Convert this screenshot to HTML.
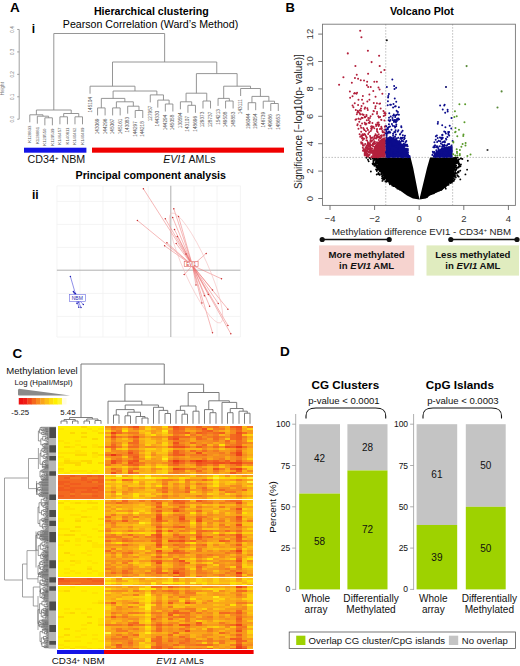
<!DOCTYPE html>
<html><head><meta charset="utf-8"><style>
html,body{margin:0;padding:0;background:#fff;}
svg{display:block;font-family:"Liberation Sans", sans-serif;}
</style></head><body>
<svg width="520" height="666" viewBox="0 0 520 666">
<rect width="520" height="666" fill="#fff"/>
<g id="A">
<text x="10" y="12.2" font-size="13.5" font-weight="bold" text-anchor="start" fill="#000">A</text>
<text x="93.9" y="14.5" font-size="10.67" font-weight="bold" text-anchor="start" fill="#000">Hierarchical clustering</text>
<text x="62.8" y="27.7" font-size="10.64" text-anchor="start" fill="#000">Pearson Correlation (Ward&#8217;s Method)</text>
<text x="31.8" y="33" font-size="12" font-weight="bold" text-anchor="start" fill="#000">i</text>
<g stroke="#888" stroke-width="0.8" fill="none">
<path d="M19.2 29.5V119.2"/>
<path d="M17.2 119.2H19.2"/>
<path d="M17.2 96.77H19.2"/>
<path d="M17.2 74.34H19.2"/>
<path d="M17.2 51.91H19.2"/>
<path d="M17.2 29.48H19.2"/>
</g>
<text transform="translate(13.8 119.2) rotate(-90)" font-size="4.6" text-anchor="middle" fill="#777">0.0</text>
<text transform="translate(13.8 96.77) rotate(-90)" font-size="4.6" text-anchor="middle" fill="#777">0.1</text>
<text transform="translate(13.8 74.34) rotate(-90)" font-size="4.6" text-anchor="middle" fill="#777">0.2</text>
<text transform="translate(13.8 51.91) rotate(-90)" font-size="4.6" text-anchor="middle" fill="#777">0.3</text>
<text transform="translate(13.8 29.48) rotate(-90)" font-size="4.6" text-anchor="middle" fill="#777">0.4</text>
<text transform="translate(3.6 88.7) rotate(-90)" font-size="4.6" text-anchor="middle" fill="#777">Height</text>
<path d="M29.8 114.8V122.3M37.33 116.2V123.7M44.86 117.8V125.3M52.39 117.8V125.3M44.86 117.8H52.39M48.62 116.2V117.8M37.33 116.2H48.62M42.98 114.8V116.2M29.8 114.8H42.98M36.39 110V114.8M59.92 116.8V124.3M67.45 116.8V124.3M59.92 116.8H67.45M63.69 113.5V116.8M74.98 116.8V124.3M82.51 116.8V124.3M74.98 116.8H82.51M78.75 113.5V116.8M63.69 113.5H78.75M71.22 110V113.5M36.39 110H71.22M53.8 33.5V110M90.04 86.2V93.7M97.57 107.9V115.4M105.1 107.9V115.4M97.57 107.9H105.1M101.33 98.4V107.9M112.63 107.9V115.4M120.16 107.9V115.4M112.63 107.9H120.16M116.39 101.8V107.9M127.69 106.2V113.7M135.22 110.5V118M142.75 110.5V118M135.22 110.5H142.75M138.99 106.2V110.5M127.69 106.2H138.99M133.34 101.8V106.2M116.39 101.8H133.34M124.87 98.4V101.8M101.33 98.4H124.87M113.1 91V98.4M150.28 94.9V102.4M157.81 100.1V107.6M165.34 104V111.5M172.87 104V111.5M165.34 104H172.87M169.11 100.1V104M157.81 100.1H169.11M163.46 94.9V100.1M150.28 94.9H163.46M156.87 91V94.9M113.1 91H156.87M134.98 86.2V91M90.04 86.2H134.98M112.51 62V86.2M180.4 101.8V109.3M187.93 105.3V112.8M195.46 105.3V112.8M187.93 105.3H195.46M191.69 101.8V105.3M180.4 101.8H191.69M186.05 93.2V101.8M202.99 101V108.5M210.52 101V108.5M202.99 101H210.52M206.75 93.2V101M186.05 93.2H206.75M196.4 73.6V93.2M218.05 98.4V105.9M225.58 101V108.5M233.11 101V108.5M225.58 101H233.11M229.35 98.4V101M218.05 98.4H229.35M223.7 86.2V98.4M240.64 88.5V96M248.17 102.7V110.2M255.7 102.7V110.2M248.17 102.7H255.7M251.94 96.4V102.7M263.23 101.2V108.7M270.76 103.5V111M278.29 103.5V111M270.76 103.5H278.29M274.52 101.2V103.5M263.23 101.2H274.52M268.88 96.4V101.2M251.94 96.4H268.88M260.41 88.5V96.4M240.64 88.5H260.41M250.52 86.2V88.5M223.7 86.2H250.52M237.11 73.6V86.2M196.4 73.6H237.11M216.76 62V73.6M112.51 62H216.76M164.63 33.5V62M53.8 33.5H164.63" stroke="#8a8a8a" stroke-width="0.9" fill="none"/>
<text transform="translate(31.3 125.5) rotate(-90)" font-size="4.3" text-anchor="end" fill="#555">K128833</text>
<text transform="translate(38.83 126.9) rotate(-90)" font-size="4.3" text-anchor="end" fill="#555">K128881</text>
<text transform="translate(46.36 128.5) rotate(-90)" font-size="4.3" text-anchor="end" fill="#555">K129550</text>
<text transform="translate(53.89 128.5) rotate(-90)" font-size="4.3" text-anchor="end" fill="#555">K129539</text>
<text transform="translate(61.42 127.5) rotate(-90)" font-size="4.3" text-anchor="end" fill="#555">K146457</text>
<text transform="translate(68.95 127.5) rotate(-90)" font-size="4.3" text-anchor="end" fill="#555">K140811</text>
<text transform="translate(76.48 127.5) rotate(-90)" font-size="4.3" text-anchor="end" fill="#555">K140462</text>
<text transform="translate(84.01 127.5) rotate(-90)" font-size="4.3" text-anchor="end" fill="#555">K140409</text>
<text transform="translate(91.54 96.9) rotate(-90)" font-size="4.7" text-anchor="end" fill="#555">145104</text>
<text transform="translate(99.07 118.6) rotate(-90)" font-size="4.7" text-anchor="end" fill="#555">143069</text>
<text transform="translate(106.6 118.6) rotate(-90)" font-size="4.7" text-anchor="end" fill="#555">144296</text>
<text transform="translate(114.13 118.6) rotate(-90)" font-size="4.7" text-anchor="end" fill="#555">145067</text>
<text transform="translate(121.66 118.6) rotate(-90)" font-size="4.7" text-anchor="end" fill="#555">145161</text>
<text transform="translate(129.19 116.9) rotate(-90)" font-size="4.7" text-anchor="end" fill="#555">143083</text>
<text transform="translate(136.72 121.2) rotate(-90)" font-size="4.7" text-anchor="end" fill="#555">144297</text>
<text transform="translate(144.25 121.2) rotate(-90)" font-size="4.7" text-anchor="end" fill="#555">144218</text>
<text transform="translate(151.78 105.6) rotate(-90)" font-size="4.7" text-anchor="end" fill="#555">127957</text>
<text transform="translate(159.31 110.8) rotate(-90)" font-size="4.7" text-anchor="end" fill="#555">144330</text>
<text transform="translate(166.84 114.7) rotate(-90)" font-size="4.7" text-anchor="end" fill="#555">144294</text>
<text transform="translate(174.37 114.7) rotate(-90)" font-size="4.7" text-anchor="end" fill="#555">145058</text>
<text transform="translate(181.9 112.5) rotate(-90)" font-size="4.7" text-anchor="end" fill="#555">130594</text>
<text transform="translate(189.43 116) rotate(-90)" font-size="4.7" text-anchor="end" fill="#555">143107</text>
<text transform="translate(196.96 116) rotate(-90)" font-size="4.7" text-anchor="end" fill="#555">148696</text>
<text transform="translate(204.49 111.7) rotate(-90)" font-size="4.7" text-anchor="end" fill="#555">129373</text>
<text transform="translate(212.02 111.7) rotate(-90)" font-size="4.7" text-anchor="end" fill="#555">128737</text>
<text transform="translate(219.55 109.1) rotate(-90)" font-size="4.7" text-anchor="end" fill="#555">154213</text>
<text transform="translate(227.08 111.7) rotate(-90)" font-size="4.7" text-anchor="end" fill="#555">149508</text>
<text transform="translate(234.61 111.7) rotate(-90)" font-size="4.7" text-anchor="end" fill="#555">148853</text>
<text transform="translate(242.14 99.2) rotate(-90)" font-size="4.7" text-anchor="end" fill="#555">143111</text>
<text transform="translate(249.67 113.4) rotate(-90)" font-size="4.7" text-anchor="end" fill="#555">196044</text>
<text transform="translate(257.2 113.4) rotate(-90)" font-size="4.7" text-anchor="end" fill="#555">196054</text>
<text transform="translate(264.73 111.9) rotate(-90)" font-size="4.7" text-anchor="end" fill="#555">146739</text>
<text transform="translate(272.26 114.2) rotate(-90)" font-size="4.7" text-anchor="end" fill="#555">149686</text>
<text transform="translate(279.79 114.2) rotate(-90)" font-size="4.7" text-anchor="end" fill="#555">148653</text>
<rect x="24" y="147.7" width="62.4" height="5" fill="#1414e6"/>
<rect x="92" y="147.6" width="192" height="5.1" fill="#f00000"/>
<text x="27.6" y="163" font-size="10.7" fill="#111">CD34<tspan font-size="6" dy="-2.6">+</tspan><tspan dy="2.6"> NBM</tspan></text>
<text x="163.2" y="163.2" font-size="10.6" fill="#111"><tspan font-style="italic">EVI1</tspan> AMLs</text>
</g>
<g id="Aii">
<text x="75.6" y="179.1" font-size="10.67" font-weight="bold" text-anchor="start" fill="#000">Principal component analysis</text>
<text x="32" y="198.75" font-size="12" font-weight="bold" text-anchor="start" fill="#000">ii</text>
<path d="M56.9 185.8V337M79.9 185.8V337M102.9 185.8V337M125.9 185.8V337M148.2 185.8V337M194 185.8V337M217 185.8V337M240.4 185.8V337M56.9 185.8H240.4M56.9 201.4H240.4M56.9 224.4H240.4M56.9 247.4H240.4M56.9 293.4H240.4M56.9 316.4H240.4M56.9 337H240.4" stroke="#f1f1f1" stroke-width="0.8" fill="none"/>
<path d="M170.8 185.8V337M56.9 270.2H240.4" stroke="#9a9a9a" stroke-width="0.8" fill="none"/>
<path d="M192.5 265.5L143.4 188.8M192.5 265.5L137.4 220.4M192.5 265.5L173.8 208.8M192.5 265.5L178.5 216.5M192.5 265.5L172.7 217.6M192.5 265.5L165.3 218.8M192.5 265.5L174.5 229.6M192.5 265.5L177.3 236.5M192.5 265.5L166.9 242.8M192.5 265.5L164.6 245.8M192.5 265.5L176.2 243.5M192.5 265.5L206.2 253.4M192.5 265.5L221.5 278.8M192.5 265.5L184.2 274.6M192.5 265.5L212.5 290M192.5 265.5L204.4 295.8M192.5 265.5L208.3 294.6M192.5 265.5L209.6 306.2M192.5 265.5L218.3 303.5M192.5 265.5L227.9 309.2M192.5 265.5L227.9 325.4M192.5 265.5L212.5 332.7M192.5 265.5L230.8 333.7M192.5 265.5L201.9 303M192.5 265.5L196 285M192.5 265.5L186 254" stroke="#ec7272" stroke-width="0.6" fill="none" opacity="0.85"/>
<ellipse cx="196" cy="268" rx="12" ry="60" transform="rotate(-24 196 268)" stroke="#f2b5b5" stroke-width="0.5" fill="none"/>
<path d="M143.4 188.8h0M137.4 220.4h0M173.8 208.8h0M178.5 216.5h0M172.7 217.6h0M165.3 218.8h0M174.5 229.6h0M177.3 236.5h0M166.9 242.8h0M164.6 245.8h0M176.2 243.5h0M206.2 253.4h0M221.5 278.8h0M184.2 274.6h0M212.5 290h0M204.4 295.8h0M208.3 294.6h0M209.6 306.2h0M218.3 303.5h0M227.9 309.2h0M227.9 325.4h0M212.5 332.7h0M230.8 333.7h0M201.9 303h0M196 285h0M186 254h0" stroke="#c83030" stroke-width="1.5" stroke-linecap="round" fill="none"/>
<rect x="184.2" y="261.3" width="13.9" height="5.4" fill="#fff" stroke="#e06060" stroke-width="0.6"/>
<text x="191.2" y="265.7" font-size="4.5" text-anchor="middle" fill="#d03030">EVI1</text>
<path d="M76.5 297.5L70.4 276.5M76.5 297.5L74.2 292.7M76.5 297.5L73.4 291.6M76.5 297.5L75.5 293.5M76.5 297.5L78.8 302M76.5 297.5L83.3 304.5M76.5 297.5L78.8 307.3M76.5 297.5L81 307.5M76.5 297.5L77 303.5" stroke="#6060e0" stroke-width="0.7" fill="none"/>
<path d="M70.4 276.5h0M74.2 292.7h0M73.4 291.6h0M75.5 293.5h0M78.8 302h0M83.3 304.5h0M78.8 307.3h0M81 307.5h0M77 303.5h0" stroke="#2020b0" stroke-width="1.5" stroke-linecap="round" fill="none"/>
<rect x="69.4" y="294.6" width="15.9" height="6.7" fill="#fff" stroke="#6a6ae0" stroke-width="0.6"/>
<text x="77.3" y="299.6" font-size="5" text-anchor="middle" fill="#2a2ab0">NBM</text>
</g>
<g id="B">
<text x="285.4" y="11.5" font-size="13" font-weight="bold" text-anchor="start" fill="#000">B</text>
<text x="390" y="14.6" font-size="10.7" font-weight="bold" text-anchor="start" fill="#000">Volcano Plot</text>
<path d="M385.75 24.2V205.4M452.65 24.2V205.4M322.5 157.4H515.4" stroke="#999" stroke-width="0.7" stroke-dasharray="1.4 1.6" fill="none"/>
<polygon points="410.6,157.5 413.2,168 419.4,199.4 413,198.6 407,195.6 400,190.5 392,185.5 386.5,180 380.6,170 375.8,157.5" fill="#000"/>
<polygon points="430,157.5 427,168 419.4,199.4 426,198.6 430,195.6 441.5,190.5 448,185.5 452.5,180 454.6,170 454.6,157.5" fill="#000"/>
<path d="M454.61 179.16h0M439.39 189.59h0M381.34 172.1h0M410.99 193.53h0M455.96 173.47h0M382.91 172.67h0M381.84 172.37h0M400.92 187.52h0M459.18 166.22h0M452.57 176.51h0M384.71 177.27h0M376.26 157.49h0M453.29 169.01h0M414.04 195.95h0M452.84 181.22h0M373.61 163.47h0M397.52 188.65h0M389.59 181.34h0M384.74 174.63h0M430.31 193.67h0M422.4 196.53h0M400.04 187.34h0M422.28 196.69h0M452.92 174.91h0M384.24 176.91h0M389.89 181.44h0M421.35 197.11h0M405.16 189.69h0M414.92 195.46h0M455.65 166.43h0M454.47 164.14h0M384.15 173.98h0M423.66 196.51h0M456.12 159.02h0M378.21 164.06h0M406.53 191.01h0M379.62 164.64h0M381.75 172.14h0M456.26 169.84h0M386.92 180.39h0M431.07 192.8h0M445.32 186.92h0M392.24 185.47h0M434.7 192.11h0M384.1 174.91h0M399.41 189.03h0M427.84 194.38h0M437.18 190.13h0M384.77 176.03h0M450.38 179.24h0M376.82 171.03h0M453.24 178.27h0M377.23 169.28h0M450.57 177.97h0M393.59 184.46h0M379.32 167.85h0M456.21 165.61h0M457.58 161.34h0M374.71 159.62h0M455.16 172.3h0M391.37 182.07h0M453.16 171.73h0M457.62 162.18h0M454.61 174.05h0M384.62 178.75h0M396.49 184.8h0M386.07 178.02h0M453.54 166.14h0M399.67 186.97h0M382.73 172.82h0M455.03 167.18h0M456.43 161.7h0M449.04 181.05h0M376.63 165.11h0M454.65 162.16h0M398.94 188.79h0M385.32 177.41h0M393.7 186.13h0M431.41 192.65h0M450.34 180.68h0M455.38 170.43h0M395.14 186.08h0M455.39 170.18h0M379.08 165.68h0M453.05 171.66h0M379.53 164.17h0M378.87 166.17h0M430.95 192.8h0M376.36 159.05h0M403.56 190.03h0M379.77 167.13h0M392.68 183.39h0M386.17 181.5h0M377.48 168.43h0M384.03 179.23h0M450.86 182.16h0M383.42 178.71h0M376.22 165.41h0M445.79 188.66h0M451.82 175.8h0M399.55 186.73h0M450.34 179.61h0M455.17 166.61h0M454.32 162.66h0M375.08 165.35h0M454.26 160.74h0M436.61 191.22h0M376.38 159.42h0M455.83 167.02h0M380.89 168.17h0M451.7 176.36h0M376.28 163.55h0M394.43 185.03h0M384.27 174.37h0M386.5 180.8h0M416.18 196.03h0M458.69 176.63h0M408.12 192.29h0M378.72 169.68h0M454.83 160.55h0M444.43 186.43h0M453.24 161.34h0M384.81 176.27h0M373.4 160.37h0M379.93 169.24h0M422.27 196.66h0M444.74 184.33h0M383.62 177.28h0M454.21 163.28h0M373.45 162.22h0M448.51 182.2h0M382.36 175.75h0M385.59 176.09h0M374.37 164.93h0M445.58 184.58h0M379.14 166.21h0M377.34 161.87h0M429.59 193.63h0M432.56 193.28h0M403.37 189.16h0M433.82 193.31h0M434.07 192.54h0M385.75 177.15h0M425.02 196.16h0M407.08 191.31h0M436.1 190.85h0M376.45 160.3h0M381.36 170.08h0M455.85 166.75h0M392.19 183.04h0M383.68 173.26h0M439.57 189.17h0M451.1 179.09h0M405.97 190.57h0M394.73 184.27h0M458.41 162.93h0M376.72 174.5h0M453.36 165.15h0M398.76 186.02h0M459.14 164.76h0M435.22 191.84h0M377.17 166.65h0M388.25 181.01h0M386.61 178.5h0M377.84 161.85h0M460.27 170.67h0M442.49 188.55h0M448.85 181.65h0M382.55 171.61h0M411.85 196.22h0M456.78 167.78h0M454.48 166.88h0M421.98 196.7h0M457.32 175.28h0M373.06 158.71h0M410.35 194.1h0M386.65 181.78h0M373.11 163.13h0M452.05 180.06h0M453.5 173.38h0M452.81 176.06h0M445.41 185.87h0M414.22 196.06h0M450.22 180.89h0M425.77 195.03h0M454.34 157.85h0M411.2 194.21h0M375.6 158.47h0M412.42 195.32h0M386.02 178.52h0M381.22 173.15h0M409.36 192.44h0M391.8 182.96h0M455.18 170.59h0M455.05 173.25h0M375.64 164.74h0M377.67 159.28h0M454.89 161.66h0M396.69 186.21h0M402.43 189.59h0M386.24 177.18h0M426.84 194.71h0M399.51 186.82h0M384.86 175.61h0M376.42 167.1h0M447.93 182.3h0M448.25 183.06h0M374.74 163.81h0M454.85 165.26h0M376.31 166.59h0M450.67 179.48h0M435.6 191.03h0M396.15 185.57h0M430.55 193.28h0M410.57 194.01h0M454.97 164.74h0M396.17 185.26h0M381.67 170.82h0M453.87 169.51h0M395.21 185.89h0M440.94 188.44h0M454.3 168.95h0M451.2 179.73h0M376.86 158.68h0M431.33 193.78h0M384 173.9h0M454.3 167.78h0M375.43 163.9h0M438.19 190.11h0M415.67 196.25h0M455.04 175.51h0M379.09 165.17h0M451.81 174.01h0M411.75 193.89h0M373.37 161.41h0M430.25 193.26h0M396.42 187.38h0M445.69 183.69h0M448.54 181.46h0M435 191.7h0M384.25 175.78h0M453.94 180.82h0M456.86 163.22h0M370.82 159.08h0M385.29 176.32h0M386.8 180.43h0M399.06 187.37h0M406.42 190.47h0M448.31 181.66h0M382.03 178.4h0M397.04 185.07h0M427.73 194.65h0M422.92 196.45h0M410.34 192.81h0M391.26 182.85h0M452.3 176.92h0M441.43 189.78h0M457.85 159.89h0M459.11 163.22h0M391.19 183.54h0M385.77 177.96h0M433.95 191.79h0M453.41 158.35h0M377 160.41h0M455.68 162.4h0M388.7 180.39h0M452.11 180.61h0M374.07 164.95h0M453.33 171.82h0M384.91 174.41h0M417.76 197.08h0M398.71 186.41h0M458.36 161.78h0M453.32 175.54h0M413.58 196.37h0M431.27 193.52h0M441 188.85h0M453.43 164.07h0M446.17 184.57h0M386.65 178.57h0M391.54 182.84h0M386.2 178.78h0M379.66 171.15h0M453.19 178.25h0M452.04 174.72h0M372.59 163.58h0M377.71 161.31h0M453.59 175.69h0M454.62 159.22h0M438.37 189.63h0M454.06 168.07h0M451.88 178.46h0M450.76 179.38h0M411.05 193.38h0M439.49 189.98h0M380.91 169.16h0M400.19 188.13h0M453.38 166.49h0M454.92 160.55h0M403.4 188.97h0M460.94 164.51h0M452.86 172.38h0M457.28 172.77h0M382.09 170.9h0M398.4 186.77h0M432.89 192.91h0M440.48 188.99h0M378.5 172.84h0M443.7 187.04h0M386.08 177.25h0M381.42 174.32h0M381.23 168.71h0M383.77 174.59h0M411.51 193.82h0M450.79 178.14h0M456.26 160.22h0M396.34 186.56h0M400.62 187.65h0M453.56 174.87h0M458.39 161.49h0M384 173.23h0M453.14 169.91h0M441.85 187.56h0M384.01 175.36h0M452.99 179.08h0M367.97 159.81h0M446.53 184.91h0M377.61 166.8h0M441.56 189.2h0M432.17 192.43h0M405.89 190.23h0M392.26 183.94h0M378.3 168.46h0M431.52 193.06h0M448.5 180.78h0M457.58 157.61h0M372.85 164.35h0M453.17 176.23h0M389 180.43h0M454.09 168.3h0M453.13 168.05h0M381.91 173.55h0M441.53 187.42h0M460.89 158.49h0M377.36 169.52h0M376.46 159.77h0M455.82 157.43h0M377.44 165.14h0M458.65 171.33h0M409.68 193.21h0M433.63 192.21h0M443.67 185.24h0M439.51 190.3h0M450.72 181.35h0M381.14 169.63h0M453.36 161.43h0M389.89 184.24h0M384.57 178.35h0M402.76 189.08h0M450.4 183.06h0M415.83 196.49h0M377.28 159.41h0M452.93 171.3h0M456.25 161.36h0M377.44 168.8h0M460.44 166.18h0M412.08 193.99h0M454.34 169.67h0M403.89 189.94h0M399.3 186.27h0M378.28 173.69h0M405.01 189.96h0M398.2 186.13h0M378.02 160.69h0M382.3 176.04h0M451.03 175.78h0M374.89 165.22h0M399.71 189.6h0M397.04 186.04h0M369.64 157.89h0M458.52 172.42h0M413.91 194.74h0M452.57 175.04h0M425.65 195.86h0M382.75 177.04h0M432.94 192.68h0M442.53 187.78h0M380.8 168.68h0M398.42 186.81h0M397.71 186.75h0M378.91 173.42h0M403.84 189.98h0M453.14 172.96h0M377.79 168.4h0M411.07 194.25h0M378.55 165.68h0M383.34 172.37h0M444.95 184.64h0M458.4 166.72h0M438.5 190.31h0M442.99 187.27h0M374.42 165.87h0M445.46 184.58h0M375.5 158.57h0M407.94 192.03h0M378.19 167.53h0M421.99 197h0M448.56 181.52h0M383.57 178.38h0M380.65 168.64h0M396.18 185.38h0M387.22 178.79h0M451.7 182.67h0M401.44 188.46h0M390.28 181.12h0M373.66 160.9h0M451.48 178.75h0M391.51 182.08h0M440.16 188.57h0M459.24 165.18h0M401.09 189.04h0M452.46 178.35h0M375.45 157.67h0M390.61 181.91h0M426.16 195.26h0M415.84 196.39h0M457.48 167.67h0M401.83 188.49h0M392.8 182.78h0M405.31 191.68h0M378.56 168.39h0M391.52 181.86h0M455.89 163.18h0M382.07 176.5h0M395.87 185.12h0M386.37 176.71h0M425.51 195.87h0M455.05 169.56h0M444.96 184.66h0M440.55 188.99h0M453.16 175.88h0M377.18 162.72h0M431.01 193.05h0M414.33 195.51h0M458.64 167.45h0M455.91 158.37h0M380.8 170.89h0M380.88 169.75h0M453.62 159.18h0M431.72 193.56h0M433.58 192.37h0M445.77 184.09h0M379.96 169.19h0M385.19 178.25h0M390.11 183.2h0M377.74 161.07h0M451.04 178.13h0M377.89 169.31h0M377.72 161.27h0M389.76 181.06h0M449.17 182.14h0M400.29 187.06h0M425.91 195.73h0M398.28 186.72h0M458.16 171.61h0M389.22 182.72h0M378.14 166.48h0M450.47 180.62h0M428.45 194.41h0M375.99 160.99h0M454.27 165.19h0M374.02 158.31h0M452.47 173.08h0M398.7 187.81h0M457.8 160.32h0M379.34 163.4h0M452.27 172.32h0M416.02 196.36h0M376.03 169.5h0M436.26 190.79h0M455.03 165.15h0M455.1 167.37h0M399.57 187.71h0M373.93 160.68h0M375.87 162.27h0M448.57 184.81h0M454.27 176.77h0M449.42 180.73h0M428.13 195.01h0M456.26 169.56h0M456.43 168.69h0M403.13 189.84h0M376.16 163.65h0M454.49 169.04h0M378.73 165.3h0M395.01 185.53h0M460.95 158.44h0M372.85 158.57h0M445.1 186.48h0M389.23 181.37h0M413.98 195.2h0M392.53 182.97h0M387.94 181.06h0M402.82 190.33h0M444.71 184.85h0M386.15 180.91h0M454.32 158.16h0M397.27 185.9h0M383.08 179.56h0M455.77 162.15h0M433.02 192.35h0M452.87 174.53h0M452.7 172.29h0M439.97 189.14h0M379.7 174.92h0M394.94 184.84h0M426.96 196.97h0M440.04 189.1h0M452.17 177.89h0M382.39 174.99h0M456.65 168.48h0M455.82 177.41h0M467.82 160.74h0M382.41 180.9h0M456.24 158.76h0M454.82 173.21h0M465.43 174.42h0M452.9 180.49h0M449.16 181.79h0M459.1 159.26h0M458.52 172.21h0M366.43 157.75h0M462.41 158.97h0M457.79 175.88h0M452.55 181.48h0M458.71 164.2h0M459.2 165.86h0M378.75 174.36h0M458.5 159.74h0M382.49 176.79h0M455.43 176.85h0M455.66 176.98h0M384.19 179.45h0M451.85 181.52h0M467.12 169.67h0M368.7 161.35h0M385.43 181.55h0M460.31 179.39h0M370.87 171.45h0M454.48 160.17h0" stroke="#000" stroke-width="1.9" stroke-linecap="round" fill="none"/>
<path d="M372 157.4L373 150L376 144L381 139L385.7 137V157.4Z" fill="#b3203c"/>
<path d="M385.7 157.4V139L390 136L396 139L402 144L407 150L410 157.4Z" fill="#0c0c8c"/>
<path d="M432.5 157.4L434 154L438 150L444 147L452.6 146V157.4Z" fill="#0c0c8c"/>
<path d="M369.68 152.21h0M371.17 128.4h0M367.18 150.4h0M367.79 109.94h0M378.63 137.16h0M377.06 157.31h0M383.27 132.07h0M377.08 111.98h0M384.41 149.78h0M358.6 118.79h0M384.42 129.87h0M372.95 145.92h0M364.66 153.86h0M381.2 144.18h0M380.66 108.46h0M367.16 81.73h0M375.51 134.3h0M380.04 138.33h0M366.91 156.31h0M367.3 149.7h0M363.56 150.67h0M357.07 92.84h0M366.56 116.01h0M381.16 119.76h0M364.06 138.79h0M364.57 150.94h0M369.39 94.53h0M373.84 144.32h0M361.26 143.38h0M384.8 143.34h0M369.51 154.58h0M372.03 137.69h0M365.11 134.4h0M371.07 150.18h0M368.19 134.01h0M381.16 151.67h0M363.15 145.09h0M370.55 145.16h0M382.67 146.87h0M367.76 155.45h0M372.63 114.23h0M365.18 124.32h0M349.88 91.53h0M361.14 142.37h0M361.2 131.71h0M375.01 137.98h0M365.17 149.23h0M383.72 152.31h0M359.8 110.33h0M363.75 138.41h0M379.38 155.86h0M374.95 147.55h0M383.71 152.02h0M363.86 145.53h0M369.87 117.99h0M363.38 149.04h0M365.88 135.94h0M380.45 156.57h0M358.1 104.99h0M362.87 96.05h0M370.36 141.42h0M373.8 102.95h0M377.41 135.41h0M385.24 115.33h0M357.66 124.14h0M372.4 156.72h0M361.14 127.7h0M377.69 132.14h0M361.84 142.43h0M379.58 89.49h0M383.15 154.53h0M375.4 156.66h0M366.17 153.03h0M381.29 126.76h0M376.09 135.14h0M379.11 137.81h0M380.86 152.17h0M367.74 143.75h0M384.07 134.42h0M359.27 121.7h0M360.14 114.58h0M375.11 157.17h0M368.76 155.51h0M369.16 151.86h0M368.97 149.01h0M384.38 146.57h0M377.18 143.23h0M373.28 90.94h0M370.53 137.28h0M381.04 72.22h0M370.72 130.95h0M356.15 119.24h0M368.5 146.72h0M370.05 135.93h0M367.75 155.51h0M377.09 144.77h0M383.59 154.12h0M367.7 155.21h0M370.6 116.35h0M384.93 129.46h0M372.09 127.63h0M374.49 136.44h0M379.26 142.63h0M375.59 155.96h0M368.85 149.24h0M360.99 108.49h0M378.8 139.89h0M372.88 143.39h0M358.48 128.65h0M374.49 154.83h0M366.52 137.92h0M356.4 93.77h0M363.83 129.04h0M360.52 125.68h0M364.73 122.85h0M364.33 149.3h0M369.87 143.37h0M353.42 107.28h0M378.29 157.22h0M375.52 146.65h0M372.67 152.88h0M378.33 155.02h0M356.76 74.72h0M382.3 139.55h0M378.58 122.38h0M369.62 145.65h0M377.03 124.47h0M378.78 146.22h0M379.4 103.69h0M378.89 124.51h0M377.05 131.18h0M362.53 143.69h0M373.6 139.3h0M376.85 129.78h0M376.22 151.89h0M380.53 148.25h0M368.01 156.39h0M358.09 78.87h0M374.3 156.85h0M372.04 156.25h0M377.53 122.72h0M373.46 157.18h0M378.15 154.54h0M362.74 139.98h0M381.72 144.11h0M358.74 112.26h0M383.99 135.71h0M375.76 151.42h0M378.74 134.31h0M357.8 110.75h0M351.84 82.82h0M372.66 156.89h0M365.95 154.99h0M361.68 117.87h0M383.96 151.4h0M364.68 108.82h0M371.53 129.54h0M373.51 111.08h0M376.58 148.36h0M370.2 147.22h0M382.35 93.86h0M373.89 155.39h0M379.22 124.8h0M383.92 148.35h0M374.36 156.31h0M365.84 124.55h0M382.83 152.45h0M364.03 80.54h0M367.92 142.3h0M368.78 119.96h0M367.41 155.05h0M384.47 150.48h0M372 144.91h0M379.92 128.93h0M369.92 121.82h0M366.36 152.31h0M355.79 110.11h0M378.36 124.67h0M356.8 114.14h0M361.41 135.48h0M362.39 143.17h0M354.95 77.96h0M377.44 157.07h0M367.97 130.04h0M364.75 116.86h0M364.73 152.33h0M362.02 135.29h0M362.98 150.73h0M364.37 134.11h0M358.36 118.65h0M383.16 144.45h0M380.49 142.44h0M363.59 135.07h0M381.84 144.46h0M375.9 156.61h0M384.72 132.41h0M378.64 125.9h0M365.21 154.14h0M361.87 136.1h0M381.77 136.64h0M375.07 149.5h0M363.3 127.94h0M364.72 117.36h0M374.88 149.01h0M372.86 143.74h0M372.39 148.52h0M384.48 139.74h0M365.12 107.6h0M361 110.7h0M355.52 119.64h0M375.16 143.79h0M371.07 157.29h0M369.12 132.34h0M379.76 151.09h0M360.46 119.29h0M383.85 138.43h0M365.17 144.09h0M372.76 137.47h0M369.52 143.2h0M365.91 131.15h0M358.49 99.73h0M378.71 143.88h0M359.88 113.59h0M376.89 81.64h0M354.75 103.26h0M378.21 155.09h0M380.75 128.51h0M375.56 106.22h0M375.98 124.41h0M380.2 150.32h0M366.56 137.6h0M369.42 150.33h0M369.44 145.66h0M380.19 144.19h0M384.04 153.03h0M372.39 123.11h0M366.03 153.62h0M384.86 126.8h0M366.8 120.29h0M372.17 140.53h0M369.46 143.93h0M374.31 128.35h0M366.98 145.17h0M371.78 128.34h0M378.93 136.65h0M384.81 112.58h0M371.76 127.75h0M371.55 150.2h0M382.72 132.23h0M380.63 138.02h0M373.88 111.23h0M379.73 145.95h0M381 155.98h0M371.13 152.67h0M376.91 103.32h0M373.22 153.99h0M375.97 153.87h0M378.31 116.24h0M368.77 122.8h0M379.66 154.84h0M382.39 131.08h0M371.87 150.85h0M367.33 108.37h0M385.33 126.06h0M377.29 147.03h0M370.73 87.01h0M384.21 113.2h0M362.28 137.55h0M366.44 114.95h0M364.66 151.62h0M364.67 155.01h0M362.17 114.33h0M380.54 135.64h0M369.07 145.41h0M373.48 126.7h0M383.42 110.92h0M383.04 147.66h0M366.32 146.1h0M380.15 117.12h0M382.43 146.79h0M371.92 126.2h0M376.24 149.82h0M369.42 99.74h0M366.4 123.63h0M370.59 138.94h0M380.07 144.39h0M376.84 137.78h0M380.45 145.87h0M368.18 87.03h0M384.73 150.97h0M365.6 150.46h0M369.03 145.58h0M370.11 149.86h0M366.47 140.19h0M374.79 135.77h0M371.04 147.94h0M361.56 106.1h0M376.28 138.58h0M354.1 93.52h0M370.01 152.87h0M363.56 114.86h0M375.55 96.64h0M375.72 145.98h0M376 152.13h0M377.02 129.11h0M366.76 148.46h0M364.42 130.12h0M357.33 112.51h0M354.75 92.94h0M366.82 137.5h0M360.23 136.65h0M372.32 126.78h0M376.14 126.02h0M376.34 153.41h0M385.6 153.16h0M375 154.61h0M383.69 115.94h0M381.83 128.27h0M377 136.86h0M367.09 140.41h0M375.02 142.05h0M381.39 119.89h0M368.15 145.05h0M352.54 105.58h0M370.5 148.85h0M368.43 146.61h0M380.08 103.54h0M362.98 145.23h0M369.71 144.9h0M375.25 108.3h0M385.55 113.39h0M380.94 145.43h0M379.74 145.19h0M368.21 156.66h0M372.1 151.92h0M362.56 134.16h0M363.34 103.4h0M368.17 152.08h0M365.26 154.45h0M378.85 146.79h0M375.8 150.38h0M357.79 112.29h0M362.56 117.97h0M377.42 149.35h0M374.57 146.96h0M350.12 97.69h0M364.65 154.88h0M366.87 85.32h0M362.06 123.44h0M371.12 151.45h0M352.53 96.31h0M369.63 154.85h0M362.01 138.22h0M372.66 152.15h0M367.59 153.7h0M384.42 120.51h0M381.66 146.74h0M367.1 128.37h0M365.07 155.54h0M370.42 140.68h0M370.23 144.4h0M373.91 142.78h0M378.93 117.54h0M367.18 147.21h0M383.68 150.07h0M378.48 87.62h0M376.98 142.17h0M376.63 148.67h0M381.92 135.22h0M383.93 135.48h0M380.59 155.04h0M376.96 149.49h0M365.64 147.5h0M371.1 126.53h0M363.28 114.94h0M370.33 146.5h0M368.23 118.04h0M365.22 117.22h0M374.31 81.75h0M357.35 125.37h0M361.56 135.79h0M369.4 154.54h0M367.72 148.53h0M371.48 141.56h0M378.92 149.18h0M362.03 99.68h0M381.71 128.89h0M362.81 147.42h0M372.71 150.86h0M369.61 123.09h0M359.61 134.15h0M377.03 113.65h0M374.24 141.22h0M365.2 124.28h0M369.01 148.7h0M385.17 141.16h0M375.94 147.47h0M369.89 151.09h0M360.75 80.26h0M367.35 101.4h0" stroke="#b3203c" stroke-width="2" stroke-linecap="round" fill="none"/>
<path d="M387.7 105.2h0M409.72 157.01h0M388.58 154.05h0M392.9 140.07h0M389.69 121.18h0M390.15 104.69h0M405.45 142.29h0M404.57 138.4h0M386.73 137.16h0M395.91 122.35h0M390.1 151.28h0M396.24 126.23h0M397.48 111.69h0M393.48 103.98h0M398.14 137.69h0M407.87 152.49h0M403.62 151.24h0M394.96 106.55h0M405.22 154.88h0M389.55 139.3h0M398.47 156.57h0M407.93 156.86h0M397.04 145.8h0M400.55 148.74h0M390.7 116.59h0M398.91 149.71h0M399.42 151.6h0M395.1 144.52h0M396.57 139.01h0M409.45 155.88h0M395.54 150.17h0M406.6 148.93h0M393.08 107.43h0M387.92 148.98h0M388.63 120.27h0M393.27 144.4h0M393.9 150.86h0M386.62 153.91h0M402.96 144.8h0M389.93 140.28h0M386.81 137.95h0M404.29 148.7h0M393.09 115.67h0M394.76 126.59h0M398.43 145.2h0M392.33 79.43h0M401.77 146.87h0M393.1 140.45h0M401.46 132.19h0M405.62 141.99h0M397.76 157.1h0M392.85 140.85h0M402 154.31h0M391.74 148.03h0M408.91 156.7h0M388.43 150.26h0M391.69 153.39h0M388.93 124.33h0M387.99 152.08h0M390.33 146.96h0M402.45 150.47h0M398.9 114.8h0M394.8 156.76h0M386.34 126.33h0M397.19 153.67h0M402.66 149.48h0M395.05 136.58h0M391.09 152.69h0M387.26 152.31h0M389 139.38h0M396.74 121.2h0M397.67 156.44h0M386.64 142.18h0M386.4 146.44h0M385.83 133.5h0M406.32 140.97h0M389.97 126.6h0M388.77 144.83h0M405.39 150.51h0M385.92 129.41h0M400.19 149.54h0M404.58 154.23h0M395.07 120.65h0M404.96 150.01h0M389.85 145.58h0M389.42 152.05h0M395.04 127.4h0M402.3 137.79h0M388.11 97.54h0M405.34 148.84h0M393.28 133.82h0M389.78 139.87h0M386.94 154.5h0M391.07 149.55h0M406.83 145.41h0M398.88 154.67h0M396.32 124.52h0M402.39 145.09h0M408.53 157.04h0M402.17 138.33h0M387.57 128.73h0M390.01 156.27h0M406.23 145.85h0M392.5 117.94h0M401.25 141.39h0M407.86 150.76h0M396.62 110.65h0M399.08 119.31h0M392.4 140.04h0M391.24 151.97h0M407.87 156.43h0M386.3 151.58h0M388.11 151.15h0M393.12 147.72h0M396.94 154.23h0M393.67 148.59h0M391.49 129.81h0M404.7 144.59h0M390.93 104.86h0M408.51 156.72h0M390.49 145.53h0M391.4 155.14h0M388.93 151.29h0M409.54 156.57h0M387.85 129.19h0M403.36 146.63h0M387.26 145.86h0M394.41 150.58h0M395.18 116.97h0M399.69 147.3h0M402.17 156.58h0M398.35 130.27h0M392.23 150.04h0M387.72 157.23h0M396.42 154.64h0M389.93 132.64h0M399.76 146.89h0M386.18 141.08h0M395.09 115.76h0M391.24 151.46h0M404.72 138.2h0M394.81 150.64h0M389.51 144.01h0M406.31 148.84h0M403.42 144.04h0M405.82 152.41h0M390.07 132.31h0M400.52 144.99h0M398.6 143.42h0M398.6 152.89h0M403.85 150.2h0M407.87 149.73h0M390.6 143.12h0M388.61 148.57h0M386.66 135.48h0M392.25 142.13h0M388.19 132.73h0M400.33 138.65h0M388.78 153.04h0M400.41 149.74h0M385.95 152.43h0M403.71 147.83h0M407.89 154.58h0M389.25 145.73h0M394.55 155.67h0M389.62 146.76h0M397.68 155.96h0M396.03 152.58h0M401.2 147.55h0M390.62 143.23h0M405.88 154.14h0M388.7 156.55h0M405.46 156.21h0M405.69 144.6h0M392.77 141.22h0M402.06 148.14h0M404.41 153.08h0M386.69 148.79h0M398.49 150.48h0M407.1 154.79h0M393.79 114.56h0M397.16 118.77h0M389.17 144.7h0M398.88 107.2h0M394.28 147.51h0M400.51 156.14h0M392.71 125.67h0M399.84 151.8h0M388.98 131.48h0M400.53 151.95h0M405.31 156.71h0M404.78 151.17h0M389.41 147.43h0M388.47 157.08h0M403.26 152.44h0M397.75 131.43h0M400.96 151.37h0M393.04 135.72h0M396.92 156h0M390.14 153.27h0M387.43 149.26h0M390.45 119.88h0M398.09 119.8h0M407.38 157.22h0M395.61 130.15h0M393.96 121.95h0M389.35 156.98h0M405.39 151.29h0M387.92 128.32h0M388.28 150.32h0M393.94 153.14h0M389.1 148.6h0M390.75 139.78h0M393.93 121.1h0M402.81 148.17h0M391.59 150.45h0M392.72 155.25h0M402.83 153.01h0M401.78 150.19h0M387.36 152.1h0M394.75 151.42h0M389.01 117.79h0M389.39 153.49h0M407.98 152.6h0M389.27 113.24h0M397.39 156.56h0M388.12 142.96h0M402.93 148.5h0M403.05 157.38h0M401.77 138.41h0M395.93 146.43h0M388.71 145.38h0M390.96 145.54h0M386.77 151.04h0M387.05 154.56h0M390.85 144.6h0M396.57 144.07h0M388.7 153.04h0M400.08 142.5h0M396.07 138.13h0M386.27 143.14h0M404.09 151.39h0M388.1 149.62h0M404.37 148.42h0M388.41 155.7h0M404.83 146.06h0M391.33 149.26h0M387.58 133.38h0M399.49 151.64h0M401.25 126.27h0M391.83 150.92h0M388.5 149.98h0M403.43 152.17h0M388.91 93.92h0M403.38 156.16h0M396.24 101.74h0M402.4 148.65h0M400.25 133.9h0M407.63 146.24h0M390.27 132.45h0M387.74 148.14h0M404.2 149.68h0M397.25 146.45h0M387.43 132.58h0M396.71 150.22h0M400.74 146.21h0M397.94 111.96h0M400.49 144.44h0M407.05 144.69h0M398.33 142.48h0M395.17 149.11h0M393 133.66h0M397.81 118.91h0M395.73 106.37h0M393.59 143.53h0M401.64 157.1h0M399.93 134.52h0M386.45 134h0M391.45 138.46h0M405.3 149.31h0M396.22 148.87h0M390.09 156.54h0M390.77 153.52h0M386.78 145.24h0M387.8 155.87h0M405 135.66h0M395.86 134.61h0M404.28 155.1h0M387.56 155.12h0M404.54 145.62h0M405.51 151.28h0M407.77 150.76h0M402.85 135.34h0M394.49 88.88h0M397.81 153.81h0M401.32 144.46h0M399.16 153.11h0M389.99 151.9h0M403.56 147.58h0M393.37 144.13h0M394.1 153.19h0M391.85 149.03h0M390.95 151.28h0M401.21 151.67h0M398.87 141.27h0M396.28 115.06h0M395.29 155.11h0M401.95 145.19h0M387.76 144.98h0M400.17 146.78h0M394.29 132.11h0M386.54 153.44h0M402.13 145.9h0M398.15 155.48h0M397.6 142.46h0M387.89 153.07h0M393.08 157.04h0M392.79 120.06h0M394.13 86.12h0M395.11 142.99h0M403.75 143.82h0M389.31 150.71h0M396.31 119.76h0M394.77 149.6h0M399.22 155.65h0M395.29 132.05h0M400.7 137.75h0M400.29 150.79h0M394.75 98.52h0M401.28 154.08h0M401.85 140.39h0M404.18 137.5h0M388.28 95.94h0M386.75 146.66h0M386.85 87h0M399.49 148.26h0M389.57 148.18h0M390.63 145.93h0M401.43 146.33h0M396 151.56h0M396.85 140.97h0M402.6 130.87h0M387.92 101.34h0M388.34 146.57h0M393.76 137.69h0M394.45 126.27h0M386.33 131.09h0M394.45 141.79h0M387.64 128h0M402.11 155.87h0M395.67 150.91h0M407.85 148.89h0M403.19 141.33h0M401.38 127.36h0M392.18 147.66h0M405.21 145.5h0M393.97 122.09h0M398.3 118.39h0M400.93 156.72h0M386.58 131.45h0M400.31 149.61h0M397.31 145.77h0M391.97 155.85h0M391.88 124.02h0M398.73 146.68h0M395.29 151.94h0M404.71 145.82h0M388.96 127.02h0M402.17 145.9h0M394.67 120.1h0M399.23 140.99h0M404.11 139.3h0M396.15 87.8h0M402.7 155.21h0M392.05 149.33h0M407.38 155.67h0M394.68 120.55h0M390.24 146.08h0M397.62 114.31h0M399.24 154.39h0M437.76 123.71h0M451.27 128.38h0M444.48 145.73h0M450.1 147.57h0M443.43 154.63h0M443.25 154.15h0M450.84 157.07h0M444.83 141.29h0M438.21 148.05h0M451.48 151.61h0M442.08 137.51h0M440.91 143.44h0M447.68 111.44h0M445.95 138.84h0M439.84 146.35h0M450.9 152.49h0M438.42 149.04h0M444.02 145.78h0M449.19 144.02h0M445.93 154.84h0M449.21 135.38h0M450.59 155.82h0M446.84 156.88h0M436.74 146.33h0M445.13 152.17h0M446.41 152.97h0M442.77 137.84h0M450.45 153.51h0M439.96 137.47h0M448.5 134.45h0M434.72 147.14h0M434.42 145.71h0M432.37 155.02h0M443.88 156.65h0M435.54 157.09h0M434.42 142.27h0M435.83 136.13h0M433.33 147.33h0M446.33 139.41h0M447.59 109.7h0M451.08 154.6h0M448.75 149.24h0M437.97 122.11h0M450.51 154.23h0M449.33 147.6h0M436.78 147.19h0M443.98 153.6h0M445.41 127.32h0M434.54 151.94h0M436.87 135.53h0M444.93 142.25h0M437.15 142.03h0M448.11 144.12h0M444.28 152.85h0M442.59 138.18h0M436.54 147.01h0M439.43 155.91h0M441.28 152.14h0M448.34 133.92h0M451.49 118.01h0M442.12 146.66h0M441.09 153.91h0M443.73 149.12h0M452.58 140.91h0M436.8 151.24h0M434.56 155.41h0M438.55 154.44h0M443.31 154.93h0M451.01 150.25h0M443.7 141.75h0M442.56 142.2h0M442.41 146.84h0M434.28 152.8h0M434.25 156.22h0M444.2 131.48h0M440.53 137.87h0M447.05 145.31h0M445.53 152.39h0M433.05 152.72h0M444.78 151.97h0M436.29 150.32h0M441.68 148.95h0M446.93 153.56h0M448.09 156.19h0M435.15 153.41h0M450.47 148.31h0M450.25 149.31h0M444.07 146.54h0M448.23 131.97h0M448.4 132.63h0M444.66 104.66h0M435.62 156.83h0M445.22 153.2h0M435.19 155.34h0M437.16 156.17h0M438.98 150.84h0M451.05 152.89h0M442.2 125.29h0M432.35 154.98h0M449.72 125.8h0M439.73 157.15h0M437.38 155.45h0M438.58 149.16h0M437.7 146.42h0M442.08 134.96h0M446.35 145.75h0M450.72 155.53h0M449.13 132.09h0M446.31 150.16h0M442.44 144.82h0M445.22 131.9h0M439.47 151.55h0M435.72 139.63h0M434.57 152.54h0M440.13 105.52h0M444.71 155.6h0M437.66 138.04h0M444.31 156.88h0M438.65 140.64h0M448.53 147.43h0M451.47 150.6h0M443.94 152.46h0M442.33 134.87h0M447.72 150.44h0M438.98 152.47h0M449.2 149.73h0M442.56 134.96h0M445.18 112.8h0M444.47 144.7h0M435.01 145.2h0M444.22 105.62h0M451.4 150.08h0M445.88 133.53h0M451.5 151.13h0M444.41 156.95h0M442.73 109.53h0M440.24 141.34h0M449.19 153.25h0M451.43 145.4h0M442.72 145.86h0M450.28 147.22h0M442.69 156.49h0M439.27 155.35h0M439.99 152.58h0M441.58 139.35h0M448.79 147.53h0M432.82 151.85h0M446.81 153.33h0M441.87 148.55h0M447.37 137.04h0" stroke="#0c0c8c" stroke-width="2" stroke-linecap="round" fill="none"/>
<path d="M455.59 131.79h0M457.04 152.97h0M463.48 134.56h0M459.85 154.03h0M455.1 132.2h0M465.48 145.43h0M456.73 116.13h0M453.37 142.45h0M458.99 129.78h0M455.25 155.57h0M455.48 128.03h0M456.69 149.27h0M459.89 149.91h0M454.94 111.34h0M459.4 104.27h0M467.38 155.92h0M459.8 155.31h0M464.45 122.26h0M454.34 117.04h0M465.16 104.26h0M457.35 155.38h0M453.25 154.23h0M462.62 143.98h0M470.52 154.51h0M465.62 142.93h0M453.3 141.79h0M456.99 151.69h0M457.29 136.18h0M463.25 135.9h0M461.36 146.78h0" stroke="#5a9a2a" stroke-width="2" stroke-linecap="round" fill="none"/>
<path d="M466.6 66.1h0M501.6 91.4h0M497.5 107.5h0" stroke="#5a8a3a" stroke-width="2.1" stroke-linecap="round"/>
<circle cx="487.5" cy="150" r="1.05" fill="#333"/>
<circle cx="386.8" cy="40.2" r="1.05" fill="#111"/>
<circle cx="446" cy="87" r="1.05" fill="#0c0c6c"/>
<circle cx="360.2" cy="30.7" r="1.05" fill="#b3203c"/>
<circle cx="361.4" cy="37.2" r="1.05" fill="#b3203c"/>
<circle cx="347.8" cy="53.4" r="1.05" fill="#b3203c"/>
<circle cx="367.9" cy="50.8" r="1.05" fill="#b3203c"/>
<circle cx="379.1" cy="55.8" r="1.05" fill="#b3203c"/>
<circle cx="371.6" cy="62.1" r="1.05" fill="#b3203c"/>
<circle cx="355.4" cy="66" r="1.05" fill="#b3203c"/>
<circle cx="379.7" cy="66" r="1.05" fill="#b3203c"/>
<circle cx="384.4" cy="70" r="1.05" fill="#b3203c"/>
<circle cx="368.1" cy="73.7" r="1.05" fill="#b3203c"/>
<circle cx="339.1" cy="84.8" r="1.05" fill="#b3203c"/>
<circle cx="343.4" cy="77.3" r="1.05" fill="#b3203c"/>
<rect x="322.5" y="24.2" width="192.9" height="181.2" fill="none" stroke="#777" stroke-width="0.9"/>
<path d="M318.2 198.5H322.5M318.2 171.1H322.5M318.2 143.7H322.5M318.2 116.3H322.5M318.2 88.9H322.5M318.2 61.5H322.5M318.2 34.1H322.5M330 205.4V210M374.6 205.4V210M419.2 205.4V210M463.8 205.4V210M508.4 205.4V210" stroke="#666" stroke-width="0.9" fill="none"/>
<text transform="translate(312.8 198.5) rotate(-90)" font-size="9.5" text-anchor="middle" fill="#333">0</text>
<text transform="translate(312.8 171.1) rotate(-90)" font-size="9.5" text-anchor="middle" fill="#333">2</text>
<text transform="translate(312.8 143.7) rotate(-90)" font-size="9.5" text-anchor="middle" fill="#333">4</text>
<text transform="translate(312.8 116.3) rotate(-90)" font-size="9.5" text-anchor="middle" fill="#333">6</text>
<text transform="translate(312.8 88.9) rotate(-90)" font-size="9.5" text-anchor="middle" fill="#333">8</text>
<text transform="translate(312.8 61.5) rotate(-90)" font-size="9.5" text-anchor="middle" fill="#333">10</text>
<text transform="translate(312.8 34.1) rotate(-90)" font-size="9.5" text-anchor="middle" fill="#333">12</text>
<text x="330" y="222" font-size="9.5" text-anchor="middle" fill="#333">&#8722;4</text>
<text x="374.6" y="222" font-size="9.5" text-anchor="middle" fill="#333">&#8722;2</text>
<text x="419.2" y="222" font-size="9.5" text-anchor="middle" fill="#333">0</text>
<text x="463.8" y="222" font-size="9.5" text-anchor="middle" fill="#333">2</text>
<text x="508.4" y="222" font-size="9.5" text-anchor="middle" fill="#333">4</text>
<text transform="translate(301.8 121.5) rotate(-90)" font-size="10" text-anchor="middle" fill="#222">Significance [&#8722;log10(p- value)]</text>
<text x="421.6" y="234.6" font-size="9.7" text-anchor="middle" fill="#222">Methylation difference EVI1 - CD34<tspan font-size="5.5" dy="-2.5">+</tspan><tspan dy="2.5"> NBM</tspan></text>
<path d="M322.2 239.5H389.2M450.8 239.5H517" stroke="#111" stroke-width="1.4"/>
<circle cx="322.2" cy="239.5" r="2.6" fill="#111"/>
<circle cx="389.2" cy="239.5" r="2.6" fill="#111"/>
<circle cx="450.8" cy="239.5" r="2.6" fill="#111"/>
<circle cx="517" cy="239.5" r="2.6" fill="#111"/>
<rect x="319" y="245.4" width="95.2" height="30.2" fill="#f6d3cf"/>
<rect x="426.5" y="245.4" width="92.5" height="30.2" fill="#e0ecbf"/>
<text x="366.6" y="258.3" font-size="9.6" font-weight="bold" text-anchor="middle" fill="#111">More methylated</text>
<text x="366.6" y="269.4" font-size="9.6" font-weight="bold" text-anchor="middle" fill="#111">in <tspan font-style="italic">EVI1</tspan> AML</text>
<text x="472.8" y="258.3" font-size="9.6" font-weight="bold" text-anchor="middle" fill="#111">Less methylated</text>
<text x="472.8" y="269.4" font-size="9.6" font-weight="bold" text-anchor="middle" fill="#111">in <tspan font-style="italic">EVI1</tspan> AML</text>
</g>
<g id="C">
<text x="12.5" y="357.5" font-size="13.5" font-weight="bold" text-anchor="start" fill="#000">C</text>
<text x="6.25" y="373.75" font-size="9.6" text-anchor="start" fill="#111">Methylation level</text>
<text x="14.5" y="385" font-size="7.8" text-anchor="start" fill="#111">Log (HpaII/MspI)</text>
<path d="M19 388.8Q18 389 18 390.5V394.5Q18 395.5 19 395.5H70Z" fill="#8a8a8a"/>
<defs><linearGradient id="cb" x1="0" x2="1"><stop offset="0" stop-color="#e60012"/><stop offset="0.2" stop-color="#f04e16"/><stop offset="0.4" stop-color="#f7941d"/><stop offset="0.6" stop-color="#fdc010"/><stop offset="0.8" stop-color="#fff200"/><stop offset="1" stop-color="#fffbd0"/></linearGradient></defs>
<rect x="18.75" y="398" width="4.62" height="6.5" fill="#ee1111"/>
<rect x="23.07" y="398" width="4.62" height="6.5" fill="#f01c14"/>
<rect x="27.39" y="398" width="4.62" height="6.5" fill="#f2441a"/>
<rect x="31.7" y="398" width="4.62" height="6.5" fill="#f4681e"/>
<rect x="36.02" y="398" width="4.62" height="6.5" fill="#f7891f"/>
<rect x="40.34" y="398" width="4.62" height="6.5" fill="#faa41c"/>
<rect x="44.66" y="398" width="4.62" height="6.5" fill="#fcbf16"/>
<rect x="48.98" y="398" width="4.62" height="6.5" fill="#ffda0e"/>
<rect x="53.3" y="398" width="4.62" height="6.5" fill="#fff000"/>
<rect x="57.61" y="398" width="4.62" height="6.5" fill="#fff530"/>
<rect x="61.93" y="398" width="4.62" height="6.5" fill="#fffbe6"/>
<text x="11.3" y="415.2" font-size="7.8" text-anchor="start" fill="#111">-5.25</text>
<text x="60.3" y="415.2" font-size="7.8" text-anchor="start" fill="#111">5.45</text>
<path d="M58 426H64V428H58ZM64 426H70V428H64ZM70 426H75V428H70ZM75 426H81V428H75ZM87 426H92V428H87ZM92 426H98V428H92ZM98 426H104V428H98ZM64 428H70V430H64ZM70 428H75V430H70ZM75 428H81V430H75ZM81 428H87V430H81ZM92 428H98V430H92ZM58 430H64V432H58ZM64 430H70V432H64ZM70 430H75V432H70ZM75 430H81V432H75ZM81 430H87V432H81ZM87 430H92V432H87ZM98 430H104V432H98ZM58 432H64V434H58ZM64 432H70V434H64ZM75 432H81V434H75ZM87 432H92V434H87ZM92 432H98V434H92ZM58 434H64V436H58ZM64 434H70V436H64ZM70 434H75V436H70ZM75 434H81V436H75ZM81 434H87V436H81ZM87 434H92V436H87ZM92 434H98V436H92ZM98 434H104V436H98ZM58 436H64V438H58ZM64 436H70V438H64ZM70 436H75V438H70ZM75 436H81V438H75ZM87 436H92V438H87ZM92 436H98V438H92ZM98 436H104V438H98ZM58 438H64V440H58ZM64 438H70V440H64ZM70 438H75V440H70ZM75 438H81V440H75ZM81 438H87V440H81ZM87 438H92V440H87ZM98 438H104V440H98ZM64 440H70V442H64ZM70 440H75V442H70ZM81 440H87V442H81ZM87 440H92V442H87ZM92 440H98V442H92ZM98 440H104V442H98ZM58 442H64V444H58ZM70 442H75V444H70ZM75 442H81V444H75ZM81 442H87V444H81ZM87 442H92V444H87ZM92 442H98V444H92ZM98 442H104V444H98ZM58 444H64V446H58ZM64 444H70V446H64ZM70 444H75V446H70ZM81 444H87V446H81ZM87 444H92V446H87ZM98 444H104V446H98ZM58 446H64V448H58ZM75 446H81V448H75ZM87 446H92V448H87ZM58 448H64V450H58ZM64 448H70V450H64ZM70 448H75V450H70ZM75 448H81V450H75ZM81 448H87V450H81ZM87 448H92V450H87ZM92 448H98V450H92ZM98 448H104V450H98ZM58 450H64V452H58ZM64 450H70V452H64ZM70 450H75V452H70ZM81 450H87V452H81ZM87 450H92V452H87ZM92 450H98V452H92ZM98 450H104V452H98ZM87 452H92V454H87ZM98 452H104V454H98ZM58 454H64V456H58ZM64 454H70V456H64ZM70 454H75V456H70ZM87 454H92V456H87ZM64 456H70V458H64ZM70 456H75V458H70ZM75 456H81V458H75ZM81 456H87V458H81ZM87 456H92V458H87ZM98 456H104V458H98ZM58 458H64V460H58ZM70 458H75V460H70ZM75 458H81V460H75ZM81 458H87V460H81ZM87 458H92V460H87ZM92 458H98V460H92ZM98 458H104V460H98ZM58 460H64V462H58ZM92 460H98V462H92ZM98 460H104V462H98ZM81 462H87V464H81ZM92 462H98V464H92ZM64 464H70V466H64ZM70 464H75V466H70ZM81 464H87V466H81ZM87 464H92V466H87ZM92 464H98V466H92ZM98 464H104V466H98ZM58 466H64V468H58ZM64 466H70V468H64ZM70 466H75V468H70ZM75 466H81V468H75ZM81 466H87V468H81ZM87 466H92V468H87ZM92 466H98V468H92ZM98 466H104V468H98ZM64 468H70V470H64ZM70 468H75V470H70ZM75 468H81V470H75ZM81 468H87V470H81ZM87 468H92V470H87ZM92 468H98V470H92ZM98 468H104V470H98ZM64 470H70V472H64ZM87 470H92V472H87ZM98 470H104V472H98ZM58 472H64V474H58ZM70 472H75V474H70ZM75 472H81V474H75ZM81 472H87V474H81ZM92 472H98V474H92ZM98 472H104V474H98ZM58 500H64V502H58ZM70 500H75V502H70ZM75 500H81V502H75ZM81 500H87V502H81ZM92 500H98V502H92ZM98 500H104V502H98ZM64 502H70V504H64ZM98 502H104V504H98ZM58 504H64V506H58ZM64 504H70V506H64ZM70 504H75V506H70ZM75 504H81V506H75ZM81 504H87V506H81ZM87 504H92V506H87ZM92 504H98V506H92ZM98 504H104V506H98ZM58 506H64V508H58ZM70 506H75V508H70ZM75 506H81V508H75ZM81 506H87V508H81ZM87 506H92V508H87ZM98 506H104V508H98ZM58 508H64V510H58ZM75 508H81V510H75ZM81 508H87V510H81ZM98 508H104V510H98ZM58 510H64V512H58ZM64 510H70V512H64ZM70 510H75V512H70ZM75 510H81V512H75ZM87 510H92V512H87ZM92 510H98V512H92ZM98 510H104V512H98ZM58 512H64V514H58ZM64 512H70V514H64ZM70 512H75V514H70ZM75 512H81V514H75ZM81 512H87V514H81ZM87 512H92V514H87ZM92 512H98V514H92ZM98 512H104V514H98ZM58 514H64V516H58ZM64 514H70V516H64ZM81 514H87V516H81ZM87 514H92V516H87ZM92 514H98V516H92ZM98 514H104V516H98ZM58 516H64V518H58ZM64 516H70V518H64ZM70 516H75V518H70ZM75 516H81V518H75ZM92 516H98V518H92ZM98 516H104V518H98ZM64 518H70V520H64ZM70 518H75V520H70ZM81 518H87V520H81ZM87 518H92V520H87ZM92 518H98V520H92ZM64 520H70V522H64ZM70 520H75V522H70ZM81 520H87V522H81ZM92 520H98V522H92ZM98 520H104V522H98ZM58 522H64V524H58ZM64 522H70V524H64ZM70 522H75V524H70ZM75 522H81V524H75ZM81 522H87V524H81ZM87 522H92V524H87ZM92 522H98V524H92ZM98 522H104V524H98ZM58 524H64V526H58ZM64 524H70V526H64ZM70 524H75V526H70ZM75 524H81V526H75ZM81 524H87V526H81ZM87 524H92V526H87ZM92 524H98V526H92ZM58 526H64V528H58ZM64 526H70V528H64ZM70 526H75V528H70ZM81 526H87V528H81ZM87 526H92V528H87ZM92 526H98V528H92ZM98 526H104V528H98ZM70 528H75V530H70ZM75 528H81V530H75ZM81 528H87V530H81ZM87 528H92V530H87ZM98 528H104V530H98ZM58 530H64V532H58ZM64 530H70V532H64ZM81 530H87V532H81ZM87 530H92V532H87ZM92 530H98V532H92ZM58 532H64V534H58ZM64 532H70V534H64ZM70 532H75V534H70ZM75 532H81V534H75ZM81 532H87V534H81ZM87 532H92V534H87ZM92 532H98V534H92ZM98 532H104V534H98ZM75 534H81V536H75ZM87 534H92V536H87ZM92 534H98V536H92ZM98 534H104V536H98ZM58 536H64V538H58ZM64 536H70V538H64ZM70 536H75V538H70ZM75 536H81V538H75ZM81 536H87V538H81ZM92 536H98V538H92ZM58 538H64V540H58ZM64 538H70V540H64ZM70 538H75V540H70ZM81 538H87V540H81ZM87 538H92V540H87ZM92 538H98V540H92ZM98 538H104V540H98ZM58 540H64V542H58ZM70 540H75V542H70ZM81 540H87V542H81ZM92 540H98V542H92ZM98 540H104V542H98ZM58 542H64V544H58ZM64 542H70V544H64ZM70 542H75V544H70ZM75 542H81V544H75ZM81 542H87V544H81ZM87 542H92V544H87ZM98 542H104V544H98ZM64 544H70V546H64ZM70 544H75V546H70ZM81 544H87V546H81ZM87 544H92V546H87ZM58 546H64V548H58ZM64 546H70V548H64ZM70 546H75V548H70ZM75 546H81V548H75ZM81 546H87V548H81ZM87 546H92V548H87ZM58 548H64V550H58ZM64 548H70V550H64ZM70 548H75V550H70ZM75 548H81V550H75ZM81 548H87V550H81ZM87 548H92V550H87ZM92 548H98V550H92ZM98 548H104V550H98ZM58 550H64V552H58ZM64 550H70V552H64ZM70 550H75V552H70ZM75 550H81V552H75ZM81 550H87V552H81ZM92 550H98V552H92ZM98 550H104V552H98ZM58 552H64V554H58ZM70 552H75V554H70ZM75 552H81V554H75ZM87 552H92V554H87ZM92 552H98V554H92ZM98 552H104V554H98ZM58 554H64V556H58ZM64 554H70V556H64ZM75 554H81V556H75ZM81 554H87V556H81ZM92 554H98V556H92ZM98 554H104V556H98ZM58 556H64V558H58ZM64 556H70V558H64ZM70 556H75V558H70ZM75 556H81V558H75ZM81 556H87V558H81ZM87 556H92V558H87ZM92 556H98V558H92ZM98 556H104V558H98ZM58 558H64V560H58ZM64 558H70V560H64ZM70 558H75V560H70ZM75 558H81V560H75ZM81 558H87V560H81ZM87 558H92V560H87ZM92 558H98V560H92ZM98 558H104V560H98ZM64 560H70V562H64ZM81 560H87V562H81ZM92 560H98V562H92ZM98 560H104V562H98ZM58 562H64V564H58ZM64 562H70V564H64ZM70 562H75V564H70ZM81 562H87V564H81ZM87 562H92V564H87ZM98 562H104V564H98ZM58 564H64V566H58ZM64 564H70V566H64ZM75 564H81V566H75ZM81 564H87V566H81ZM87 564H92V566H87ZM92 564H98V566H92ZM98 564H104V566H98ZM58 566H64V568H58ZM64 566H70V568H64ZM70 566H75V568H70ZM75 566H81V568H75ZM81 566H87V568H81ZM92 566H98V568H92ZM98 566H104V568H98ZM58 568H64V570H58ZM70 568H75V570H70ZM75 568H81V570H75ZM81 568H87V570H81ZM92 568H98V570H92ZM98 568H104V570H98ZM58 570H64V572H58ZM64 570H70V572H64ZM75 570H81V572H75ZM81 570H87V572H81ZM87 570H92V572H87ZM98 570H104V572H98ZM58 572H64V574H58ZM70 572H75V574H70ZM81 572H87V574H81ZM92 572H98V574H92ZM58 574H64V576H58ZM64 574H70V576H64ZM70 574H75V576H70ZM75 574H81V576H75ZM81 574H87V576H81ZM87 574H92V576H87ZM92 574H98V576H92ZM58 576H64V577H58ZM70 576H75V577H70ZM75 576H81V577H75ZM81 576H87V577H81ZM87 576H92V577H87ZM92 576H98V577H92ZM98 576H104V577H98ZM58 586H64V588H58ZM64 586H70V588H64ZM75 586H81V588H75ZM81 586H87V588H81ZM87 586H92V588H87ZM92 586H98V588H92ZM98 586H104V588H98ZM58 588H64V590H58ZM64 588H70V590H64ZM70 588H75V590H70ZM75 588H81V590H75ZM81 588H87V590H81ZM87 588H92V590H87ZM92 588H98V590H92ZM98 588H104V590H98ZM70 590H75V592H70ZM75 590H81V592H75ZM87 590H92V592H87ZM92 590H98V592H92ZM98 590H104V592H98ZM58 592H64V594H58ZM64 592H70V594H64ZM70 592H75V594H70ZM75 592H81V594H75ZM81 592H87V594H81ZM87 592H92V594H87ZM98 592H104V594H98ZM58 594H64V596H58ZM64 594H70V596H64ZM70 594H75V596H70ZM75 594H81V596H75ZM81 594H87V596H81ZM87 594H92V596H87ZM92 594H98V596H92ZM98 594H104V596H98ZM58 596H64V598H58ZM64 596H70V598H64ZM70 596H75V598H70ZM75 596H81V598H75ZM81 596H87V598H81ZM87 596H92V598H87ZM92 596H98V598H92ZM98 596H104V598H98ZM58 598H64V600H58ZM64 598H70V600H64ZM70 598H75V600H70ZM75 598H81V600H75ZM81 598H87V600H81ZM87 598H92V600H87ZM92 598H98V600H92ZM98 598H104V600H98ZM58 600H64V602H58ZM64 600H70V602H64ZM70 600H75V602H70ZM75 600H81V602H75ZM81 600H87V602H81ZM87 600H92V602H87ZM92 600H98V602H92ZM58 602H64V604H58ZM64 602H70V604H64ZM70 602H75V604H70ZM75 602H81V604H75ZM81 602H87V604H81ZM87 602H92V604H87ZM58 604H64V606H58ZM64 604H70V606H64ZM70 604H75V606H70ZM75 604H81V606H75ZM81 604H87V606H81ZM87 604H92V606H87ZM92 604H98V606H92ZM98 604H104V606H98ZM58 606H64V608H58ZM64 606H70V608H64ZM70 606H75V608H70ZM75 606H81V608H75ZM81 606H87V608H81ZM87 606H92V608H87ZM92 606H98V608H92ZM98 606H104V608H98ZM58 608H64V610H58ZM70 608H75V610H70ZM81 608H87V610H81ZM92 608H98V610H92ZM98 608H104V610H98ZM58 610H64V612H58ZM64 610H70V612H64ZM70 610H75V612H70ZM75 610H81V612H75ZM81 610H87V612H81ZM87 610H92V612H87ZM92 610H98V612H92ZM98 610H104V612H98ZM58 612H64V614H58ZM75 612H81V614H75ZM87 612H92V614H87ZM92 612H98V614H92ZM98 612H104V614H98ZM58 614H64V616H58ZM64 614H70V616H64ZM70 614H75V616H70ZM75 614H81V616H75ZM81 614H87V616H81ZM87 614H92V616H87ZM92 614H98V616H92ZM98 614H104V616H98ZM64 616H70V618H64ZM70 616H75V618H70ZM75 616H81V618H75ZM81 616H87V618H81ZM92 616H98V618H92ZM98 616H104V618H98ZM58 618H64V620H58ZM64 618H70V620H64ZM70 618H75V620H70ZM75 618H81V620H75ZM81 618H87V620H81ZM87 618H92V620H87ZM92 618H98V620H92ZM58 620H64V622H58ZM64 620H70V622H64ZM70 620H75V622H70ZM75 620H81V622H75ZM81 620H87V622H81ZM87 620H92V622H87ZM92 620H98V622H92ZM58 622H64V624H58ZM64 622H70V624H64ZM70 622H75V624H70ZM75 622H81V624H75ZM81 622H87V624H81ZM92 622H98V624H92ZM58 624H64V626H58ZM64 624H70V626H64ZM70 624H75V626H70ZM75 624H81V626H75ZM87 624H92V626H87ZM92 624H98V626H92ZM58 626H64V628H58ZM64 626H70V628H64ZM70 626H75V628H70ZM75 626H81V628H75ZM81 626H87V628H81ZM87 626H92V628H87ZM92 626H98V628H92ZM98 626H104V628H98ZM58 628H64V630H58ZM70 628H75V630H70ZM75 628H81V630H75ZM87 628H92V630H87ZM92 628H98V630H92ZM98 628H104V630H98ZM58 630H64V632H58ZM64 630H70V632H64ZM70 630H75V632H70ZM81 630H87V632H81ZM87 630H92V632H87ZM92 630H98V632H92ZM98 630H104V632H98ZM58 632H64V634H58ZM64 632H70V634H64ZM70 632H75V634H70ZM75 632H81V634H75ZM81 632H87V634H81ZM87 632H92V634H87ZM92 632H98V634H92ZM98 632H104V634H98ZM58 634H64V636H58ZM70 634H75V636H70ZM75 634H81V636H75ZM87 634H92V636H87ZM98 634H104V636H98ZM64 636H70V638H64ZM70 636H75V638H70ZM81 636H87V638H81ZM87 636H92V638H87ZM92 636H98V638H92ZM98 636H104V638H98ZM58 638H64V640H58ZM64 638H70V640H64ZM70 638H75V640H70ZM75 638H81V640H75ZM81 638H87V640H81ZM87 638H92V640H87ZM98 638H104V640H98ZM58 640H64V642H58ZM81 640H87V642H81ZM87 640H92V642H87ZM92 640H98V642H92ZM58 642H64V644H58ZM64 642H70V644H64ZM70 642H75V644H70ZM75 642H81V644H75ZM81 642H87V644H81ZM92 642H98V644H92ZM98 642H104V644H98ZM64 644H70V646H64ZM70 644H75V646H70ZM75 644H81V646H75ZM81 644H87V646H81ZM87 644H92V646H87ZM92 644H98V646H92ZM98 644H104V646H98ZM58 646H64V648H58ZM70 646H75V648H70ZM87 646H92V648H87ZM92 646H98V648H92ZM98 646H104V648H98ZM64 648H70V649H64ZM75 648H81V649H75Z" fill="#fff000" shape-rendering="crispEdges"/>
<path d="M81 426H87V428H81ZM70 432H75V434H70ZM81 432H87V434H81ZM98 432H104V434H98ZM81 436H87V438H81ZM92 438H98V440H92ZM64 446H70V448H64ZM81 446H87V448H81ZM98 446H104V448H98ZM92 452H98V454H92ZM75 454H81V456H75ZM81 454H87V456H81ZM98 454H104V456H98ZM64 460H70V462H64ZM81 460H87V462H81ZM87 460H92V462H87ZM64 462H70V464H64ZM70 462H75V464H70ZM75 462H81V464H75ZM87 462H92V464H87ZM98 462H104V464H98ZM75 464H81V466H75ZM58 468H64V470H58ZM58 502H64V504H58ZM75 502H81V504H75ZM87 502H92V504H87ZM92 502H98V504H92ZM81 516H87V518H81ZM98 518H104V520H98ZM75 520H81V522H75ZM75 526H81V528H75ZM70 530H75V532H70ZM98 530H104V532H98ZM64 534H70V536H64ZM70 534H75V536H70ZM64 540H70V542H64ZM87 540H92V542H87ZM64 552H70V554H64ZM70 560H75V562H70ZM87 568H92V570H87ZM64 590H70V592H64ZM98 602H104V604H98ZM70 612H75V614H70ZM58 616H64V618H58ZM87 616H92V618H87ZM87 622H92V624H87ZM98 624H104V626H98ZM64 628H70V630H64ZM64 634H70V636H64ZM64 640H70V642H64ZM58 648H64V649H58ZM70 648H75V649H70ZM87 648H92V649H87ZM98 648H104V649H98Z" fill="#fcd900" shape-rendering="crispEdges"/>
<path d="M105 426H111V428H105ZM122 426H128V428H122ZM202 426H207V428H202ZM219 426H225V428H219ZM116 428H122V430H116ZM190 428H196V430H190ZM168 430H173V432H168ZM196 430H202V432H196ZM213 430H219V432H213ZM230 430H236V432H230ZM122 432H128V434H122ZM168 432H173V434H168ZM190 432H196V434H190ZM230 432H236V434H230ZM133 434H139V436H133ZM179 434H185V436H179ZM207 434H213V436H207ZM105 436H111V438H105ZM122 436H128V438H122ZM139 436H145V438H139ZM151 436H156V438H151ZM156 436H162V438H156ZM190 436H196V438H190ZM202 436H207V438H202ZM225 436H230V438H225ZM179 438H185V440H179ZM185 438H190V440H185ZM219 438H225V440H219ZM242 438H247V440H242ZM111 440H116V442H111ZM185 440H190V442H185ZM196 440H202V442H196ZM202 440H207V442H202ZM207 440H213V442H207ZM242 440H247V442H242ZM116 442H122V444H116ZM179 442H185V444H179ZM196 442H202V444H196ZM207 442H213V444H207ZM230 442H236V444H230ZM247 442H253V444H247ZM128 444H133V446H128ZM196 444H202V446H196ZM213 444H219V446H213ZM225 444H230V446H225ZM145 446H151V448H145ZM151 446H156V448H151ZM190 446H196V448H190ZM207 446H213V448H207ZM219 446H225V448H219ZM202 448H207V450H202ZM111 450H116V452H111ZM116 450H122V452H116ZM196 450H202V452H196ZM207 450H213V452H207ZM230 450H236V452H230ZM105 452H111V454H105ZM116 452H122V454H116ZM122 452H128V454H122ZM168 452H173V454H168ZM185 452H190V454H185ZM207 452H213V454H207ZM213 452H219V454H213ZM122 454H128V456H122ZM151 454H156V456H151ZM185 454H190V456H185ZM207 454H213V456H207ZM219 454H225V456H219ZM225 454H230V456H225ZM242 454H247V456H242ZM111 456H116V458H111ZM116 456H122V458H116ZM173 456H179V458H173ZM190 456H196V458H190ZM196 456H202V458H196ZM202 456H207V458H202ZM213 456H219V458H213ZM219 456H225V458H219ZM230 456H236V458H230ZM111 458H116V460H111ZM128 458H133V460H128ZM139 458H145V460H139ZM179 458H185V460H179ZM213 458H219V460H213ZM230 458H236V460H230ZM105 460H111V462H105ZM122 460H128V462H122ZM230 460H236V462H230ZM242 460H247V462H242ZM105 462H111V464H105ZM151 462H156V464H151ZM162 462H168V464H162ZM185 462H190V464H185ZM122 464H128V466H122ZM139 464H145V466H139ZM179 464H185V466H179ZM207 464H213V466H207ZM225 464H230V466H225ZM247 464H253V466H247ZM196 466H202V468H196ZM230 466H236V468H230ZM116 468H122V470H116ZM151 468H156V470H151ZM196 468H202V470H196ZM242 468H247V470H242ZM111 470H116V472H111ZM247 470H253V472H247ZM116 472H122V474H116ZM168 472H173V474H168ZM179 472H185V474H179ZM196 472H202V474H196ZM202 472H207V474H202ZM213 472H219V474H213ZM236 472H242V474H236ZM196 475H202V477H196ZM225 475H230V477H225ZM242 475H247V477H242ZM111 479H116V481H111ZM173 479H179V481H173ZM190 479H196V481H190ZM196 479H202V481H196ZM207 479H213V481H207ZM162 481H168V483H162ZM185 481H190V483H185ZM173 483H179V485H173ZM185 483H190V485H185ZM202 483H207V485H202ZM185 485H190V487H185ZM230 485H236V487H230ZM236 485H242V487H236ZM128 487H133V489H128ZM139 487H145V489H139ZM173 487H179V489H173ZM196 487H202V489H196ZM219 487H225V489H219ZM225 487H230V489H225ZM236 487H242V489H236ZM128 489H133V491H128ZM156 489H162V491H156ZM173 489H179V491H173ZM207 489H213V491H207ZM225 489H230V491H225ZM230 489H236V491H230ZM236 489H242V491H236ZM122 491H128V493H122ZM173 491H179V493H173ZM179 491H185V493H179ZM202 491H207V493H202ZM173 495H179V497H173ZM202 495H207V497H202ZM162 497H168V499H162ZM111 500H116V502H111ZM162 500H168V502H162ZM207 500H213V502H207ZM105 502H111V504H105ZM111 502H116V504H111ZM128 502H133V504H128ZM151 502H156V504H151ZM168 502H173V504H168ZM185 502H190V504H185ZM190 502H196V504H190ZM196 502H202V504H196ZM225 502H230V504H225ZM230 502H236V504H230ZM151 504H156V506H151ZM173 504H179V506H173ZM179 504H185V506H179ZM236 504H242V506H236ZM185 506H190V508H185ZM236 506H242V508H236ZM151 508H156V510H151ZM156 508H162V510H156ZM168 508H173V510H168ZM179 508H185V510H179ZM230 508H236V510H230ZM128 510H133V512H128ZM151 510H156V512H151ZM156 512H162V514H156ZM128 514H133V516H128ZM196 514H202V516H196ZM207 514H213V516H207ZM168 516H173V518H168ZM173 516H179V518H173ZM225 516H230V518H225ZM230 516H236V518H230ZM122 518H128V520H122ZM151 518H156V520H151ZM173 518H179V520H173ZM207 518H213V520H207ZM219 518H225V520H219ZM230 518H236V520H230ZM111 520H116V522H111ZM116 520H122V522H116ZM133 520H139V522H133ZM151 520H156V522H151ZM173 520H179V522H173ZM213 520H219V522H213ZM230 520H236V522H230ZM156 522H162V524H156ZM179 522H185V524H179ZM196 522H202V524H196ZM207 522H213V524H207ZM236 522H242V524H236ZM111 524H116V526H111ZM151 524H156V526H151ZM173 524H179V526H173ZM196 524H202V526H196ZM111 526H116V528H111ZM128 526H133V528H128ZM162 526H168V528H162ZM168 526H173V528H168ZM185 526H190V528H185ZM207 526H213V528H207ZM219 526H225V528H219ZM105 528H111V530H105ZM156 528H162V530H156ZM185 528H190V530H185ZM196 528H202V530H196ZM236 528H242V530H236ZM185 530H190V532H185ZM213 530H219V532H213ZM219 530H225V532H219ZM230 530H236V532H230ZM105 534H111V536H105ZM122 534H128V536H122ZM179 534H185V536H179ZM185 534H190V536H185ZM190 534H196V536H190ZM225 534H230V536H225ZM185 536H190V538H185ZM225 536H230V538H225ZM242 536H247V538H242ZM116 538H122V540H116ZM128 538H133V540H128ZM151 538H156V540H151ZM168 538H173V540H168ZM173 538H179V540H173ZM185 538H190V540H185ZM202 538H207V540H202ZM219 538H225V540H219ZM230 538H236V540H230ZM111 540H116V542H111ZM116 540H122V542H116ZM133 540H139V542H133ZM139 540H145V542H139ZM196 540H202V542H196ZM247 540H253V542H247ZM179 542H185V544H179ZM236 542H242V544H236ZM105 544H111V546H105ZM111 544H116V546H111ZM116 544H122V546H116ZM128 544H133V546H128ZM168 544H173V546H168ZM213 544H219V546H213ZM230 544H236V546H230ZM196 546H202V548H196ZM202 546H207V548H202ZM236 546H242V548H236ZM173 548H179V550H173ZM116 550H122V552H116ZM128 550H133V552H128ZM207 550H213V552H207ZM219 550H225V552H219ZM145 552H151V554H145ZM162 552H168V554H162ZM230 552H236V554H230ZM122 554H128V556H122ZM156 554H162V556H156ZM168 554H173V556H168ZM179 554H185V556H179ZM202 554H207V556H202ZM213 554H219V556H213ZM219 554H225V556H219ZM236 554H242V556H236ZM247 554H253V556H247ZM111 556H116V558H111ZM122 556H128V558H122ZM133 556H139V558H133ZM151 556H156V558H151ZM168 556H173V558H168ZM179 556H185V558H179ZM202 556H207V558H202ZM219 556H225V558H219ZM105 560H111V562H105ZM111 560H116V562H111ZM122 560H128V562H122ZM162 560H168V562H162ZM168 560H173V562H168ZM202 560H207V562H202ZM219 560H225V562H219ZM225 560H230V562H225ZM230 560H236V562H230ZM247 560H253V562H247ZM111 562H116V564H111ZM173 562H179V564H173ZM213 562H219V564H213ZM105 564H111V566H105ZM128 564H133V566H128ZM156 564H162V566H156ZM173 564H179V566H173ZM219 564H225V566H219ZM230 564H236V566H230ZM111 566H116V568H111ZM128 566H133V568H128ZM173 566H179V568H173ZM179 566H185V568H179ZM219 566H225V568H219ZM111 568H116V570H111ZM122 568H128V570H122ZM151 568H156V570H151ZM168 568H173V570H168ZM219 568H225V570H219ZM111 570H116V572H111ZM128 570H133V572H128ZM185 570H190V572H185ZM202 570H207V572H202ZM236 570H242V572H236ZM105 572H111V574H105ZM116 572H122V574H116ZM151 572H156V574H151ZM168 572H173V574H168ZM185 572H190V574H185ZM207 572H213V574H207ZM230 572H236V574H230ZM242 572H247V574H242ZM122 574H128V576H122ZM133 574H139V576H133ZM151 574H156V576H151ZM156 574H162V576H156ZM168 574H173V576H168ZM185 574H190V576H185ZM196 574H202V576H196ZM202 574H207V576H202ZM213 574H219V576H213ZM230 574H236V576H230ZM247 574H253V576H247ZM128 576H133V577H128ZM156 576H162V577H156ZM202 576H207V577H202ZM219 576H225V577H219ZM116 578H122V580H116ZM173 578H179V580H173ZM162 584H168V585H162ZM128 586H133V588H128ZM179 586H185V588H179ZM202 586H207V588H202ZM207 586H213V588H207ZM111 590H116V592H111ZM116 590H122V592H116ZM122 590H128V592H122ZM156 590H162V592H156ZM190 590H196V592H190ZM196 590H202V592H196ZM219 590H225V592H219ZM151 592H156V594H151ZM168 592H173V594H168ZM236 592H242V594H236ZM156 594H162V596H156ZM173 594H179V596H173ZM185 594H190V596H185ZM190 594H196V596H190ZM168 596H173V598H168ZM185 596H190V598H185ZM236 596H242V598H236ZM156 600H162V602H156ZM168 600H173V602H168ZM173 600H179V602H173ZM185 600H190V602H185ZM207 600H213V602H207ZM105 602H111V604H105ZM128 602H133V604H128ZM151 602H156V604H151ZM202 602H207V604H202ZM156 604H162V606H156ZM116 606H122V608H116ZM156 606H162V608H156ZM242 606H247V608H242ZM116 608H122V610H116ZM156 608H162V610H156ZM179 608H185V610H179ZM236 608H242V610H236ZM242 608H247V610H242ZM162 610H168V612H162ZM202 610H207V612H202ZM116 612H122V614H116ZM139 612H145V614H139ZM207 612H213V614H207ZM242 612H247V614H242ZM122 614H128V616H122ZM156 614H162V616H156ZM179 614H185V616H179ZM230 614H236V616H230ZM116 616H122V618H116ZM168 616H173V618H168ZM190 616H196V618H190ZM202 616H207V618H202ZM219 616H225V618H219ZM242 616H247V618H242ZM128 618H133V620H128ZM133 618H139V620H133ZM156 618H162V620H156ZM196 618H202V620H196ZM202 618H207V620H202ZM207 618H213V620H207ZM225 618H230V620H225ZM151 620H156V622H151ZM168 622H173V624H168ZM173 622H179V624H173ZM122 624H128V626H122ZM190 624H196V626H190ZM202 624H207V626H202ZM219 624H225V626H219ZM242 624H247V626H242ZM225 626H230V628H225ZM128 628H133V630H128ZM168 628H173V630H168ZM185 628H190V630H185ZM242 628H247V630H242ZM151 630H156V632H151ZM168 630H173V632H168ZM179 630H185V632H179ZM128 632H133V634H128ZM225 632H230V634H225ZM236 632H242V634H236ZM128 634H133V636H128ZM185 634H190V636H185ZM202 634H207V636H202ZM207 634H213V636H207ZM230 634H236V636H230ZM111 636H116V638H111ZM168 636H173V638H168ZM185 636H190V638H185ZM202 636H207V638H202ZM219 636H225V638H219ZM128 638H133V640H128ZM173 638H179V640H173ZM179 638H185V640H179ZM190 638H196V640H190ZM111 640H116V642H111ZM116 640H122V642H116ZM122 640H128V642H122ZM173 640H179V642H173ZM190 640H196V642H190ZM202 640H207V642H202ZM213 640H219V642H213ZM122 642H128V644H122ZM162 642H168V644H162ZM168 642H173V644H168ZM190 642H196V644H190ZM207 642H213V644H207ZM111 644H116V646H111ZM122 644H128V646H122ZM168 644H173V646H168ZM179 644H185V646H179ZM213 644H219V646H213ZM242 644H247V646H242ZM247 644H253V646H247ZM128 646H133V648H128ZM185 646H190V648H185ZM219 648H225V649H219Z" fill="#f68b1e" shape-rendering="crispEdges"/>
<path d="M111 426H116V428H111ZM128 426H133V428H128ZM179 426H185V428H179ZM213 426H219V428H213ZM179 428H185V430H179ZM173 430H179V432H173ZM202 430H207V432H202ZM236 430H242V432H236ZM116 432H122V434H116ZM173 432H179V434H173ZM179 432H185V434H179ZM202 432H207V434H202ZM213 432H219V434H213ZM242 432H247V434H242ZM230 434H236V436H230ZM128 436H133V438H128ZM168 436H173V438H168ZM179 436H185V438H179ZM185 436H190V438H185ZM196 436H202V438H196ZM213 436H219V438H213ZM230 436H236V438H230ZM168 438H173V440H168ZM196 438H202V440H196ZM213 438H219V440H213ZM230 438H236V440H230ZM133 440H139V442H133ZM225 440H230V442H225ZM236 440H242V442H236ZM128 442H133V444H128ZM133 442H139V444H133ZM190 442H196V444H190ZM236 442H242V444H236ZM111 444H116V446H111ZM173 444H179V446H173ZM202 444H207V446H202ZM236 444H242V446H236ZM105 446H111V448H105ZM128 446H133V448H128ZM133 446H139V448H133ZM168 446H173V448H168ZM185 446H190V448H185ZM213 446H219V448H213ZM242 446H247V448H242ZM128 450H133V452H128ZM190 450H196V452H190ZM202 450H207V452H202ZM230 452H236V454H230ZM105 454H111V456H105ZM116 454H122V456H116ZM128 454H133V456H128ZM133 454H139V456H133ZM202 454H207V456H202ZM133 458H139V460H133ZM116 460H122V462H116ZM168 460H173V462H168ZM207 460H213V462H207ZM133 462H139V464H133ZM179 462H185V464H179ZM242 462H247V464H242ZM247 462H253V464H247ZM128 464H133V466H128ZM173 464H179V466H173ZM202 464H207V466H202ZM213 464H219V466H213ZM111 468H116V470H111ZM133 468H139V470H133ZM190 468H196V470H190ZM128 470H133V472H128ZM196 470H202V472H196ZM58 475H64V477H58ZM64 475H70V477H64ZM75 475H81V477H75ZM81 475H87V477H81ZM92 475H98V477H92ZM58 477H64V479H58ZM98 477H104V479H98ZM58 479H64V481H58ZM64 479H70V481H64ZM70 479H75V481H70ZM75 479H81V481H75ZM87 479H92V481H87ZM122 479H128V481H122ZM202 479H207V481H202ZM70 481H75V483H70ZM75 481H81V483H75ZM81 481H87V483H81ZM64 483H70V485H64ZM81 483H87V485H81ZM87 483H92V485H87ZM92 483H98V485H92ZM98 483H104V485H98ZM58 485H64V487H58ZM70 485H75V487H70ZM75 485H81V487H75ZM81 485H87V487H81ZM87 485H92V487H87ZM92 485H98V487H92ZM64 487H70V489H64ZM162 487H168V489H162ZM185 487H190V489H185ZM202 487H207V489H202ZM75 489H81V491H75ZM81 489H87V491H81ZM92 489H98V491H92ZM219 489H225V491H219ZM242 489H247V491H242ZM58 491H64V493H58ZM64 491H70V493H64ZM75 491H81V493H75ZM98 491H104V493H98ZM162 491H168V493H162ZM185 491H190V493H185ZM58 493H64V495H58ZM64 493H70V495H64ZM75 493H81V495H75ZM92 493H98V495H92ZM98 493H104V495H98ZM64 495H70V497H64ZM75 495H81V497H75ZM81 495H87V497H81ZM87 495H92V497H87ZM98 495H104V497H98ZM58 497H64V499H58ZM64 497H70V499H64ZM70 497H75V499H70ZM75 497H81V499H75ZM81 497H87V499H81ZM87 497H92V499H87ZM92 497H98V499H92ZM98 497H104V499H98ZM122 500H128V502H122ZM151 500H156V502H151ZM179 500H185V502H179ZM230 500H236V502H230ZM236 500H242V502H236ZM116 502H122V504H116ZM173 502H179V504H173ZM179 506H185V508H179ZM173 508H179V510H173ZM196 510H202V512H196ZM105 516H111V518H105ZM196 516H202V518H196ZM105 520H111V522H105ZM179 520H185V522H179ZM236 520H242V522H236ZM173 526H179V528H173ZM196 530H202V532H196ZM202 530H207V532H202ZM225 530H230V532H225ZM236 530H242V532H236ZM128 534H133V536H128ZM151 534H156V536H151ZM173 534H179V536H173ZM196 534H202V536H196ZM219 534H225V536H219ZM207 536H213V538H207ZM156 538H162V540H156ZM196 538H202V540H196ZM105 540H111V542H105ZM122 540H128V542H122ZM151 540H156V542H151ZM190 540H196V542H190ZM225 540H230V542H225ZM156 542H162V544H156ZM122 544H128V546H122ZM173 544H179V546H173ZM202 544H207V546H202ZM156 546H162V548H156ZM105 550H111V552H105ZM128 552H133V554H128ZM156 552H162V554H156ZM168 552H173V554H168ZM173 552H179V554H173ZM179 552H185V554H179ZM236 552H242V554H236ZM236 558H242V560H236ZM151 560H156V562H151ZM185 562H190V564H185ZM196 566H202V568H196ZM236 566H242V568H236ZM156 568H162V570H156ZM179 568H185V570H179ZM122 570H128V572H122ZM156 570H162V572H156ZM111 572H116V574H111ZM122 572H128V574H122ZM162 572H168V574H162ZM179 572H185V574H179ZM179 574H185V576H179ZM236 574H242V576H236ZM179 576H185V577H179ZM196 576H202V577H196ZM64 578H70V580H64ZM70 578H75V580H70ZM75 578H81V580H75ZM81 578H87V580H81ZM92 578H98V580H92ZM98 578H104V580H98ZM70 580H75V582H70ZM75 580H81V582H75ZM81 580H87V582H81ZM87 580H92V582H87ZM58 582H64V584H58ZM64 582H70V584H64ZM81 582H87V584H81ZM87 582H92V584H87ZM92 582H98V584H92ZM98 582H104V584H98ZM58 584H64V585H58ZM64 584H70V585H64ZM70 584H75V585H70ZM81 584H87V585H81ZM87 584H92V585H87ZM92 584H98V585H92ZM98 584H104V585H98ZM151 586H156V588H151ZM156 586H162V588H156ZM242 586H247V588H242ZM168 590H173V592H168ZM236 590H242V592H236ZM242 590H247V592H242ZM173 610H179V612H173ZM236 610H242V612H236ZM168 612H173V614H168ZM179 612H185V614H179ZM185 612H190V614H185ZM219 612H225V614H219ZM225 612H230V614H225ZM179 616H185V618H179ZM236 616H242V618H236ZM151 618H156V620H151ZM168 618H173V620H168ZM236 620H242V622H236ZM133 622H139V624H133ZM168 624H173V626H168ZM196 624H202V626H196ZM230 624H236V626H230ZM156 628H162V630H156ZM236 628H242V630H236ZM156 630H162V632H156ZM173 632H179V634H173ZM219 632H225V634H219ZM133 634H139V636H133ZM168 634H173V636H168ZM122 636H128V638H122ZM156 636H162V638H156ZM179 636H185V638H179ZM156 638H162V640H156ZM185 638H190V640H185ZM151 640H156V642H151ZM156 640H162V642H156ZM168 640H173V642H168ZM185 640H190V642H185ZM242 640H247V642H242ZM128 642H133V644H128ZM156 642H162V644H156ZM179 642H185V644H179ZM236 642H242V644H236ZM156 644H162V646H156ZM173 644H179V646H173ZM196 644H202V646H196ZM202 644H207V646H202ZM207 644H213V646H207ZM116 646H122V648H116ZM151 646H156V648H151ZM242 646H247V648H242ZM122 648H128V649H122ZM133 648H139V649H133ZM151 648H156V649H151ZM173 648H179V649H173ZM185 648H190V649H185ZM196 648H202V649H196ZM230 648H236V649H230Z" fill="#f36920" shape-rendering="crispEdges"/>
<path d="M116 426H122V428H116ZM168 426H173V428H168ZM185 426H190V428H185ZM190 426H196V428H190ZM207 426H213V428H207ZM247 426H253V428H247ZM111 428H116V430H111ZM133 428H139V430H133ZM196 428H202V430H196ZM213 428H219V430H213ZM219 428H225V430H219ZM230 428H236V430H230ZM116 430H122V432H116ZM179 430H185V432H179ZM128 432H133V434H128ZM133 432H139V434H133ZM207 432H213V434H207ZM111 434H116V436H111ZM173 434H179V436H173ZM190 434H196V436H190ZM202 434H207V436H202ZM213 434H219V436H213ZM116 436H122V438H116ZM207 436H213V438H207ZM219 436H225V438H219ZM242 436H247V438H242ZM111 438H116V440H111ZM133 438H139V440H133ZM202 438H207V440H202ZM173 440H179V442H173ZM179 440H185V442H179ZM213 440H219V442H213ZM111 442H116V444H111ZM225 442H230V444H225ZM242 442H247V444H242ZM133 444H139V446H133ZM179 444H185V446H179ZM230 444H236V446H230ZM116 446H122V448H116ZM202 446H207V448H202ZM111 448H116V450H111ZM236 448H242V450H236ZM133 450H139V452H133ZM179 450H185V452H179ZM213 450H219V452H213ZM133 452H139V454H133ZM179 452H185V454H179ZM219 452H225V454H219ZM168 454H173V456H168ZM190 454H196V456H190ZM196 454H202V456H196ZM230 454H236V456H230ZM128 456H133V458H128ZM236 456H242V458H236ZM116 458H122V460H116ZM173 458H179V460H173ZM202 458H207V460H202ZM219 458H225V460H219ZM236 458H242V460H236ZM185 460H190V462H185ZM219 460H225V462H219ZM116 462H122V464H116ZM139 462H145V464H139ZM168 462H173V464H168ZM190 462H196V464H190ZM105 464H111V466H105ZM168 464H173V466H168ZM230 464H236V466H230ZM128 468H133V470H128ZM185 468H190V470H185ZM202 468H207V470H202ZM219 468H225V470H219ZM116 470H122V472H116ZM173 470H179V472H173ZM179 470H185V472H179ZM213 470H219V472H213ZM133 472H139V474H133ZM173 472H179V474H173ZM70 477H75V479H70ZM75 477H81V479H75ZM87 477H92V479H87ZM92 477H98V479H92ZM128 479H133V481H128ZM162 479H168V481H162ZM168 479H173V481H168ZM185 479H190V481H185ZM236 479H242V481H236ZM92 481H98V483H92ZM162 483H168V485H162ZM196 483H202V485H196ZM162 489H168V491H162ZM185 489H190V491H185ZM202 489H207V491H202ZM111 491H116V493H111ZM225 491H230V493H225ZM230 491H236V493H230ZM70 493H75V495H70ZM81 493H87V495H81ZM87 493H92V495H87ZM162 495H168V497H162ZM196 495H202V497H196ZM236 495H242V497H236ZM139 500H145V502H139ZM156 500H162V502H156ZM185 500H190V502H185ZM202 500H207V502H202ZM225 500H230V502H225ZM122 502H128V504H122ZM202 502H207V504H202ZM207 502H213V504H207ZM219 502H225V504H219ZM156 504H162V506H156ZM196 506H202V508H196ZM219 506H225V508H219ZM179 510H185V512H179ZM236 510H242V512H236ZM236 512H242V514H236ZM111 514H116V516H111ZM173 514H179V516H173ZM179 514H185V516H179ZM122 516H128V518H122ZM133 516H139V518H133ZM202 516H207V518H202ZM162 520H168V522H162ZM185 520H190V522H185ZM219 520H225V522H219ZM247 520H253V522H247ZM111 522H116V524H111ZM156 524H162V526H156ZM219 524H225V526H219ZM196 526H202V528H196ZM225 526H230V528H225ZM236 526H242V528H236ZM105 530H111V532H105ZM128 530H133V532H128ZM179 530H185V532H179ZM207 530H213V532H207ZM156 532H162V534H156ZM196 532H202V534H196ZM111 534H116V536H111ZM230 534H236V536H230ZM105 536H111V538H105ZM111 536H116V538H111ZM116 536H122V538H116ZM133 536H139V538H133ZM145 536H151V538H145ZM151 536H156V538H151ZM173 536H179V538H173ZM202 536H207V538H202ZM122 538H128V540H122ZM179 538H185V540H179ZM128 540H133V542H128ZM185 540H190V542H185ZM202 540H207V542H202ZM242 540H247V542H242ZM179 544H185V546H179ZM185 544H190V546H185ZM196 544H202V546H196ZM179 546H185V548H179ZM111 548H116V550H111ZM196 548H202V550H196ZM236 548H242V550H236ZM179 550H185V552H179ZM196 550H202V552H196ZM230 550H236V552H230ZM111 552H116V554H111ZM122 552H128V554H122ZM185 552H190V554H185ZM225 552H230V554H225ZM196 554H202V556H196ZM207 554H213V556H207ZM196 556H202V558H196ZM236 556H242V558H236ZM173 558H179V560H173ZM128 560H133V562H128ZM173 560H179V562H173ZM196 560H202V562H196ZM122 562H128V564H122ZM179 562H185V564H179ZM236 562H242V564H236ZM179 564H185V566H179ZM196 564H202V566H196ZM202 564H207V566H202ZM236 564H242V566H236ZM156 566H162V568H156ZM105 568H111V570H105ZM128 568H133V570H128ZM173 568H179V570H173ZM196 568H202V570H196ZM225 568H230V570H225ZM236 568H242V570H236ZM151 570H156V572H151ZM179 570H185V572H179ZM196 570H202V572H196ZM230 570H236V572H230ZM128 572H133V574H128ZM145 572H151V574H145ZM196 572H202V574H196ZM202 572H207V574H202ZM225 572H230V574H225ZM219 574H225V576H219ZM122 576H128V577H122ZM70 582H75V584H70ZM75 582H81V584H75ZM173 586H179V588H173ZM185 586H190V588H185ZM133 590H139V592H133ZM151 590H156V592H151ZM162 590H168V592H162ZM173 590H179V592H173ZM185 590H190V592H185ZM173 592H179V594H173ZM185 592H190V594H185ZM190 592H196V594H190ZM133 594H139V596H133ZM236 594H242V596H236ZM179 596H185V598H179ZM133 602H139V604H133ZM156 602H162V604H156ZM190 602H196V604H190ZM236 602H242V604H236ZM242 602H247V604H242ZM128 606H133V608H128ZM168 606H173V608H168ZM185 608H190V610H185ZM190 608H196V610H190ZM190 610H196V612H190ZM111 612H116V614H111ZM128 612H133V614H128ZM133 612H139V614H133ZM151 612H156V614H151ZM156 612H162V614H156ZM196 612H202V614H196ZM230 612H236V614H230ZM185 614H190V616H185ZM236 614H242V616H236ZM122 616H128V618H122ZM156 616H162V618H156ZM173 616H179V618H173ZM185 616H190V618H185ZM207 616H213V618H207ZM185 618H190V620H185ZM185 620H190V622H185ZM128 622H133V624H128ZM156 622H162V624H156ZM219 622H225V624H219ZM236 622H242V624H236ZM105 624H111V626H105ZM111 624H116V626H111ZM116 624H122V626H116ZM133 624H139V626H133ZM139 624H145V626H139ZM151 624H156V626H151ZM162 624H168V626H162ZM225 624H230V626H225ZM156 626H162V628H156ZM185 626H190V628H185ZM236 626H242V628H236ZM242 626H247V628H242ZM116 628H122V630H116ZM133 628H139V630H133ZM179 628H185V630H179ZM207 628H213V630H207ZM116 630H122V632H116ZM122 630H128V632H122ZM207 630H213V632H207ZM116 634H122V636H116ZM236 636H242V638H236ZM111 638H116V640H111ZM116 638H122V640H116ZM122 638H128V640H122ZM151 638H156V640H151ZM168 638H173V640H168ZM207 638H213V640H207ZM128 640H133V642H128ZM179 640H185V642H179ZM196 640H202V642H196ZM207 640H213V642H207ZM219 640H225V642H219ZM185 642H190V644H185ZM219 642H225V644H219ZM128 644H133V646H128ZM162 644H168V646H162ZM185 644H190V646H185ZM190 644H196V646H190ZM230 644H236V646H230ZM162 646H168V648H162ZM168 646H173V648H168ZM111 648H116V649H111ZM116 648H122V649H116ZM128 648H133V649H128ZM162 648H168V649H162ZM179 648H185V649H179ZM190 648H196V649H190ZM202 648H207V649H202Z" fill="#f47920" shape-rendering="crispEdges"/>
<path d="M133 426H139V428H133ZM173 426H179V428H173ZM236 426H242V428H236ZM202 428H207V430H202ZM236 432H242V434H236ZM111 436H116V438H111ZM133 436H139V438H133ZM173 438H179V440H173ZM173 442H179V444H173ZM173 446H179V448H173ZM179 446H185V448H179ZM225 446H230V448H225ZM128 452H133V454H128ZM196 452H202V454H196ZM111 460H116V462H111ZM133 460H139V462H133ZM190 460H196V462H190ZM202 460H207V462H202ZM111 462H116V464H111ZM128 462H133V464H128ZM173 462H179V464H173ZM196 462H202V464H196ZM213 462H219V464H213ZM219 462H225V464H219ZM213 468H219V470H213ZM111 472H116V474H111ZM92 487H98V489H92ZM236 502H242V504H236ZM236 508H242V510H236ZM173 510H179V512H173ZM156 516H162V518H156ZM236 516H242V518H236ZM156 518H162V520H156ZM179 518H185V520H179ZM196 520H202V522H196ZM236 524H242V526H236ZM156 530H162V532H156ZM156 534H162V536H156ZM236 534H242V536H236ZM156 536H162V538H156ZM196 536H202V538H196ZM236 536H242V538H236ZM168 540H173V542H168ZM179 540H185V542H179ZM156 544H162V546H156ZM156 550H162V552H156ZM179 560H185V562H179ZM236 560H242V562H236ZM156 562H162V564H156ZM58 578H64V580H58ZM185 602H190V604H185ZM179 624H185V626H179ZM185 624H190V626H185ZM185 630H190V632H185ZM236 630H242V632H236ZM236 644H242V646H236ZM156 648H162V649H156ZM168 648H173V649H168ZM242 648H247V649H242Z" fill="#ef4f1c" shape-rendering="crispEdges"/>
<path d="M139 426H145V428H139ZM151 426H156V428H151ZM156 426H162V428H156ZM128 428H133V430H128ZM139 428H145V430H139ZM156 428H162V430H156ZM185 428H190V430H185ZM111 430H116V432H111ZM128 430H133V432H128ZM133 430H139V432H133ZM151 430H156V432H151ZM247 430H253V432H247ZM105 432H111V434H105ZM151 432H156V434H151ZM247 432H253V434H247ZM128 434H133V436H128ZM139 434H145V436H139ZM196 434H202V436H196ZM225 434H230V436H225ZM162 436H168V438H162ZM128 438H133V440H128ZM156 438H162V440H156ZM207 438H213V440H207ZM168 440H173V442H168ZM219 440H225V442H219ZM230 440H236V442H230ZM156 442H162V444H156ZM168 442H173V444H168ZM185 442H190V444H185ZM202 442H207V444H202ZM219 442H225V444H219ZM116 444H122V446H116ZM139 444H145V446H139ZM185 444H190V446H185ZM139 446H145V448H139ZM156 446H162V448H156ZM247 446H253V448H247ZM128 448H133V450H128ZM133 448H139V450H133ZM173 448H179V450H173ZM179 448H185V450H179ZM213 448H219V450H213ZM230 448H236V450H230ZM242 448H247V450H242ZM122 450H128V452H122ZM139 450H145V452H139ZM185 450H190V452H185ZM219 450H225V452H219ZM225 450H230V452H225ZM111 452H116V454H111ZM151 452H156V454H151ZM190 452H196V454H190ZM202 452H207V454H202ZM225 452H230V454H225ZM242 452H247V454H242ZM139 454H145V456H139ZM213 454H219V456H213ZM105 456H111V458H105ZM179 456H185V458H179ZM207 456H213V458H207ZM242 456H247V458H242ZM122 458H128V460H122ZM151 458H156V460H151ZM168 458H173V460H168ZM185 458H190V460H185ZM190 458H196V460H190ZM196 458H202V460H196ZM145 460H151V462H145ZM151 460H156V462H151ZM156 460H162V462H156ZM247 460H253V462H247ZM145 462H151V464H145ZM156 462H162V464H156ZM111 464H116V466H111ZM151 464H156V466H151ZM190 464H196V466H190ZM242 464H247V466H242ZM133 466H139V468H133ZM173 466H179V468H173ZM179 466H185V468H179ZM213 466H219V468H213ZM225 466H230V468H225ZM236 466H242V468H236ZM156 468H162V470H156ZM168 468H173V470H168ZM151 470H156V472H151ZM190 470H196V472H190ZM202 470H207V472H202ZM219 470H225V472H219ZM230 470H236V472H230ZM185 472H190V474H185ZM225 472H230V474H225ZM122 475H128V477H122ZM162 475H168V477H162ZM168 475H173V477H168ZM179 475H185V477H179ZM202 475H207V477H202ZM247 475H253V477H247ZM156 479H162V481H156ZM230 479H236V481H230ZM242 479H247V481H242ZM139 483H145V485H139ZM236 483H242V485H236ZM122 485H128V487H122ZM162 485H168V487H162ZM173 485H179V487H173ZM196 485H202V487H196ZM202 485H207V487H202ZM111 487H116V489H111ZM133 487H139V489H133ZM151 487H156V489H151ZM156 487H162V489H156ZM242 487H247V489H242ZM168 489H173V491H168ZM179 489H185V491H179ZM190 489H196V491H190ZM196 489H202V491H196ZM128 491H133V493H128ZM156 491H162V493H156ZM236 491H242V493H236ZM122 493H128V495H122ZM173 493H179V495H173ZM202 493H207V495H202ZM219 493H225V495H219ZM236 493H242V495H236ZM111 495H116V497H111ZM156 495H162V497H156ZM168 495H173V497H168ZM185 495H190V497H185ZM190 495H196V497H190ZM207 495H213V497H207ZM230 495H236V497H230ZM242 495H247V497H242ZM151 497H156V499H151ZM156 497H162V499H156ZM202 497H207V499H202ZM128 500H133V502H128ZM133 500H139V502H133ZM145 500H151V502H145ZM168 500H173V502H168ZM213 500H219V502H213ZM219 500H225V502H219ZM133 502H139V504H133ZM145 502H151V504H145ZM213 502H219V504H213ZM242 502H247V504H242ZM168 504H173V506H168ZM105 506H111V508H105ZM116 506H122V508H116ZM173 506H179V508H173ZM202 506H207V508H202ZM207 506H213V508H207ZM230 506H236V508H230ZM111 508H116V510H111ZM162 508H168V510H162ZM196 508H202V510H196ZM105 510H111V512H105ZM116 510H122V512H116ZM122 510H128V512H122ZM162 510H168V512H162ZM168 510H173V512H168ZM185 510H190V512H185ZM190 510H196V512H190ZM225 510H230V512H225ZM230 510H236V512H230ZM179 512H185V514H179ZM185 512H190V514H185ZM196 512H202V514H196ZM207 512H213V514H207ZM219 512H225V514H219ZM122 514H128V516H122ZM139 514H145V516H139ZM145 514H151V516H145ZM151 514H156V516H151ZM168 514H173V516H168ZM213 514H219V516H213ZM219 514H225V516H219ZM236 514H242V516H236ZM128 516H133V518H128ZM145 516H151V518H145ZM162 516H168V518H162ZM185 516H190V518H185ZM190 516H196V518H190ZM207 516H213V518H207ZM219 516H225V518H219ZM105 518H111V520H105ZM128 518H133V520H128ZM162 518H168V520H162ZM168 518H173V520H168ZM185 518H190V520H185ZM202 518H207V520H202ZM128 520H133V522H128ZM202 520H207V522H202ZM207 520H213V522H207ZM105 522H111V524H105ZM128 522H133V524H128ZM151 522H156V524H151ZM173 522H179V524H173ZM185 522H190V524H185ZM219 522H225V524H219ZM179 524H185V526H179ZM185 524H190V526H185ZM207 524H213V526H207ZM230 524H236V526H230ZM116 526H122V528H116ZM202 526H207V528H202ZM230 526H236V528H230ZM242 526H247V528H242ZM173 528H179V530H173ZM190 528H196V530H190ZM219 528H225V530H219ZM230 528H236V530H230ZM111 530H116V532H111ZM122 530H128V532H122ZM133 530H139V532H133ZM139 530H145V532H139ZM151 530H156V532H151ZM162 530H168V532H162ZM173 530H179V532H173ZM173 532H179V534H173ZM236 532H242V534H236ZM133 534H139V536H133ZM139 534H145V536H139ZM202 534H207V536H202ZM213 534H219V536H213ZM139 536H145V538H139ZM162 536H168V538H162ZM168 536H173V538H168ZM219 536H225V538H219ZM230 536H236V538H230ZM105 538H111V540H105ZM139 538H145V540H139ZM145 538H151V540H145ZM207 538H213V540H207ZM213 538H219V540H213ZM145 540H151V542H145ZM207 540H213V542H207ZM230 540H236V542H230ZM168 542H173V544H168ZM173 542H179V544H173ZM196 542H202V544H196ZM225 542H230V544H225ZM133 544H139V546H133ZM151 544H156V546H151ZM162 544H168V546H162ZM190 544H196V546H190ZM105 546H111V548H105ZM122 546H128V548H122ZM145 546H151V548H145ZM168 546H173V548H168ZM173 546H179V548H173ZM185 546H190V548H185ZM219 546H225V548H219ZM230 546H236V548H230ZM122 548H128V550H122ZM145 548H151V550H145ZM122 550H128V552H122ZM151 550H156V552H151ZM190 550H196V552H190ZM225 550H230V552H225ZM247 550H253V552H247ZM105 552H111V554H105ZM133 552H139V554H133ZM151 552H156V554H151ZM190 552H196V554H190ZM196 552H202V554H196ZM202 552H207V554H202ZM207 552H213V554H207ZM213 552H219V554H213ZM219 552H225V554H219ZM111 554H116V556H111ZM173 554H179V556H173ZM225 554H230V556H225ZM128 556H133V558H128ZM162 556H168V558H162ZM185 556H190V558H185ZM207 556H213V558H207ZM230 556H236V558H230ZM116 558H122V560H116ZM151 558H156V560H151ZM156 558H162V560H156ZM196 558H202V560H196ZM213 558H219V560H213ZM116 560H122V562H116ZM139 560H145V562H139ZM145 560H151V562H145ZM207 560H213V562H207ZM151 562H156V564H151ZM219 562H225V564H219ZM230 562H236V564H230ZM116 564H122V566H116ZM151 564H156V566H151ZM225 564H230V566H225ZM105 566H111V568H105ZM122 566H128V568H122ZM133 566H139V568H133ZM202 566H207V568H202ZM116 568H122V570H116ZM133 568H139V570H133ZM139 568H145V570H139ZM145 568H151V570H145ZM185 568H190V570H185ZM207 568H213V570H207ZM213 568H219V570H213ZM230 568H236V570H230ZM116 570H122V572H116ZM139 570H145V572H139ZM168 570H173V572H168ZM207 570H213V572H207ZM219 570H225V572H219ZM225 570H230V572H225ZM242 570H247V572H242ZM133 572H139V574H133ZM139 572H145V574H139ZM219 572H225V574H219ZM105 574H111V576H105ZM111 574H116V576H111ZM128 574H133V576H128ZM145 574H151V576H145ZM173 574H179V576H173ZM207 574H213V576H207ZM225 574H230V576H225ZM105 576H111V577H105ZM225 576H230V577H225ZM242 576H247V577H242ZM139 578H145V580H139ZM236 578H242V580H236ZM116 580H122V582H116ZM173 580H179V582H173ZM116 584H122V585H116ZM145 584H151V585H145ZM173 584H179V585H173ZM196 584H202V585H196ZM219 584H225V585H219ZM225 584H230V585H225ZM116 586H122V588H116ZM133 586H139V588H133ZM162 586H168V588H162ZM213 586H219V588H213ZM225 586H230V588H225ZM156 588H162V590H156ZM236 588H242V590H236ZM105 590H111V592H105ZM139 590H145V592H139ZM179 590H185V592H179ZM202 590H207V592H202ZM207 590H213V592H207ZM156 592H162V594H156ZM162 592H168V594H162ZM213 592H219V594H213ZM230 592H236V594H230ZM122 594H128V596H122ZM179 594H185V596H179ZM213 594H219V596H213ZM219 594H225V596H219ZM242 594H247V596H242ZM156 596H162V598H156ZM242 596H247V598H242ZM156 598H162V600H156ZM122 600H128V602H122ZM236 600H242V602H236ZM122 602H128V604H122ZM173 602H179V604H173ZM247 602H253V604H247ZM111 604H116V606H111ZM225 604H230V606H225ZM236 604H242V606H236ZM133 606H139V608H133ZM151 606H156V608H151ZM185 606H190V608H185ZM236 606H242V608H236ZM122 608H128V610H122ZM151 608H156V610H151ZM162 608H168V610H162ZM173 608H179V610H173ZM207 608H213V610H207ZM225 608H230V610H225ZM230 608H236V610H230ZM116 610H122V612H116ZM151 610H156V612H151ZM168 610H173V612H168ZM179 610H185V612H179ZM185 610H190V612H185ZM219 610H225V612H219ZM225 610H230V612H225ZM122 612H128V614H122ZM162 612H168V614H162ZM190 612H196V614H190ZM202 612H207V614H202ZM111 614H116V616H111ZM151 614H156V616H151ZM190 614H196V616H190ZM202 614H207V616H202ZM207 614H213V616H207ZM219 614H225V616H219ZM242 614H247V616H242ZM105 616H111V618H105ZM128 616H133V618H128ZM133 616H139V618H133ZM151 616H156V618H151ZM162 616H168V618H162ZM230 616H236V618H230ZM247 616H253V618H247ZM111 618H116V620H111ZM122 618H128V620H122ZM173 618H179V620H173ZM219 618H225V620H219ZM230 618H236V620H230ZM122 620H128V622H122ZM133 620H139V622H133ZM156 620H162V622H156ZM179 620H185V622H179ZM207 620H213V622H207ZM242 620H247V622H242ZM116 622H122V624H116ZM151 622H156V624H151ZM185 622H190V624H185ZM190 622H196V624H190ZM225 622H230V624H225ZM242 622H247V624H242ZM247 622H253V624H247ZM173 624H179V626H173ZM207 624H213V626H207ZM213 624H219V626H213ZM128 626H133V628H128ZM168 626H173V628H168ZM190 626H196V628H190ZM111 628H116V630H111ZM122 628H128V630H122ZM162 628H168V630H162ZM173 628H179V630H173ZM196 628H202V630H196ZM213 628H219V630H213ZM219 628H225V630H219ZM230 628H236V630H230ZM133 630H139V632H133ZM162 630H168V632H162ZM173 630H179V632H173ZM190 630H196V632H190ZM196 630H202V632H196ZM202 630H207V632H202ZM213 630H219V632H213ZM225 630H230V632H225ZM230 630H236V632H230ZM242 630H247V632H242ZM168 632H173V634H168ZM207 632H213V634H207ZM242 632H247V634H242ZM111 634H116V636H111ZM122 634H128V636H122ZM151 634H156V636H151ZM156 634H162V636H156ZM162 634H168V636H162ZM179 634H185V636H179ZM242 634H247V636H242ZM116 636H122V638H116ZM128 636H133V638H128ZM133 636H139V638H133ZM151 636H156V638H151ZM173 636H179V638H173ZM196 636H202V638H196ZM242 636H247V638H242ZM105 638H111V640H105ZM162 638H168V640H162ZM219 638H225V640H219ZM225 638H230V640H225ZM242 638H247V640H242ZM247 638H253V640H247ZM133 640H139V642H133ZM139 640H145V642H139ZM162 640H168V642H162ZM225 640H230V642H225ZM230 640H236V642H230ZM111 642H116V644H111ZM133 642H139V644H133ZM151 642H156V644H151ZM173 642H179V644H173ZM196 642H202V644H196ZM247 642H253V644H247ZM133 644H139V646H133ZM151 644H156V646H151ZM105 646H111V648H105ZM122 646H128V648H122ZM190 646H196V648H190ZM196 646H202V648H196ZM202 646H207V648H202ZM213 646H219V648H213ZM225 646H230V648H225ZM225 648H230V649H225Z" fill="#f89a1b" shape-rendering="crispEdges"/>
<path d="M145 426H151V428H145ZM122 428H128V430H122ZM139 430H145V432H139ZM105 434H111V436H105ZM145 434H151V436H145ZM162 434H168V436H162ZM185 434H190V436H185ZM242 434H247V436H242ZM122 438H128V440H122ZM145 438H151V440H145ZM162 438H168V440H162ZM225 438H230V440H225ZM145 440H151V442H145ZM151 440H156V442H151ZM145 442H151V444H145ZM151 442H156V444H151ZM105 448H111V450H105ZM116 448H122V450H116ZM168 448H173V450H168ZM219 448H225V450H219ZM105 450H111V452H105ZM145 450H151V452H145ZM156 452H162V454H156ZM162 452H168V454H162ZM145 454H151V456H145ZM122 456H128V458H122ZM105 458H111V460H105ZM145 458H151V460H145ZM156 464H162V466H156ZM105 466H111V468H105ZM219 466H225V468H219ZM162 468H168V470H162ZM247 468H253V470H247ZM122 470H128V472H122ZM156 470H162V472H156ZM156 472H162V474H156ZM105 475H111V477H105ZM190 475H196V477H190ZM230 475H236V477H230ZM168 477H173V479H168ZM173 477H179V479H173ZM116 479H122V481H116ZM213 479H219V481H213ZM111 481H116V483H111ZM190 481H196V483H190ZM207 481H213V483H207ZM225 481H230V483H225ZM116 483H122V485H116ZM133 483H139V485H133ZM145 483H151V485H145ZM225 483H230V485H225ZM128 485H133V487H128ZM133 485H139V487H133ZM190 485H196V487H190ZM207 485H213V487H207ZM116 487H122V489H116ZM190 487H196V489H190ZM105 489H111V491H105ZM145 489H151V491H145ZM151 489H156V491H151ZM116 491H122V493H116ZM213 491H219V493H213ZM247 491H253V493H247ZM105 493H111V495H105ZM139 493H145V495H139ZM156 493H162V495H156ZM213 493H219V495H213ZM247 493H253V495H247ZM145 495H151V497H145ZM151 495H156V497H151ZM139 497H145V499H139ZM185 497H190V499H185ZM207 497H213V499H207ZM219 497H225V499H219ZM225 497H230V499H225ZM230 497H236V499H230ZM242 497H247V499H242ZM247 502H253V504H247ZM139 504H145V506H139ZM162 504H168V506H162ZM190 504H196V506H190ZM202 504H207V506H202ZM213 504H219V506H213ZM145 506H151V508H145ZM190 506H196V508H190ZM133 508H139V510H133ZM139 508H145V510H139ZM225 508H230V510H225ZM247 508H253V510H247ZM168 512H173V514H168ZM202 512H207V514H202ZM213 512H219V514H213ZM225 512H230V514H225ZM247 512H253V514H247ZM242 514H247V516H242ZM247 514H253V516H247ZM116 518H122V520H116ZM133 518H139V520H133ZM213 518H219V520H213ZM242 518H247V520H242ZM162 522H168V524H162ZM202 522H207V524H202ZM242 522H247V524H242ZM247 522H253V524H247ZM133 524H139V526H133ZM139 524H145V526H139ZM190 524H196V526H190ZM242 524H247V526H242ZM247 524H253V526H247ZM133 528H139V530H133ZM145 528H151V530H145ZM162 528H168V530H162ZM202 528H207V530H202ZM207 528H213V530H207ZM213 528H219V530H213ZM122 532H128V534H122ZM225 532H230V534H225ZM145 534H151V536H145ZM190 538H196V540H190ZM111 542H116V544H111ZM185 542H190V544H185ZM207 542H213V544H207ZM219 542H225V544H219ZM242 542H247V544H242ZM247 546H253V548H247ZM116 548H122V550H116ZM162 548H168V550H162ZM213 548H219V550H213ZM230 548H236V550H230ZM145 550H151V552H145ZM242 552H247V554H242ZM116 554H122V556H116ZM133 554H139V556H133ZM151 554H156V556H151ZM162 554H168V556H162ZM213 556H219V558H213ZM247 556H253V558H247ZM139 558H145V560H139ZM168 558H173V560H168ZM242 558H247V560H242ZM242 560H247V562H242ZM145 562H151V564H145ZM190 562H196V564H190ZM202 562H207V564H202ZM242 562H247V564H242ZM139 564H145V566H139ZM162 564H168V566H162ZM139 566H145V568H139ZM162 570H168V572H162ZM213 570H219V572H213ZM242 574H247V576H242ZM116 576H122V577H116ZM190 576H196V577H190ZM247 576H253V577H247ZM111 578H116V580H111ZM128 578H133V580H128ZM145 578H151V580H145ZM179 578H185V580H179ZM202 578H207V580H202ZM225 578H230V580H225ZM247 578H253V580H247ZM105 580H111V582H105ZM133 580H139V582H133ZM162 580H168V582H162ZM202 580H207V582H202ZM230 580H236V582H230ZM242 580H247V582H242ZM116 582H122V584H116ZM139 582H145V584H139ZM207 582H213V584H207ZM219 582H225V584H219ZM225 582H230V584H225ZM105 584H111V585H105ZM202 584H207V585H202ZM247 586H253V588H247ZM111 588H116V590H111ZM162 588H168V590H162ZM179 588H185V590H179ZM196 588H202V590H196ZM230 588H236V590H230ZM122 592H128V594H122ZM196 592H202V594H196ZM202 592H207V594H202ZM247 592H253V594H247ZM122 596H128V598H122ZM128 596H133V598H128ZM151 596H156V598H151ZM162 596H168V598H162ZM122 598H128V600H122ZM128 598H133V600H128ZM139 598H145V600H139ZM151 598H156V600H151ZM162 598H168V600H162ZM179 598H185V600H179ZM213 598H219V600H213ZM105 600H111V602H105ZM196 600H202V602H196ZM247 600H253V602H247ZM105 604H111V606H105ZM116 604H122V606H116ZM128 604H133V606H128ZM133 604H139V606H133ZM173 604H179V606H173ZM185 604H190V606H185ZM213 604H219V606H213ZM173 606H179V608H173ZM179 606H185V608H179ZM247 606H253V608H247ZM213 608H219V610H213ZM247 608H253V610H247ZM139 610H145V612H139ZM247 612H253V614H247ZM105 614H111V616H105ZM133 614H139V616H133ZM139 614H145V616H139ZM145 616H151V618H145ZM139 620H145V622H139ZM213 620H219V622H213ZM247 620H253V622H247ZM111 622H116V624H111ZM139 622H145V624H139ZM207 626H213V628H207ZM230 626H236V628H230ZM202 628H207V630H202ZM145 630H151V632H145ZM139 632H145V634H139ZM139 634H145V636H139ZM139 636H145V638H139ZM247 636H253V638H247ZM105 642H111V644H105ZM213 642H219V644H213ZM139 644H145V646H139ZM139 646H145V648H139Z" fill="#fcc312" shape-rendering="crispEdges"/>
<path d="M162 426H168V428H162ZM145 428H151V430H145ZM247 428H253V430H247ZM105 430H111V432H105ZM145 432H151V434H145ZM162 432H168V434H162ZM247 434H253V436H247ZM247 440H253V442H247ZM162 442H168V444H162ZM122 444H128V446H122ZM145 444H151V446H145ZM162 444H168V446H162ZM122 448H128V450H122ZM145 448H151V450H145ZM151 448H156V450H151ZM162 448H168V450H162ZM162 450H168V452H162ZM145 452H151V454H145ZM162 456H168V458H162ZM247 458H253V460H247ZM122 466H128V468H122ZM139 466H145V468H139ZM145 466H151V468H145ZM242 466H247V468H242ZM247 466H253V468H247ZM162 470H168V472H162ZM162 472H168V474H162ZM133 475H139V477H133ZM128 477H133V479H128ZM185 477H190V479H185ZM225 477H230V479H225ZM236 477H242V479H236ZM242 477H247V479H242ZM105 481H111V483H105ZM145 481H151V483H145ZM151 481H156V483H151ZM179 481H185V483H179ZM230 481H236V483H230ZM213 483H219V485H213ZM105 485H111V487H105ZM116 485H122V487H116ZM145 485H151V487H145ZM247 485H253V487H247ZM190 491H196V493H190ZM145 493H151V495H145ZM207 493H213V495H207ZM225 493H230V495H225ZM116 497H122V499H116ZM133 497H139V499H133ZM213 497H219V499H213ZM247 497H253V499H247ZM247 504H253V506H247ZM116 508H122V510H116ZM242 508H247V510H242ZM139 510H145V512H139ZM213 510H219V512H213ZM116 512H122V514H116ZM122 512H128V514H122ZM145 512H151V514H145ZM162 512H168V514H162ZM145 522H151V524H145ZM247 528H253V530H247ZM111 532H116V534H111ZM128 532H133V534H128ZM133 532H139V534H133ZM145 532H151V534H145ZM151 532H156V534H151ZM162 532H168V534H162ZM230 532H236V534H230ZM242 532H247V534H242ZM247 532H253V534H247ZM139 546H145V548H139ZM162 546H168V548H162ZM190 548H196V550H190ZM242 548H247V550H242ZM190 558H196V560H190ZM230 558H236V560H230ZM133 562H139V564H133ZM207 562H213V564H207ZM145 564H151V566H145ZM213 564H219V566H213ZM242 564H247V566H242ZM230 566H236V568H230ZM242 566H247V568H242ZM247 566H253V568H247ZM190 568H196V570H190ZM122 578H128V580H122ZM168 578H173V580H168ZM196 578H202V580H196ZM213 578H219V580H213ZM230 578H236V580H230ZM242 578H247V580H242ZM128 580H133V582H128ZM168 580H173V582H168ZM196 580H202V582H196ZM213 580H219V582H213ZM122 582H128V584H122ZM128 582H133V584H128ZM133 582H139V584H133ZM196 582H202V584H196ZM213 582H219V584H213ZM236 582H242V584H236ZM247 582H253V584H247ZM122 584H128V585H122ZM128 584H133V585H128ZM151 584H156V585H151ZM230 584H236V585H230ZM145 586H151V588H145ZM202 588H207V590H202ZM213 588H219V590H213ZM219 588H225V590H219ZM213 590H219V592H213ZM105 592H111V594H105ZM145 592H151V594H145ZM247 594H253V596H247ZM133 596H139V598H133ZM139 596H145V598H139ZM247 596H253V598H247ZM116 598H122V600H116ZM219 598H225V600H219ZM242 598H247V600H242ZM247 598H253V600H247ZM139 600H145V602H139ZM179 600H185V602H179ZM213 600H219V602H213ZM145 602H151V604H145ZM151 604H156V606H151ZM105 606H111V608H105ZM139 606H145V608H139ZM105 608H111V610H105ZM202 608H207V610H202ZM145 610H151V612H145ZM145 618H151V620H145ZM196 620H202V622H196ZM145 622H151V624H145ZM213 626H219V628H213ZM247 626H253V628H247ZM145 628H151V630H145ZM247 630H253V632H247ZM247 632H253V634H247ZM145 638H151V640H145ZM145 640H151V642H145ZM139 642H145V644H139ZM202 642H207V644H202ZM145 644H151V646H145ZM207 646H213V648H207Z" fill="#fdd20e" shape-rendering="crispEdges"/>
<path d="M196 426H202V428H196ZM230 426H236V428H230ZM173 428H179V430H173ZM236 428H242V430H236ZM207 430H213V432H207ZM185 432H190V434H185ZM196 432H202V434H196ZM219 432H225V434H219ZM236 434H242V436H236ZM173 436H179V438H173ZM236 436H242V438H236ZM236 438H242V440H236ZM111 446H116V448H111ZM196 446H202V448H196ZM230 446H236V448H230ZM173 450H179V452H173ZM236 450H242V452H236ZM173 452H179V454H173ZM173 454H179V456H173ZM179 454H185V456H179ZM133 456H139V458H133ZM128 460H133V462H128ZM179 460H185V462H179ZM213 460H219V462H213ZM225 460H230V462H225ZM236 460H242V462H236ZM202 462H207V464H202ZM207 462H213V464H207ZM225 462H230V464H225ZM133 464H139V466H133ZM196 464H202V466H196ZM236 464H242V466H236ZM179 468H185V470H179ZM230 468H236V470H230ZM236 470H242V472H236ZM128 472H133V474H128ZM230 472H236V474H230ZM70 475H75V477H70ZM87 475H92V477H87ZM98 475H104V477H98ZM64 477H70V479H64ZM81 477H87V479H81ZM81 479H87V481H81ZM92 479H98V481H92ZM98 479H104V481H98ZM58 481H64V483H58ZM64 481H70V483H64ZM87 481H92V483H87ZM98 481H104V483H98ZM58 483H64V485H58ZM70 483H75V485H70ZM75 483H81V485H75ZM64 485H70V487H64ZM98 485H104V487H98ZM58 487H64V489H58ZM70 487H75V489H70ZM75 487H81V489H75ZM81 487H87V489H81ZM87 487H92V489H87ZM98 487H104V489H98ZM58 489H64V491H58ZM64 489H70V491H64ZM70 489H75V491H70ZM87 489H92V491H87ZM98 489H104V491H98ZM70 491H75V493H70ZM81 491H87V493H81ZM87 491H92V493H87ZM92 491H98V493H92ZM58 495H64V497H58ZM70 495H75V497H70ZM92 495H98V497H92ZM173 500H179V502H173ZM196 500H202V502H196ZM156 502H162V504H156ZM179 502H185V504H179ZM156 506H162V508H156ZM156 510H162V512H156ZM156 514H162V516H156ZM179 516H185V518H179ZM196 518H202V520H196ZM236 518H242V520H236ZM122 520H128V522H122ZM156 520H162V522H156ZM156 526H162V528H156ZM179 526H185V528H179ZM168 530H173V532H168ZM179 536H185V538H179ZM236 538H242V540H236ZM156 540H162V542H156ZM173 540H179V542H173ZM219 540H225V542H219ZM236 540H242V542H236ZM236 544H242V546H236ZM173 550H179V552H173ZM156 556H162V558H156ZM156 560H162V562H156ZM173 570H179V572H173ZM156 572H162V574H156ZM173 576H179V577H173ZM236 576H242V577H236ZM87 578H92V580H87ZM58 580H64V582H58ZM64 580H70V582H64ZM92 580H98V582H92ZM98 580H104V582H98ZM75 584H81V585H75ZM168 586H173V588H168ZM111 602H116V604H111ZM168 602H173V604H168ZM173 612H179V614H173ZM236 612H242V614H236ZM168 614H173V616H168ZM111 616H116V618H111ZM236 618H242V620H236ZM196 622H202V624H196ZM128 624H133V626H128ZM156 624H162V626H156ZM236 634H242V636H236ZM230 638H236V640H230ZM236 638H242V640H236ZM236 640H242V642H236ZM116 644H122V646H116ZM156 646H162V648H156ZM207 648H213V649H207Z" fill="#f15c1e" shape-rendering="crispEdges"/>
<path d="M225 426H230V428H225ZM105 428H111V430H105ZM168 428H173V430H168ZM225 428H230V430H225ZM242 428H247V430H242ZM156 430H162V432H156ZM185 430H190V432H185ZM190 430H196V432H190ZM219 430H225V432H219ZM242 430H247V432H242ZM225 432H230V434H225ZM156 434H162V436H156ZM145 436H151V438H145ZM247 436H253V438H247ZM116 438H122V440H116ZM151 438H156V440H151ZM190 438H196V440H190ZM116 440H122V442H116ZM122 440H128V442H122ZM128 440H133V442H128ZM139 440H145V442H139ZM156 440H162V442H156ZM190 440H196V442H190ZM105 442H111V444H105ZM139 442H145V444H139ZM213 442H219V444H213ZM105 444H111V446H105ZM151 444H156V446H151ZM168 444H173V446H168ZM242 444H247V446H242ZM247 444H253V446H247ZM122 446H128V448H122ZM162 446H168V448H162ZM207 448H213V450H207ZM225 448H230V450H225ZM168 450H173V452H168ZM242 450H247V452H242ZM156 454H162V456H156ZM247 454H253V456H247ZM139 456H145V458H139ZM156 456H162V458H156ZM168 456H173V458H168ZM185 456H190V458H185ZM225 456H230V458H225ZM156 458H162V460H156ZM207 458H213V460H207ZM225 458H230V460H225ZM242 458H247V460H242ZM139 460H145V462H139ZM122 462H128V464H122ZM116 464H122V466H116ZM185 464H190V466H185ZM219 464H225V466H219ZM128 466H133V468H128ZM185 466H190V468H185ZM202 466H207V468H202ZM105 468H111V470H105ZM139 468H145V470H139ZM207 468H213V470H207ZM225 468H230V470H225ZM105 470H111V472H105ZM139 470H145V472H139ZM168 470H173V472H168ZM207 470H213V472H207ZM105 472H111V474H105ZM151 472H156V474H151ZM207 472H213V474H207ZM219 472H225V474H219ZM242 472H247V474H242ZM151 475H156V477H151ZM156 475H162V477H156ZM173 475H179V477H173ZM185 475H190V477H185ZM207 475H213V477H207ZM236 475H242V477H236ZM105 479H111V481H105ZM219 479H225V481H219ZM225 479H230V481H225ZM247 479H253V481H247ZM128 481H133V483H128ZM139 481H145V483H139ZM196 481H202V483H196ZM236 481H242V483H236ZM151 483H156V485H151ZM179 483H185V485H179ZM190 483H196V485H190ZM207 483H213V485H207ZM219 483H225V485H219ZM247 483H253V485H247ZM219 485H225V487H219ZM225 485H230V487H225ZM122 487H128V489H122ZM168 487H173V489H168ZM179 487H185V489H179ZM207 487H213V489H207ZM213 487H219V489H213ZM230 487H236V489H230ZM247 487H253V489H247ZM111 489H116V491H111ZM122 489H128V491H122ZM133 489H139V491H133ZM139 489H145V491H139ZM105 491H111V493H105ZM133 491H139V493H133ZM168 491H173V493H168ZM196 491H202V493H196ZM207 491H213V493H207ZM219 491H225V493H219ZM111 493H116V495H111ZM151 493H156V495H151ZM162 493H168V495H162ZM179 493H185V495H179ZM185 493H190V495H185ZM139 495H145V497H139ZM179 495H185V497H179ZM219 495H225V497H219ZM225 495H230V497H225ZM247 495H253V497H247ZM122 497H128V499H122ZM168 497H173V499H168ZM173 497H179V499H173ZM179 497H185V499H179ZM196 497H202V499H196ZM236 497H242V499H236ZM105 500H111V502H105ZM116 500H122V502H116ZM139 502H145V504H139ZM111 504H116V506H111ZM122 504H128V506H122ZM128 504H133V506H128ZM145 504H151V506H145ZM185 504H190V506H185ZM196 504H202V506H196ZM122 506H128V508H122ZM128 506H133V508H128ZM151 506H156V508H151ZM162 506H168V508H162ZM225 506H230V508H225ZM242 506H247V508H242ZM247 506H253V508H247ZM128 508H133V510H128ZM190 508H196V510H190ZM213 508H219V510H213ZM202 510H207V512H202ZM207 510H213V512H207ZM219 510H225V512H219ZM151 512H156V514H151ZM173 512H179V514H173ZM230 512H236V514H230ZM105 514H111V516H105ZM116 514H122V516H116ZM185 514H190V516H185ZM202 514H207V516H202ZM230 514H236V516H230ZM111 516H116V518H111ZM139 516H145V518H139ZM151 516H156V518H151ZM213 516H219V518H213ZM242 516H247V518H242ZM111 518H116V520H111ZM139 518H145V520H139ZM190 518H196V520H190ZM225 518H230V520H225ZM247 518H253V520H247ZM168 520H173V522H168ZM242 520H247V522H242ZM116 522H122V524H116ZM122 522H128V524H122ZM133 522H139V524H133ZM168 522H173V524H168ZM225 522H230V524H225ZM230 522H236V524H230ZM105 524H111V526H105ZM162 524H168V526H162ZM168 524H173V526H168ZM105 526H111V528H105ZM122 526H128V528H122ZM151 526H156V528H151ZM213 526H219V528H213ZM247 526H253V528H247ZM128 528H133V530H128ZM139 528H145V530H139ZM168 528H173V530H168ZM179 528H185V530H179ZM225 528H230V530H225ZM116 530H122V532H116ZM190 530H196V532H190ZM242 530H247V532H242ZM247 530H253V532H247ZM202 532H207V534H202ZM207 532H213V534H207ZM219 532H225V534H219ZM116 534H122V536H116ZM168 534H173V536H168ZM207 534H213V536H207ZM242 534H247V536H242ZM247 534H253V536H247ZM122 536H128V538H122ZM128 536H133V538H128ZM190 536H196V538H190ZM213 536H219V538H213ZM111 538H116V540H111ZM133 538H139V540H133ZM162 538H168V540H162ZM247 538H253V540H247ZM213 540H219V542H213ZM105 542H111V544H105ZM128 542H133V544H128ZM202 542H207V544H202ZM230 542H236V544H230ZM247 542H253V544H247ZM145 544H151V546H145ZM219 544H225V546H219ZM225 544H230V546H225ZM247 544H253V546H247ZM111 546H116V548H111ZM116 546H122V548H116ZM128 546H133V548H128ZM133 546H139V548H133ZM151 546H156V548H151ZM213 546H219V548H213ZM225 546H230V548H225ZM242 546H247V548H242ZM105 548H111V550H105ZM128 548H133V550H128ZM151 548H156V550H151ZM179 548H185V550H179ZM202 548H207V550H202ZM111 550H116V552H111ZM133 550H139V552H133ZM139 550H145V552H139ZM162 550H168V552H162ZM168 550H173V552H168ZM185 550H190V552H185ZM202 550H207V552H202ZM213 550H219V552H213ZM116 552H122V554H116ZM247 552H253V554H247ZM128 554H133V556H128ZM139 554H145V556H139ZM145 554H151V556H145ZM190 554H196V556H190ZM242 554H247V556H242ZM105 556H111V558H105ZM173 556H179V558H173ZM190 556H196V558H190ZM225 556H230V558H225ZM242 556H247V558H242ZM105 558H111V560H105ZM111 558H116V560H111ZM122 558H128V560H122ZM128 558H133V560H128ZM219 558H225V560H219ZM213 560H219V562H213ZM105 562H111V564H105ZM168 562H173V564H168ZM196 562H202V564H196ZM225 562H230V564H225ZM247 562H253V564H247ZM111 564H116V566H111ZM122 564H128V566H122ZM185 564H190V566H185ZM190 564H196V566H190ZM207 564H213V566H207ZM145 566H151V568H145ZM151 566H156V568H151ZM213 566H219V568H213ZM225 566H230V568H225ZM162 568H168V570H162ZM242 568H247V570H242ZM105 570H111V572H105ZM133 570H139V572H133ZM190 570H196V572H190ZM247 570H253V572H247ZM190 572H196V574H190ZM213 572H219V574H213ZM247 572H253V574H247ZM116 574H122V576H116ZM162 574H168V576H162ZM111 576H116V577H111ZM133 576H139V577H133ZM145 576H151V577H145ZM151 576H156V577H151ZM162 576H168V577H162ZM168 576H173V577H168ZM185 576H190V577H185ZM207 576H213V577H207ZM230 576H236V577H230ZM156 578H162V580H156ZM185 578H190V580H185ZM122 580H128V582H122ZM139 580H145V582H139ZM145 580H151V582H145ZM151 580H156V582H151ZM185 580H190V582H185ZM236 580H242V582H236ZM111 584H116V585H111ZM139 584H145V585H139ZM156 584H162V585H156ZM168 584H173V585H168ZM185 584H190V585H185ZM190 584H196V585H190ZM207 584H213V585H207ZM213 584H219V585H213ZM247 584H253V585H247ZM105 586H111V588H105ZM111 586H116V588H111ZM190 586H196V588H190ZM196 586H202V588H196ZM219 586H225V588H219ZM230 586H236V588H230ZM122 588H128V590H122ZM133 588H139V590H133ZM168 588H173V590H168ZM185 588H190V590H185ZM225 590H230V592H225ZM247 590H253V592H247ZM116 592H122V594H116ZM139 592H145V594H139ZM179 592H185V594H179ZM207 592H213V594H207ZM219 592H225V594H219ZM105 594H111V596H105ZM128 594H133V596H128ZM151 594H156V596H151ZM168 594H173V596H168ZM196 594H202V596H196ZM207 594H213V596H207ZM225 594H230V596H225ZM230 594H236V596H230ZM116 596H122V598H116ZM173 596H179V598H173ZM230 596H236V598H230ZM111 598H116V600H111ZM168 598H173V600H168ZM173 598H179V600H173ZM185 598H190V600H185ZM196 598H202V600H196ZM225 598H230V600H225ZM236 598H242V600H236ZM116 600H122V602H116ZM128 600H133V602H128ZM190 600H196V602H190ZM202 600H207V602H202ZM225 600H230V602H225ZM230 600H236V602H230ZM242 600H247V602H242ZM162 602H168V604H162ZM179 602H185V604H179ZM207 602H213V604H207ZM213 602H219V604H213ZM219 602H225V604H219ZM225 602H230V604H225ZM230 602H236V604H230ZM122 604H128V606H122ZM139 604H145V606H139ZM168 604H173V606H168ZM196 604H202V606H196ZM202 604H207V606H202ZM207 604H213V606H207ZM122 606H128V608H122ZM162 606H168V608H162ZM190 606H196V608H190ZM196 606H202V608H196ZM202 606H207V608H202ZM207 606H213V608H207ZM213 606H219V608H213ZM219 606H225V608H219ZM230 606H236V608H230ZM111 608H116V610H111ZM128 608H133V610H128ZM133 608H139V610H133ZM168 608H173V610H168ZM111 610H116V612H111ZM122 610H128V612H122ZM128 610H133V612H128ZM207 610H213V612H207ZM213 610H219V612H213ZM230 610H236V612H230ZM242 610H247V612H242ZM162 614H168V616H162ZM196 614H202V616H196ZM139 616H145V618H139ZM213 616H219V618H213ZM225 616H230V618H225ZM116 618H122V620H116ZM190 618H196V620H190ZM213 618H219V620H213ZM242 618H247V620H242ZM247 618H253V620H247ZM105 620H111V622H105ZM168 620H173V622H168ZM190 620H196V622H190ZM225 620H230V622H225ZM230 620H236V622H230ZM105 622H111V624H105ZM122 622H128V624H122ZM162 622H168V624H162ZM207 622H213V624H207ZM213 622H219V624H213ZM230 622H236V624H230ZM145 624H151V626H145ZM247 624H253V626H247ZM111 626H116V628H111ZM116 626H122V628H116ZM122 626H128V628H122ZM133 626H139V628H133ZM151 626H156V628H151ZM162 626H168V628H162ZM173 626H179V628H173ZM179 626H185V628H179ZM196 626H202V628H196ZM202 626H207V628H202ZM139 628H145V630H139ZM151 628H156V630H151ZM247 628H253V630H247ZM105 630H111V632H105ZM111 630H116V632H111ZM128 630H133V632H128ZM139 630H145V632H139ZM111 632H116V634H111ZM116 632H122V634H116ZM133 632H139V634H133ZM156 632H162V634H156ZM185 632H190V634H185ZM190 632H196V634H190ZM196 632H202V634H196ZM202 632H207V634H202ZM230 632H236V634H230ZM196 634H202V636H196ZM213 634H219V636H213ZM225 634H230V636H225ZM105 636H111V638H105ZM162 636H168V638H162ZM207 636H213V638H207ZM213 636H219V638H213ZM230 636H236V638H230ZM139 638H145V640H139ZM202 638H207V640H202ZM213 638H219V640H213ZM105 640H111V642H105ZM247 640H253V642H247ZM116 642H122V644H116ZM225 642H230V644H225ZM242 642H247V644H242ZM219 644H225V646H219ZM225 644H230V646H225ZM133 646H139V648H133ZM173 646H179V648H173ZM219 646H225V648H219ZM230 646H236V648H230ZM247 646H253V648H247ZM105 648H111V649H105ZM139 648H145V649H139ZM145 648H151V649H145ZM213 648H219V649H213Z" fill="#faa718" shape-rendering="crispEdges"/>
<path d="M242 426H247V428H242ZM151 428H156V430H151ZM162 428H168V430H162ZM207 428H213V430H207ZM145 430H151V432H145ZM225 430H230V432H225ZM139 432H145V434H139ZM156 432H162V434H156ZM116 434H122V436H116ZM122 434H128V436H122ZM168 434H173V436H168ZM219 434H225V436H219ZM105 438H111V440H105ZM139 438H145V440H139ZM247 438H253V440H247ZM105 440H111V442H105ZM162 440H168V442H162ZM122 442H128V444H122ZM156 444H162V446H156ZM190 444H196V446H190ZM207 444H213V446H207ZM139 448H145V450H139ZM156 448H162V450H156ZM185 448H190V450H185ZM190 448H196V450H190ZM196 448H202V450H196ZM247 448H253V450H247ZM151 450H156V452H151ZM156 450H162V452H156ZM247 450H253V452H247ZM139 452H145V454H139ZM247 452H253V454H247ZM162 454H168V456H162ZM151 456H156V458H151ZM247 456H253V458H247ZM162 460H168V462H162ZM145 464H151V466H145ZM162 464H168V466H162ZM111 466H116V468H111ZM116 466H122V468H116ZM151 466H156V468H151ZM168 466H173V468H168ZM190 466H196V468H190ZM207 466H213V468H207ZM122 468H128V470H122ZM145 468H151V470H145ZM133 470H139V472H133ZM145 470H151V472H145ZM185 470H190V472H185ZM225 470H230V472H225ZM242 470H247V472H242ZM122 472H128V474H122ZM139 472H145V474H139ZM145 472H151V474H145ZM190 472H196V474H190ZM247 472H253V474H247ZM111 475H116V477H111ZM128 475H133V477H128ZM139 475H145V477H139ZM219 475H225V477H219ZM190 477H196V479H190ZM196 477H202V479H196ZM202 477H207V479H202ZM133 479H139V481H133ZM139 479H145V481H139ZM145 479H151V481H145ZM151 479H156V481H151ZM179 479H185V481H179ZM122 481H128V483H122ZM156 481H162V483H156ZM168 481H173V483H168ZM173 481H179V483H173ZM202 481H207V483H202ZM219 481H225V483H219ZM242 481H247V483H242ZM105 483H111V485H105ZM111 483H116V485H111ZM122 483H128V485H122ZM128 483H133V485H128ZM156 483H162V485H156ZM168 483H173V485H168ZM230 483H236V485H230ZM242 483H247V485H242ZM111 485H116V487H111ZM139 485H145V487H139ZM151 485H156V487H151ZM168 485H173V487H168ZM179 485H185V487H179ZM242 485H247V487H242ZM105 487H111V489H105ZM145 487H151V489H145ZM116 489H122V491H116ZM213 489H219V491H213ZM247 489H253V491H247ZM139 491H145V493H139ZM145 491H151V493H145ZM151 491H156V493H151ZM242 491H247V493H242ZM128 493H133V495H128ZM168 493H173V495H168ZM190 493H196V495H190ZM196 493H202V495H196ZM230 493H236V495H230ZM242 493H247V495H242ZM105 495H111V497H105ZM116 495H122V497H116ZM122 495H128V497H122ZM128 495H133V497H128ZM213 495H219V497H213ZM105 497H111V499H105ZM111 497H116V499H111ZM128 497H133V499H128ZM145 497H151V499H145ZM190 497H196V499H190ZM190 500H196V502H190ZM242 500H247V502H242ZM247 500H253V502H247ZM162 502H168V504H162ZM105 504H111V506H105ZM116 504H122V506H116ZM133 504H139V506H133ZM207 504H213V506H207ZM219 504H225V506H219ZM225 504H230V506H225ZM230 504H236V506H230ZM242 504H247V506H242ZM111 506H116V508H111ZM133 506H139V508H133ZM139 506H145V508H139ZM168 506H173V508H168ZM213 506H219V508H213ZM105 508H111V510H105ZM122 508H128V510H122ZM145 508H151V510H145ZM185 508H190V510H185ZM202 508H207V510H202ZM207 508H213V510H207ZM219 508H225V510H219ZM111 510H116V512H111ZM133 510H139V512H133ZM145 510H151V512H145ZM242 510H247V512H242ZM247 510H253V512H247ZM105 512H111V514H105ZM111 512H116V514H111ZM128 512H133V514H128ZM139 512H145V514H139ZM133 514H139V516H133ZM162 514H168V516H162ZM190 514H196V516H190ZM225 514H230V516H225ZM116 516H122V518H116ZM247 516H253V518H247ZM145 518H151V520H145ZM139 520H145V522H139ZM145 520H151V522H145ZM190 520H196V522H190ZM225 520H230V522H225ZM213 522H219V524H213ZM116 524H122V526H116ZM122 524H128V526H122ZM128 524H133V526H128ZM145 524H151V526H145ZM202 524H207V526H202ZM213 524H219V526H213ZM225 524H230V526H225ZM133 526H139V528H133ZM139 526H145V528H139ZM145 526H151V528H145ZM190 526H196V528H190ZM111 528H116V530H111ZM116 528H122V530H116ZM122 528H128V530H122ZM151 528H156V530H151ZM242 528H247V530H242ZM145 530H151V532H145ZM105 532H111V534H105ZM168 532H173V534H168ZM179 532H185V534H179ZM185 532H190V534H185ZM162 534H168V536H162ZM247 536H253V538H247ZM225 538H230V540H225ZM242 538H247V540H242ZM162 540H168V542H162ZM122 542H128V544H122ZM133 542H139V544H133ZM139 542H145V544H139ZM145 542H151V544H145ZM151 542H156V544H151ZM162 542H168V544H162ZM213 542H219V544H213ZM139 544H145V546H139ZM207 544H213V546H207ZM242 544H247V546H242ZM190 546H196V548H190ZM207 546H213V548H207ZM133 548H139V550H133ZM156 548H162V550H156ZM168 548H173V550H168ZM185 548H190V550H185ZM207 548H213V550H207ZM219 548H225V550H219ZM225 548H230V550H225ZM247 548H253V550H247ZM242 550H247V552H242ZM139 552H145V554H139ZM105 554H111V556H105ZM185 554H190V556H185ZM230 554H236V556H230ZM116 556H122V558H116ZM139 556H145V558H139ZM145 556H151V558H145ZM133 558H139V560H133ZM145 558H151V560H145ZM162 558H168V560H162ZM179 558H185V560H179ZM185 558H190V560H185ZM202 558H207V560H202ZM225 558H230V560H225ZM133 560H139V562H133ZM185 560H190V562H185ZM190 560H196V562H190ZM116 562H122V564H116ZM128 562H133V564H128ZM139 562H145V564H139ZM162 562H168V564H162ZM133 564H139V566H133ZM168 564H173V566H168ZM247 564H253V566H247ZM116 566H122V568H116ZM162 566H168V568H162ZM168 566H173V568H168ZM185 566H190V568H185ZM190 566H196V568H190ZM207 566H213V568H207ZM202 568H207V570H202ZM247 568H253V570H247ZM145 570H151V572H145ZM139 574H145V576H139ZM190 574H196V576H190ZM139 576H145V577H139ZM213 576H219V577H213ZM133 578H139V580H133ZM151 578H156V580H151ZM162 578H168V580H162ZM190 578H196V580H190ZM207 578H213V580H207ZM219 578H225V580H219ZM111 580H116V582H111ZM156 580H162V582H156ZM179 580H185V582H179ZM190 580H196V582H190ZM207 580H213V582H207ZM219 580H225V582H219ZM225 580H230V582H225ZM145 582H151V584H145ZM156 582H162V584H156ZM185 582H190V584H185ZM242 582H247V584H242ZM133 584H139V585H133ZM179 584H185V585H179ZM236 584H242V585H236ZM122 586H128V588H122ZM139 586H145V588H139ZM116 588H122V590H116ZM128 588H133V590H128ZM173 588H179V590H173ZM190 588H196V590H190ZM225 588H230V590H225ZM242 588H247V590H242ZM128 590H133V592H128ZM145 590H151V592H145ZM230 590H236V592H230ZM111 592H116V594H111ZM128 592H133V594H128ZM133 592H139V594H133ZM225 592H230V594H225ZM242 592H247V594H242ZM111 594H116V596H111ZM116 594H122V596H116ZM139 594H145V596H139ZM162 594H168V596H162ZM202 594H207V596H202ZM105 596H111V598H105ZM111 596H116V598H111ZM190 596H196V598H190ZM196 596H202V598H196ZM202 596H207V598H202ZM207 596H213V598H207ZM219 596H225V598H219ZM225 596H230V598H225ZM105 598H111V600H105ZM133 598H139V600H133ZM202 598H207V600H202ZM207 598H213V600H207ZM230 598H236V600H230ZM111 600H116V602H111ZM133 600H139V602H133ZM151 600H156V602H151ZM162 600H168V602H162ZM219 600H225V602H219ZM116 602H122V604H116ZM139 602H145V604H139ZM196 602H202V604H196ZM162 604H168V606H162ZM179 604H185V606H179ZM190 604H196V606H190ZM219 604H225V606H219ZM242 604H247V606H242ZM111 606H116V608H111ZM225 606H230V608H225ZM139 608H145V610H139ZM196 608H202V610H196ZM219 608H225V610H219ZM105 610H111V612H105ZM133 610H139V612H133ZM156 610H162V612H156ZM196 610H202V612H196ZM247 610H253V612H247ZM105 612H111V614H105ZM145 612H151V614H145ZM213 612H219V614H213ZM116 614H122V616H116ZM128 614H133V616H128ZM173 614H179V616H173ZM213 614H219V616H213ZM225 614H230V616H225ZM247 614H253V616H247ZM196 616H202V618H196ZM105 618H111V620H105ZM139 618H145V620H139ZM162 618H168V620H162ZM179 618H185V620H179ZM111 620H116V622H111ZM116 620H122V622H116ZM128 620H133V622H128ZM162 620H168V622H162ZM173 620H179V622H173ZM202 620H207V622H202ZM219 620H225V622H219ZM179 622H185V624H179ZM202 622H207V624H202ZM105 626H111V628H105ZM139 626H145V628H139ZM219 626H225V628H219ZM105 628H111V630H105ZM190 628H196V630H190ZM225 628H230V630H225ZM219 630H225V632H219ZM122 632H128V634H122ZM151 632H156V634H151ZM162 632H168V634H162ZM179 632H185V634H179ZM213 632H219V634H213ZM105 634H111V636H105ZM145 634H151V636H145ZM173 634H179V636H173ZM190 634H196V636H190ZM219 634H225V636H219ZM247 634H253V636H247ZM145 636H151V638H145ZM190 636H196V638H190ZM225 636H230V638H225ZM133 638H139V640H133ZM196 638H202V640H196ZM145 642H151V644H145ZM230 642H236V644H230ZM105 644H111V646H105ZM111 646H116V648H111ZM179 646H185V648H179ZM247 648H253V649H247Z" fill="#fbb515" shape-rendering="crispEdges"/>
<path d="M58 428H64V430H58ZM87 428H92V430H87ZM98 428H104V430H98ZM92 430H98V432H92ZM58 440H64V442H58ZM75 440H81V442H75ZM64 442H70V444H64ZM75 444H81V446H75ZM92 444H98V446H92ZM70 446H75V448H70ZM92 446H98V448H92ZM75 450H81V452H75ZM58 452H64V454H58ZM64 452H70V454H64ZM70 452H75V454H70ZM75 452H81V454H75ZM81 452H87V454H81ZM92 454H98V456H92ZM58 456H64V458H58ZM92 456H98V458H92ZM64 458H70V460H64ZM70 460H75V462H70ZM75 460H81V462H75ZM58 462H64V464H58ZM58 464H64V466H58ZM58 470H64V472H58ZM70 470H75V472H70ZM75 470H81V472H75ZM81 470H87V472H81ZM92 470H98V472H92ZM64 472H70V474H64ZM87 472H92V474H87ZM64 500H70V502H64ZM87 500H92V502H87ZM70 502H75V504H70ZM81 502H87V504H81ZM64 506H70V508H64ZM92 506H98V508H92ZM64 508H70V510H64ZM70 508H75V510H70ZM87 508H92V510H87ZM92 508H98V510H92ZM81 510H87V512H81ZM70 514H75V516H70ZM75 514H81V516H75ZM87 516H92V518H87ZM58 518H64V520H58ZM75 518H81V520H75ZM58 520H64V522H58ZM87 520H92V522H87ZM98 524H104V526H98ZM58 528H64V530H58ZM64 528H70V530H64ZM92 528H98V530H92ZM75 530H81V532H75ZM58 534H64V536H58ZM81 534H87V536H81ZM87 536H92V538H87ZM98 536H104V538H98ZM75 538H81V540H75ZM75 540H81V542H75ZM92 542H98V544H92ZM58 544H64V546H58ZM75 544H81V546H75ZM92 544H98V546H92ZM98 544H104V546H98ZM92 546H98V548H92ZM98 546H104V548H98ZM87 550H92V552H87ZM81 552H87V554H81ZM70 554H75V556H70ZM87 554H92V556H87ZM58 560H64V562H58ZM75 560H81V562H75ZM87 560H92V562H87ZM75 562H81V564H75ZM92 562H98V564H92ZM70 564H75V566H70ZM87 566H92V568H87ZM64 568H70V570H64ZM70 570H75V572H70ZM92 570H98V572H92ZM64 572H70V574H64ZM75 572H81V574H75ZM87 572H92V574H87ZM98 572H104V574H98ZM98 574H104V576H98ZM64 576H70V577H64ZM70 586H75V588H70ZM58 590H64V592H58ZM81 590H87V592H81ZM92 592H98V594H92ZM98 600H104V602H98ZM92 602H98V604H92ZM64 608H70V610H64ZM75 608H81V610H75ZM87 608H92V610H87ZM64 612H70V614H64ZM81 612H87V614H81ZM98 618H104V620H98ZM98 620H104V622H98ZM98 622H104V624H98ZM81 624H87V626H81ZM81 628H87V630H81ZM75 630H81V632H75ZM81 634H87V636H81ZM92 634H98V636H92ZM58 636H64V638H58ZM75 636H81V638H75ZM92 638H98V640H92ZM70 640H75V642H70ZM75 640H81V642H75ZM98 640H104V642H98ZM87 642H92V644H87ZM58 644H64V646H58ZM64 646H70V648H64ZM75 646H81V648H75ZM81 646H87V648H81ZM81 648H87V649H81ZM92 648H98V649H92Z" fill="#ffe500" shape-rendering="crispEdges"/>
<path d="M122 430H128V432H122ZM151 434H156V436H151ZM219 444H225V446H219ZM145 456H151V458H145ZM156 466H162V468H156ZM162 466H168V468H162ZM145 475H151V477H145ZM213 475H219V477H213ZM105 477H111V479H105ZM111 477H116V479H111ZM116 477H122V479H116ZM122 477H128V479H122ZM139 477H145V479H139ZM156 477H162V479H156ZM162 477H168V479H162ZM179 477H185V479H179ZM207 477H213V479H207ZM219 477H225V479H219ZM230 477H236V479H230ZM116 481H122V483H116ZM133 481H139V483H133ZM213 481H219V483H213ZM156 485H162V487H156ZM213 485H219V487H213ZM133 493H139V495H133ZM133 495H139V497H133ZM190 512H196V514H190ZM242 512H247V514H242ZM190 522H196V524H190ZM116 532H122V534H116ZM139 532H145V534H139ZM190 532H196V534H190ZM213 532H219V534H213ZM116 542H122V544H116ZM190 542H196V544H190ZM139 548H145V550H139ZM207 558H213V560H207ZM247 558H253V560H247ZM105 578H111V580H105ZM247 580H253V582H247ZM111 582H116V584H111ZM173 582H179V584H173ZM179 582H185V584H179ZM202 582H207V584H202ZM230 582H236V584H230ZM242 584H247V585H242ZM105 588H111V590H105ZM145 588H151V590H145ZM151 588H156V590H151ZM207 588H213V590H207ZM247 588H253V590H247ZM145 596H151V598H145ZM145 598H151V600H145ZM190 598H196V600H190ZM145 600H151V602H145ZM230 604H236V606H230ZM145 614H151V616H145ZM145 620H151V622H145ZM145 626H151V628H145ZM145 646H151V648H145Z" fill="#fee105" shape-rendering="crispEdges"/>
<path d="M162 430H168V432H162ZM162 458H168V460H162ZM133 477H139V479H133ZM151 477H156V479H151ZM116 493H122V495H116ZM133 512H139V514H133ZM139 522H145V524H139ZM105 582H111V584H105ZM151 582H156V584H151ZM162 582H168V584H162ZM168 582H173V584H168ZM139 588H145V590H139ZM145 594H151V596H145ZM213 596H219V598H213ZM145 604H151V606H145ZM247 604H253V606H247ZM145 606H151V608H145ZM145 608H151V610H145ZM145 632H151V634H145Z" fill="#ffeb13" shape-rendering="crispEdges"/>
<path d="M111 432H116V434H111ZM236 452H242V454H236ZM236 454H242V456H236ZM230 462H236V464H230ZM236 462H242V464H236ZM173 468H179V470H173ZM236 468H242V470H236ZM236 550H242V552H236ZM236 586H242V588H236ZM236 624H242V626H236ZM236 646H242V648H236Z" fill="#ec4319" shape-rendering="crispEdges"/>
<path d="M236 446H242V448H236ZM111 454H116V456H111ZM173 460H179V462H173ZM196 460H202V462H196ZM173 572H179V574H173ZM236 572H242V574H236ZM236 648H242V649H236Z" fill="#e93617" shape-rendering="crispEdges"/>
<path d="M116 475H122V477H116ZM145 477H151V479H145ZM213 477H219V479H213ZM247 477H253V479H247ZM247 481H253V483H247ZM190 582H196V584H190ZM105 632H111V634H105Z" fill="#fff23a" shape-rendering="crispEdges"/>
<path d="M58 474.5H253M58 499.5H253M58 577.5H253M58 585.5H253M104.5 426V649" stroke="#fffbe6" stroke-width="1" shape-rendering="crispEdges"/>
<path d="M61 421V423.8M67 421V423.8M61 421H67M64 419.5V421M72.5 421V423.8M78 421V423.8M72.5 421H78M75.25 419.5V421M64 419.5H75.25M69.62 417.5V419.5M84 421V423.8M89.5 421V423.8M84 421H89.5M86.75 419V421M95 420.5V423.8M101 420.5V423.8M95 420.5H101M98 419V420.5M86.75 419H98M92.38 417.5V419M69.62 417.5H92.38M81 364V417.5M108 401.2V423.8M113.5 415V423.8M119 415V423.8M113.5 415H119M116.25 409.6V415M125 415.8V423.8M130.5 415.8V423.8M125 415.8H130.5M127.75 412.2V415.8M136 416.5V423.8M142 418V423.8M148 418V423.8M142 418H148M145 416.5V418M136 416.5H145M140.5 412.2V416.5M127.75 412.2H140.5M134.12 409.6V412.2M116.25 409.6H134.12M125.19 405V409.6M153.5 407.3V423.8M159 410.4V423.8M165 413.5V423.8M170.5 413.5V423.8M165 413.5H170.5M167.75 410.4V413.5M159 410.4H167.75M163.38 407.3V410.4M153.5 407.3H163.38M158.44 405V407.3M125.19 405H158.44M141.81 401.2V405M108 401.2H141.81M124.91 384.2V401.2M176 410.4V423.8M182 414.2V423.8M187.5 414.2V423.8M182 414.2H187.5M184.75 410.4V414.2M176 410.4H184.75M180.38 406V410.4M193 411.2V423.8M199 411.2V423.8M193 411.2H199M196 406V411.2M180.38 406H196M188.19 392.5V406M204.5 409.6V423.8M210 412.7V423.8M216 412.7V423.8M210 412.7H216M213 409.6V412.7M204.5 409.6H213M208.75 400.8V409.6M222 402.4V423.8M227.5 412.7V423.8M233 412.7V423.8M227.5 412.7H233M230.25 408.5V412.7M239 411.2V423.8M244.5 413.2V423.8M250 413.2V423.8M244.5 413.2H250M247.25 411.2V413.2M239 411.2H247.25M243.12 408.5V411.2M230.25 408.5H243.12M236.69 402.4V408.5M222 402.4H236.69M229.34 400.8V402.4M208.75 400.8H229.34M219.05 392.5V400.8M188.19 392.5H219.05M203.62 384.2V392.5M124.91 384.2H203.62M164.26 364V384.2M81 364H164.26" stroke="#6e6e6e" stroke-width="0.9" fill="none"/>
<path d="M4.5 478V580M4.5 478H28.5M28.5 458.5V488.6M28.5 458.5H38.4M38.4 448V469M28.5 488.6H36.6M36.6 481V495M4.5 580H22.5M22.5 564V597M22.5 564H27M27 550.6V578.8M27 550.6H36M36 531.5V567.5M27 578.8H38M38 576V583M22.5 597H33.3M33.3 587V606M33.3 587H40M40 582V592M33.3 606H38M38 596V630" stroke="#8a8a8a" stroke-width="0.8" fill="none"/>
<path d="M38.4 430.95V440.95M38.4 430.95H39.61M39.61 429.14V433.09M39.61 429.14H40.16M40.16 427.65V429.79M40.16 427.65H41.13M41.13 427.26V427.91M41.13 427.26H42.56M42.56 427.26H56M41.13 427.91H43.37M43.37 427.91H56M40.16 429.79H41.61M41.61 429.13V430.62M41.61 429.13H43.4M43.4 428.84V429.67M43.4 428.84H45.43M45.43 428.61V429.15M45.43 428.61H47.5M47.5 428.61H56M45.43 429.15H47.13M47.13 429.15H56M43.4 429.67H44.47M44.47 429.67H56M41.61 430.62H42.07M42.07 430.39V431.05M42.07 430.39H44.06M44.06 430.39H56M42.07 431.05H44.41M44.41 431.05H56M39.61 433.09H41.58M41.58 432.49V434.3M41.58 432.49H43.75M43.75 431.86V433.07M43.75 431.86H46.08M46.08 431.48V432.06M46.08 431.48H46.96M46.96 431.48H56M46.08 432.06H48.6M48.6 432.06H56M43.75 433.07H45.11M45.11 432.79V433.42M45.11 432.79H46.62M46.62 432.79H56M45.11 433.42H46.36M46.36 433.42H56M41.58 434.3H42.76M42.76 434.02V434.62M42.76 434.02H45.15M45.15 434.02H56M42.76 434.62H44.66M44.66 434.62H56M38.4 440.95H40.84M40.84 438.79V444.84M40.84 438.79H42.72M42.72 436.32V440.21M42.72 436.32H45.24M45.24 435.84V437.26M45.24 435.84H47.21M47.21 435.26V436.2M47.21 435.26H48.87M48.87 435.26H56M47.21 436.2H48.24M48.24 435.81V436.39M48.24 435.81H50.82M50.82 435.81H56M48.24 436.39H48.83M48.83 436.39H56M45.24 437.26H47.4M47.4 437.01V437.49M47.4 437.01H48.45M48.45 437.01H56M47.4 437.49H49.5M49.5 437.49H56M42.72 440.21H45.04M45.04 438.53V440.99M45.04 438.53H45.54M45.54 438.2V438.99M45.54 438.2H47.88M47.88 438.06V438.52M47.88 438.06H50.47M50.47 438.06H56M47.88 438.52H48.96M48.96 438.52H56M45.54 438.99H46.11M46.11 438.99H56M45.04 440.99H46.76M46.76 439.84V441.52M46.76 439.84H48.06M48.06 439.6V440.12M48.06 439.6H48.55M48.55 439.6H56M48.06 440.12H50.37M50.37 440.12H56M46.76 441.52H47.85M47.85 441.15V442.31M47.85 441.15H49.08M49.08 440.74V441.54M49.08 440.74H50.9M50.9 440.74H56M49.08 441.54H50.79M50.79 441.54H56M47.85 442.31H49.48M49.48 442.31H56M40.84 444.84H42.61M42.61 444.14V446.3M42.61 444.14H43.96M43.96 443.54V445M43.96 443.54H45.02M45.02 443.27V444.13M45.02 443.27H46.63M46.63 442.86V443.45M46.63 442.86H48.3M48.3 442.86H56M46.63 443.45H47.07M47.07 443.45H56M45.02 444.13H46.77M46.77 444.13H56M43.96 445H45.75M45.75 444.59V445.19M45.75 444.59H47.17M47.17 444.59H56M45.75 445.19H47.64M47.64 445.19H56M42.61 446.3H43.78M43.78 446.01V446.71M43.78 446.01H44.23M44.23 446.01H56M43.78 446.71H44.32M44.32 446.71H56M40 453.27V464.27M40 453.27H40.95M40.95 450.03V456.3M40.95 450.03H42.06M42.06 448.35V451.38M42.06 448.35H43.27M43.27 447.73V449.08M43.27 447.73H44.5M44.5 447.44V448.17M44.5 447.44H46.15M46.15 447.44H56M44.5 448.17H46.52M46.52 448.17H56M43.27 449.08H44.35M44.35 448.69V449.32M44.35 448.69H45.28M45.28 448.69H56M44.35 449.32H45.16M45.16 449.32H56M42.06 451.38H43.41M43.41 450.67V452.35M43.41 450.67H44.52M44.52 450.12V451.09M44.52 450.12H45.89M45.89 450.12H56M44.52 451.09H46.8M46.8 450.74V451.29M46.8 450.74H48.64M48.64 450.74H56M46.8 451.29H49.15M49.15 451.29H56M43.41 452.35H44.81M44.81 451.92V452.62M44.81 451.92H46.37M46.37 451.92H56M44.81 452.62H45.63M45.63 452.62H56M40.95 456.3H43.13M43.13 455.12V458.37M43.13 455.12H44.14M44.14 454.34V456.4M44.14 454.34H46.31M46.31 453.62V454.9M46.31 453.62H47.36M47.36 453.4V453.97M47.36 453.4H48.52M48.52 453.4H56M47.36 453.97H48.67M48.67 453.97H56M46.31 454.9H47.64M47.64 454.52V455.24M47.64 454.52H48.38M48.38 454.52H56M47.64 455.24H48.05M48.05 455.24H56M44.14 456.4H46.62M46.62 456.13V456.91M46.62 456.13H47.97M47.97 455.97V456.48M47.97 455.97H48.86M48.86 455.97H56M47.97 456.48H50.01M50.01 456.48H56M46.62 456.91H48.86M48.86 456.91H56M43.13 458.37H44.99M44.99 457.78V458.97M44.99 457.78H46.14M46.14 457.42V458.02M46.14 457.42H47.83M47.83 457.42H56M46.14 458.02H47.17M47.17 458.02H56M44.99 458.97H47.17M47.17 458.57V459.15M47.17 458.57H49.09M49.09 458.57H56M47.17 459.15H49.6M49.6 459.15H56M40 464.27H42.37M42.37 462.67V467.39M42.37 462.67H42.8M42.8 461.41V464.53M42.8 461.41H43.86M43.86 460.6V462.47M43.86 460.6H45.17M45.17 460.26V461.32M45.17 460.26H46.32M46.32 459.83V460.55M46.32 459.83H47.77M47.77 459.83H56M46.32 460.55H48.44M48.44 460.55H56M45.17 461.32H46.35M46.35 461.32H56M43.86 462.47H44.7M44.7 462.07V462.88M44.7 462.07H45.47M45.47 462.07H56M44.7 462.88H46.84M46.84 462.88H56M42.8 464.53H45.23M45.23 464.06V465.31M45.23 464.06H45.65M45.65 463.71V464.49M45.65 463.71H46.16M46.16 463.71H56M45.65 464.49H46.64M46.64 464.49H56M45.23 465.31H46.22M46.22 465.08V465.55M46.22 465.08H47.66M47.66 465.08H56M46.22 465.55H48.33M48.33 465.55H56M42.37 467.39H42.78M42.78 466.3V467.91M42.78 466.3H43.45M43.45 465.95V466.47M43.45 465.95H45.73M45.73 465.95H56M43.45 466.47H44.04M44.04 466.47H56M42.78 467.91H44.28M44.28 467.28V468.37M44.28 467.28H45.45M45.45 467.08V467.54M45.45 467.08H46.65M46.65 467.08H56M45.45 467.54H46.27M46.27 467.54H56M44.28 468.37H45.4M45.4 467.97V468.59M45.4 467.97H47.38M47.38 467.97H56M45.4 468.59H46.64M46.64 468.59H56M40 470.99V476.99M40 470.99H41.22M41.22 470.08V472.07M41.22 470.08H42.46M42.46 469.67V470.75M42.46 469.67H43.81M43.81 469.3V469.97M43.81 469.3H45.75M45.75 469.3H56M43.81 469.97H45.13M45.13 469.97H56M42.46 470.75H44.38M44.38 470.75H56M41.22 472.07H42.64M42.64 471.52V472.43M42.64 471.52H44.56M44.56 471.52H56M42.64 472.43H43.19M43.19 472.14V472.69M43.19 472.14H45.53M45.53 472.14H56M43.19 472.69H45.65M45.65 472.69H56M40 476.99H41.22M41.22 475.63V479.63M41.22 475.63H42.2M42.2 474.27V476.91M42.2 474.27H44.39M44.39 473.71V474.99M44.39 473.71H46.53M46.53 473.39V474.12M46.53 473.39H48.17M48.17 473.39H56M46.53 474.12H47.16M47.16 474.12H56M44.39 474.99H46.08M46.08 474.6V475.16M46.08 474.6H48.19M48.19 474.6H56M46.08 475.16H46.58M46.58 475.16H56M42.2 476.91H42.8M42.8 476.01V477.37M42.8 476.01H43.6M43.6 475.69V476.15M43.6 475.69H44.26M44.26 475.69H56M43.6 476.15H45.85M45.85 476.15H56M42.8 477.37H44.68M44.68 477.04V477.94M44.68 477.04H46.36M46.36 476.83V477.39M46.36 476.83H48.45M48.45 476.83H56M46.36 477.39H47.88M47.88 477.39H56M44.68 477.94H46.66M46.66 477.94H56M41.22 479.63H41.86M41.86 479.09V480.45M41.86 479.09H42.39M42.39 478.62V479.44M42.39 478.62H44.61M44.61 478.62H56M42.39 479.44H43.33M43.33 479.15V479.61M43.33 479.15H45.08M45.08 479.15H56M43.33 479.61H45.38M45.38 479.61H56M41.86 480.45H43.12M43.12 480.15V480.7M43.12 480.15H44.29M44.29 480.15H56M43.12 480.7H44.44M44.44 480.7H56M36.6 483.67V491.67M36.6 483.67H39.14M39.14 482.24V484.91M39.14 482.24H39.89M39.89 481.71V482.96M39.89 481.71H41.78M41.78 481.36V482.08M41.78 481.36H43.59M43.59 481.36H56M41.78 482.08H44.15M44.15 482.08H56M39.89 482.96H40.62M40.62 482.61V483.13M40.62 482.61H43.04M43.04 482.61H56M40.62 483.13H42.16M42.16 483.13H56M39.14 484.91H40.52M40.52 484.32V485.74M40.52 484.32H41.5M41.5 483.8V484.64M41.5 483.8H42.6M42.6 483.8H56M41.5 484.64H42.41M42.41 484.42V484.94M42.41 484.42H43.47M43.47 484.42H56M42.41 484.94H44.37M44.37 484.94H56M40.52 485.74H41.82M41.82 485.53V486.12M41.82 485.53H42.81M42.81 485.53H56M41.82 486.12H42.7M42.7 486.12H56M36.6 491.67H37.05M37.05 488.96V494.29M37.05 488.96H37.83M37.83 487.5V490.12M37.83 487.5H39.93M39.93 486.75V487.91M39.93 486.75H41.39M41.39 486.75H56M39.93 487.91H41.65M41.65 487.53V488.28M41.65 487.53H43.86M43.86 487.53H56M41.65 488.28H43.28M43.28 488.28H56M37.83 490.12H39.29M39.29 489.52V490.98M39.29 489.52H40.57M40.57 489.17V490.03M40.57 489.17H42M42 488.86V489.37M42 488.86H43.98M43.98 488.86H56M42 489.37H43.88M43.88 489.37H56M40.57 490.03H43.08M43.08 490.03H56M39.29 490.98H41.57M41.57 490.62V491.22M41.57 490.62H42.54M42.54 490.62H56M41.57 491.22H42.38M42.38 491.22H56M37.05 494.29H39M39 493.32V496.03M39 493.32H39.96M39.96 492.71V494.45M39.96 492.71H41.29M41.29 492.25V493.37M41.29 492.25H41.9M41.9 492V492.67M41.9 492H43.08M43.08 492H56M41.9 492.67H43.57M43.57 492.67H56M41.29 493.37H43.18M43.18 493.05V493.51M43.18 493.05H44.54M44.54 493.05H56M43.18 493.51H44.65M44.65 493.51H56M39.96 494.45H40.82M40.82 494.16V494.78M40.82 494.16H42.08M42.08 494.16H56M40.82 494.78H42.42M42.42 494.78H56M39 496.03H39.66M39.66 495.46V496.43M39.66 495.46H40.31M40.31 495.46H56M39.66 496.43H42.02M42.02 496.24V496.81M42.02 496.24H44.49M44.49 496.24H56M42.02 496.81H43.24M43.24 496.81H56M38 507.05V523.55M38 507.05H39.05M39.05 502.73V512.78M39.05 502.73H41.22M41.22 499.33V505.06M41.22 499.33H43.74M43.74 498.32V500.65M43.74 498.32H44.39M44.39 497.66V498.98M44.39 497.66H46.37M46.37 497.38V498.04M46.37 497.38H47.17M47.17 497.38H56M46.37 498.04H48.19M48.19 498.04H56M44.39 498.98H46.18M46.18 498.57V499.23M46.18 498.57H48.02M48.02 498.57H56M46.18 499.23H46.85M46.85 499.23H56M43.74 500.65H46.19M46.19 500.01V501.01M46.19 500.01H48.17M48.17 500.01H56M46.19 501.01H47.9M47.9 500.7V501.35M47.9 500.7H49.31M49.31 500.7H56M47.9 501.35H48.99M48.99 501.35H56M41.22 505.06H42.01M42.01 502.77V506.17M42.01 502.77H44.07M44.07 502.23V503.35M44.07 502.23H45.26M45.26 501.89V502.47M45.26 501.89H47.58M47.58 501.89H56M45.26 502.47H45.75M45.75 502.47H56M44.07 503.35H45.58M45.58 503.02V503.56M45.58 503.02H46.76M46.76 503.02H56M45.58 503.56H46.71M46.71 503.56H56M42.01 506.17H43.3M43.3 505.07V507.36M43.3 505.07H44.48M44.48 504.64V505.82M44.48 504.64H45.47M45.47 504.14V504.9M45.47 504.14H47.58M47.58 504.14H56M45.47 504.9H47.47M47.47 504.58V505.08M47.47 504.58H48.79M48.79 504.58H56M47.47 505.08H49.51M49.51 505.08H56M44.48 505.82H46.67M46.67 505.82H56M43.3 507.36H45.35M45.35 506.84V507.95M45.35 506.84H46.62M46.62 506.47V507.07M46.62 506.47H48.27M48.27 506.47H56M46.62 507.07H47.47M47.47 507.07H56M45.35 507.95H46.3M46.3 507.75V508.26M46.3 507.75H48.46M48.46 507.75H56M46.3 508.26H48.66M48.66 508.26H56M39.05 512.78H41.54M41.54 510.42V514.74M41.54 510.42H43.22M43.22 509.54V511.5M43.22 509.54H45.13M45.13 508.92V510M45.13 508.92H46.6M46.6 508.71V509.16M46.6 508.71H47M47 508.71H56M46.6 509.16H48.69M48.69 509.16H56M45.13 510H46.99M46.99 509.68V510.31M46.99 509.68H48.4M48.4 509.68H56M46.99 510.31H47.81M47.81 510.31H56M43.22 511.5H44.79M44.79 510.9V511.78M44.79 510.9H46.61M46.61 510.9H56M44.79 511.78H46.16M46.16 511.49V512.09M46.16 511.49H48.53M48.53 511.49H56M46.16 512.09H46.86M46.86 512.09H56M41.54 514.74H43.68M43.68 513.67V516.03M43.68 513.67H44.87M44.87 512.89V514.18M44.87 512.89H46.46M46.46 512.72V513.23M46.46 512.72H48.77M48.77 512.72H56M46.46 513.23H48.39M48.39 513.23H56M44.87 514.18H45.57M45.57 513.9V514.69M45.57 513.9H48.01M48.01 513.69V514.2M48.01 513.69H49.16M49.16 513.69H56M48.01 514.2H50.18M50.18 514.2H56M45.57 514.69H48.02M48.02 514.69H56M43.68 516.03H45.98M45.98 515.47V516.54M45.98 515.47H47.44M47.44 515.14V515.65M47.44 515.14H48.02M48.02 515.14H56M47.44 515.65H48.28M48.28 515.65H56M45.98 516.54H46.73M46.73 516.26V516.82M46.73 516.26H48.31M48.31 516.26H56M46.73 516.82H48.06M48.06 516.82H56M38 523.55H39.83M39.83 519.82V526.27M39.83 519.82H41.89M41.89 518.35V521.07M41.89 518.35H44.27M44.27 517.83V519.09M44.27 517.83H45.49M45.49 517.47V518.21M45.49 517.47H46.38M46.38 517.47H56M45.49 518.21H45.89M45.89 518.21H56M44.27 519.09H45.13M45.13 518.89V519.4M45.13 518.89H46.54M46.54 518.89H56M45.13 519.4H45.96M45.96 519.4H56M41.89 521.07H42.75M42.75 520.14V521.61M42.75 520.14H43.52M43.52 519.77V520.31M43.52 519.77H44.29M44.29 519.77H56M43.52 520.31H45M45 520.31H56M42.75 521.61H43.29M43.29 520.97V521.9M43.29 520.97H44.58M44.58 520.97H56M43.29 521.9H45.23M45.23 521.46V522.1M45.23 521.46H46.51M46.51 521.46H56M45.23 522.1H45.69M45.69 522.1H56M39.83 526.27H42.35M42.35 523.99V527.72M42.35 523.99H43.8M43.8 523.07V524.51M43.8 523.07H44.96M44.96 522.72V523.25M44.96 522.72H46.96M46.96 522.72H56M44.96 523.25H45.96M45.96 523.25H56M43.8 524.51H45.93M45.93 524.04V524.96M45.93 524.04H46.99M46.99 524.04H56M45.93 524.96H46.88M46.88 524.68V525.15M46.88 524.68H48.66M48.66 524.68H56M46.88 525.15H48.04M48.04 525.15H56M42.35 527.72H42.96M42.96 526.74V529.02M42.96 526.74H44.66M44.66 525.83V527.13M44.66 525.83H45.26M45.26 525.83H56M44.66 527.13H45.44M45.44 526.51V527.42M45.44 526.51H47.28M47.28 526.51H56M45.44 527.42H47.82M47.82 527.03V527.66M47.82 527.03H49.27M49.27 527.03H56M47.82 527.66H49.98M49.98 527.66H56M42.96 529.02H45.38M45.38 528.71V529.68M45.38 528.71H46.45M46.45 528.41V529.07M46.45 528.41H47.04M47.04 528.41H56M46.45 529.07H47.49M47.49 529.07H56M45.38 529.68H47.65M47.65 529.68H56M36 535.19V550.19M36 535.19H37.14M37.14 532.97V538.16M37.14 532.97H37.92M37.92 531.77V534.74M37.92 531.77H40.16M40.16 530.92V532.69M40.16 530.92H41.36M41.36 530.43V531.35M41.36 530.43H43.47M43.47 530.43H56M41.36 531.35H42.81M42.81 531.06V531.55M42.81 531.06H44.8M44.8 531.06H56M42.81 531.55H44.55M44.55 531.55H56M40.16 532.69H42.12M42.12 532.23V533.08M42.12 532.23H42.86M42.86 532.23H56M42.12 533.08H44.08M44.08 532.76V533.22M44.08 532.76H46.15M46.15 532.76H56M44.08 533.22H45.97M45.97 533.22H56M37.92 534.74H38.53M38.53 534.01V535.21M38.53 534.01H40.35M40.35 533.85V534.32M40.35 533.85H41.74M41.74 533.85H56M40.35 534.32H42.72M42.72 534.32H56M38.53 535.21H40.55M40.55 534.8V535.52M40.55 534.8H41.1M41.1 534.8H56M40.55 535.52H41.82M41.82 535.52H56M37.14 538.16H39.64M39.64 536.69V538.92M39.64 536.69H40.28M40.28 536.19V536.95M40.28 536.19H41.21M41.21 536.19H56M40.28 536.95H40.79M40.79 536.62V537.13M40.79 536.62H42.48M42.48 536.62H56M40.79 537.13H41.21M41.21 537.13H56M39.64 538.92H40.54M40.54 538.46V539.92M40.54 538.46H42.18M42.18 537.92V538.93M42.18 537.92H43.91M43.91 537.74V538.21M43.91 537.74H44.72M44.72 537.74H56M43.91 538.21H44.7M44.7 538.21H56M42.18 538.93H42.76M42.76 538.73V539.26M42.76 538.73H43.21M43.21 538.73H56M42.76 539.26H45.28M45.28 539.26H56M40.54 539.92H41.38M41.38 539.76V540.22M41.38 539.76H42.81M42.81 539.76H56M41.38 540.22H42.27M42.27 540.22H56M36 550.19H38.22M38.22 545.74V555.55M38.22 545.74H40.3M40.3 543.85V549.21M40.3 543.85H42.03M42.03 542.04V545.51M42.03 542.04H44.26M44.26 541.27V542.93M44.26 541.27H45.12M45.12 540.84V541.73M45.12 540.84H47.12M47.12 540.53V540.99M47.12 540.53H48.59M48.59 540.53H56M47.12 540.99H47.68M47.68 540.99H56M45.12 541.73H46.73M46.73 541.73H56M44.26 542.93H46.28M46.28 542.52V543.29M46.28 542.52H48.02M48.02 542.52H56M46.28 543.29H47.15M47.15 543.29H56M42.03 545.51H43.2M43.2 544.97V546.78M43.2 544.97H44.55M44.55 544.12V545.39M44.55 544.12H45.31M45.31 544.12H56M44.55 545.39H46.99M46.99 545.04V545.89M46.99 545.04H49.56M49.56 544.82V545.32M49.56 544.82H51.14M51.14 544.82H56M49.56 545.32H50.89M50.89 545.32H56M46.99 545.89H49.48M49.48 545.89H56M43.2 546.78H45.58M45.58 546.61V547.15M45.58 546.61H47.69M47.69 546.61H56M45.58 547.15H46.88M46.88 547.15H56M40.3 549.21H42.89M42.89 548.59V550.47M42.89 548.59H45.35M45.35 547.8V549.06M45.35 547.8H47.34M47.34 547.53V548M47.34 547.53H49.14M49.14 547.53H56M47.34 548H47.83M47.83 548H56M45.35 549.06H47.39M47.39 548.59V549.38M47.39 548.59H48.55M48.55 548.59H56M47.39 549.38H49.42M49.42 549.19V549.66M49.42 549.19H50.05M50.05 549.19H56M49.42 549.66H50.48M50.48 549.66H56M42.89 550.47H44.2M44.2 550.05V550.68M44.2 550.05H46.28M46.28 550.05H56M44.2 550.68H46.14M46.14 550.68H56M38.22 555.55H40.77M40.77 554.17V558.63M40.77 554.17H41.99M41.99 552.22V555.3M41.99 552.22H43.41M43.41 551.67V552.79M43.41 551.67H44.6M44.6 551.46V552.03M44.6 551.46H46.02M46.02 551.46H56M44.6 552.03H46.95M46.95 552.03H56M43.41 552.79H45.59M45.59 552.47V553.02M45.59 552.47H47.76M47.76 552.47H56M45.59 553.02H46.01M46.01 553.02H56M41.99 555.3H42.68M42.68 554.34V556.3M42.68 554.34H43.45M43.45 553.66V554.66M43.45 553.66H45.54M45.54 553.66H56M43.45 554.66H44.87M44.87 554.45V555.14M44.87 554.45H47.43M47.43 554.13V554.6M47.43 554.13H47.85M47.85 554.13H56M47.43 554.6H48.78M48.78 554.6H56M44.87 555.14H46.02M46.02 555.14H56M42.68 556.3H43.19M43.19 555.84V556.8M43.19 555.84H44.28M44.28 555.54V556.04M44.28 555.54H45.6M45.6 555.54H56M44.28 556.04H45.25M45.25 556.04H56M43.19 556.8H43.69M43.69 556.55V557.01M43.69 556.55H45.58M45.58 556.55H56M43.69 557.01H46.1M46.1 557.01H56M40.77 558.63H42.95M42.95 557.8V559.18M42.95 557.8H45.02M45.02 557.59V558.14M45.02 557.59H47.25M47.25 557.59H56M45.02 558.14H46.63M46.63 558.14H56M42.95 559.18H43.97M43.97 558.65V559.48M43.97 558.65H45.78M45.78 558.65H56M43.97 559.48H46.34M46.34 559.3V559.82M46.34 559.3H48.2M48.2 559.3H56M46.34 559.82H48.78M48.78 559.82H56M38 565.63V574.63M38 565.63H39.31M39.31 562.86V568.49M39.31 562.86H40.11M40.11 561.64V564.5M40.11 561.64H41.72M41.72 560.76V562.4M41.72 560.76H43.12M43.12 560.47V561.23M43.12 560.47H45.63M45.63 560.17V560.64M45.63 560.17H47.18M47.18 560.17H56M45.63 560.64H46.94M46.94 560.64H56M43.12 561.23H45.39M45.39 561.23H56M41.72 562.4H43.94M43.94 562.11V562.99M43.94 562.11H44.41M44.41 561.83V562.42M44.41 561.83H45.88M45.88 561.83H56M44.41 562.42H45.42M45.42 562.42H56M43.94 562.99H45.9M45.9 562.99H56M40.11 564.5H42.52M42.52 563.69V564.91M42.52 563.69H43.74M43.74 563.69H56M42.52 564.91H44.05M44.05 564.64V565.44M44.05 564.64H45.87M45.87 564.31V564.84M45.87 564.31H46.67M46.67 564.31H56M45.87 564.84H47.11M47.11 564.84H56M44.05 565.44H46.27M46.27 565.44H56M39.31 568.49H40.41M40.41 566.85V569.62M40.41 566.85H42.88M42.88 566.2V567.33M42.88 566.2H43.9M43.9 565.88V566.37M43.9 565.88H46.46M46.46 565.88H56M43.9 566.37H44.48M44.48 566.37H56M42.88 567.33H43.79M43.79 566.93V567.58M43.79 566.93H45.35M45.35 566.93H56M43.79 567.58H45.82M45.82 567.58H56M40.41 569.62H42.65M42.65 568.89V570.53M42.65 568.89H43.06M43.06 568.35V569.26M43.06 568.35H43.62M43.62 568.35H56M43.06 569.26H44.05M44.05 568.99V569.52M44.05 568.99H45.65M45.65 568.99H56M44.05 569.52H44.56M44.56 569.52H56M42.65 570.53H43.57M43.57 570.29V571.03M43.57 570.29H45.96M45.96 569.98V570.48M45.96 569.98H47.85M47.85 569.98H56M45.96 570.48H47.79M47.79 570.48H56M43.57 571.03H44.28M44.28 571.03H56M38 574.63H38.52M38.52 573.3V576.66M38.52 573.3H39.34M39.34 572.54V574.58M39.34 572.54H39.84M39.84 572.14V573.42M39.84 572.14H41.09M41.09 571.56V572.44M41.09 571.56H43.66M43.66 571.56H56M41.09 572.44H42.1M42.1 572.06V572.64M42.1 572.06H42.78M42.78 572.06H56M42.1 572.64H43.28M43.28 572.64H56M39.84 573.42H42.26M42.26 573.42H56M39.34 574.58H39.91M39.91 574.1V574.86M39.91 574.1H42.5M42.5 574.1H56M39.91 574.86H42.46M42.46 574.58V575.05M42.46 574.58H44.95M44.95 574.58H56M42.46 575.05H43.93M43.93 575.05H56M38.52 576.66H40.47M40.47 575.9V577.23M40.47 575.9H41.63M41.63 575.67V576.24M41.63 575.67H43.28M43.28 575.67H56M41.63 576.24H43.05M43.05 576.24H56M40.47 577.23H42.05M42.05 576.83V577.6M42.05 576.83H44.28M44.28 576.83H56M42.05 577.6H42.89M42.89 577.6H56M40 580.15V584.15M40 580.15H42.27M42.27 578.8V580.95M42.27 578.8H44.51M44.51 578.29V579.09M44.51 578.29H45.36M45.36 578.29H56M44.51 579.09H45.03M45.03 578.94V579.44M45.03 578.94H47.35M47.35 578.94H56M45.03 579.44H45.68M45.68 579.44H56M42.27 580.95H42.7M42.7 580.47V581.83M42.7 580.47H45.28M45.28 580.1V580.98M45.28 580.1H47.36M47.36 579.77V580.27M47.36 579.77H48.73M48.73 579.77H56M47.36 580.27H48.09M48.09 580.27H56M45.28 580.98H47M47 580.98H56M42.7 581.83H43.81M43.81 581.59V582.07M43.81 581.59H44.91M44.91 581.59H56M43.81 582.07H45M45 582.07H56M40 584.15H41.72M41.72 583.58V585.43M41.72 583.58H44.02M44.02 583.11V584.39M44.02 583.11H46.57M46.57 582.63V583.44M46.57 582.63H48.07M48.07 582.63H56M46.57 583.44H48.58M48.58 583.17V583.65M48.58 583.17H49.6M49.6 583.17H56M48.58 583.65H51.11M51.11 583.65H56M44.02 584.39H45.42M45.42 584.16V584.62M45.42 584.16H47.74M47.74 584.16H56M45.42 584.62H47.99M47.99 584.62H56M41.72 585.43H43.28M43.28 585.13V585.7M43.28 585.13H43.84M43.84 585.13H56M43.28 585.7H44.62M44.62 585.7H56M40 590.47V597.47M40 590.47H40.53M40.53 588.87V593.34M40.53 588.87H43.09M43.09 587.28V590.15M43.09 587.28H44.7M44.7 586.84V588.12M44.7 586.84H47M47 586.49V587.33M47 586.49H48.07M48.07 586.25V586.74M48.07 586.25H49.29M49.29 586.25H56M48.07 586.74H49.9M49.9 586.74H56M47 587.33H49.33M49.33 587.33H56M44.7 588.12H46.38M46.38 588.12H56M43.09 590.15H43.81M43.81 589.18V590.77M43.81 589.18H45.56M45.56 588.78V589.4M45.56 588.78H46.67M46.67 588.78H56M45.56 589.4H46.59M46.59 589.4H56M43.81 590.77H44.28M44.28 590.3V591.27M44.28 590.3H45.85M45.85 590.1V590.6M45.85 590.1H48.09M48.09 590.1H56M45.85 590.6H48.26M48.26 590.6H56M44.28 591.27H45.65M45.65 591.07V591.54M45.65 591.07H47.98M47.98 591.07H56M45.65 591.54H46.88M46.88 591.54H56M40.53 593.34H41.98M41.98 592.79V594.39M41.98 592.79H42.79M42.79 592.4V593.45M42.79 592.4H43.38M43.38 591.95V592.61M43.38 591.95H43.8M43.8 591.95H56M43.38 592.61H45.61M45.61 592.32V592.78M45.61 592.32H46.87M46.87 592.32H56M45.61 592.78H47.14M47.14 592.78H56M42.79 593.45H44.15M44.15 593.45H56M41.98 594.39H43.76M43.76 594.15V594.71M43.76 594.15H44.37M44.37 594.15H56M43.76 594.71H46.31M46.31 594.71H56M40 597.47H41.92M41.92 595.79V598.32M41.92 595.79H43.98M43.98 595.53V596.38M43.98 595.53H44.4M44.4 595.23V595.82M44.4 595.23H46.77M46.77 595.23H56M44.4 595.82H46.62M46.62 595.82H56M43.98 596.38H45.11M45.11 596.38H56M41.92 598.32H43.24M43.24 597.53V599.21M43.24 597.53H44.09M44.09 597.04V597.94M44.09 597.04H45.9M45.9 597.04H56M44.09 597.94H44.54M44.54 597.78V598.27M44.54 597.78H46.21M46.21 597.78H56M44.54 598.27H45.13M45.13 598.27H56M43.24 599.21H44.15M44.15 598.81V599.6M44.15 598.81H45.74M45.74 598.81H56M44.15 599.6H45.18M45.18 599.6H56M38 609.7V623.7M38 609.7H39.56M39.56 603.7V613.39M39.56 603.7H41.94M41.94 601.3V605M41.94 601.3H43.71M43.71 600.58V601.88M43.71 600.58H46.11M46.11 600.37V600.95M46.11 600.37H46.96M46.96 600.37H56M46.11 600.95H46.64M46.64 600.95H56M43.71 601.88H45.06M45.06 601.46V602.19M45.06 601.46H47.38M47.38 601.46H56M45.06 602.19H45.93M45.93 602.19H56M41.94 605H44.15M44.15 604.22V606.61M44.15 604.22H46.56M46.56 603.35V604.96M46.56 603.35H47.37M47.37 602.84V603.58M47.37 602.84H48.62M48.62 602.84H56M47.37 603.58H49.65M49.65 603.4V603.9M49.65 603.4H50.93M50.93 603.4H56M49.65 603.9H50.9M50.9 603.9H56M46.56 604.96H47.35M47.35 604.44V605.31M47.35 604.44H49.28M49.28 604.44H56M47.35 605.31H48.5M48.5 604.97V605.49M48.5 604.97H49.87M49.87 604.97H56M48.5 605.49H50.14M50.14 605.49H56M44.15 606.61H45.09M45.09 606.29V607.06M45.09 606.29H46.97M46.97 606.08V606.53M46.97 606.08H49.02M49.02 606.08H56M46.97 606.53H48.24M48.24 606.53H56M45.09 607.06H46.68M46.68 607.06H56M39.56 613.39H41.28M41.28 610.7V616.7M41.28 610.7H41.8M41.8 609.42V612.73M41.8 609.42H43.28M43.28 608.47V610.51M43.28 608.47H45.66M45.66 608.01V609.09M45.66 608.01H47.85M47.85 607.82V608.44M47.85 607.82H50.44M50.44 607.82H56M47.85 608.44H49.32M49.32 608.44H56M45.66 609.09H46.45M46.45 608.9V609.36M46.45 608.9H48.46M48.46 608.9H56M46.45 609.36H48.13M48.13 609.36H56M43.28 610.51H43.92M43.92 610.04V610.99M43.92 610.04H45.37M45.37 609.8V610.29M45.37 609.8H46.75M46.75 609.8H56M45.37 610.29H46.85M46.85 610.29H56M43.92 610.99H45.6M45.6 610.82V611.29M45.6 610.82H46.2M46.2 610.82H56M45.6 611.29H47.67M47.67 611.29H56M41.8 612.73H43.42M43.42 612V613.27M43.42 612H45.76M45.76 611.74V612.27M45.76 611.74H48M48 611.74H56M45.76 612.27H47.81M47.81 612.27H56M43.42 613.27H44.46M44.46 612.76V613.5M44.46 612.76H46.47M46.47 612.76H56M44.46 613.5H45.63M45.63 613.24V613.75M45.63 613.24H46.58M46.58 613.24H56M45.63 613.75H47.56M47.56 613.75H56M41.28 616.7H42.92M42.92 615.23V617.93M42.92 615.23H44.53M44.53 614.53V615.76M44.53 614.53H45.31M45.31 614.25V614.77M45.31 614.25H46.61M46.61 614.25H56M45.31 614.77H46.98M46.98 614.77H56M44.53 615.76H45.17M45.17 615.28V615.98M45.17 615.28H46.01M46.01 615.28H56M45.17 615.98H46.68M46.68 615.68V616.16M46.68 615.68H48.26M48.26 615.68H56M46.68 616.16H49.11M49.11 616.16H56M42.92 617.93H45.23M45.23 617.2V618.67M45.23 617.2H45.77M45.77 616.76V617.51M45.77 616.76H48.24M48.24 616.76H56M45.77 617.51H46.43M46.43 617.51H56M45.23 618.67H47.71M47.71 618.3V619.03M47.71 618.3H48.69M48.69 618.3H56M47.71 619.03H50.23M50.23 619.03H56M38 623.7H38.81M38.81 621.67V625.97M38.81 621.67H39.65M39.65 620.28V622.56M39.65 620.28H41.79M41.79 619.92V620.81M41.79 619.92H42.4M42.4 619.7V620.23M42.4 619.7H43.3M43.3 619.7H56M42.4 620.23H43.81M43.81 620.23H56M41.79 620.81H44.33M44.33 620.81H56M39.65 622.56H40.77M40.77 622.01V623.4M40.77 622.01H42.63M42.63 621.51V622.35M42.63 621.51H43.85M43.85 621.51H56M42.63 622.35H44.95M44.95 622.15V622.65M44.95 622.15H46.86M46.86 622.15H56M44.95 622.65H46.29M46.29 622.65H56M40.77 623.4H42.94M42.94 623.07V623.62M42.94 623.07H44.63M44.63 623.07H56M42.94 623.62H44.19M44.19 623.62H56M38.81 625.97H39.31M39.31 624.69V626.72M39.31 624.69H40.18M40.18 624.4V625.14M40.18 624.4H42.67M42.67 624.23V624.68M42.67 624.23H43.89M43.89 624.23H56M42.67 624.68H43.17M43.17 624.68H56M40.18 625.14H41.8M41.8 625.14H56M39.31 626.72H41.35M41.35 626.29V627.58M41.35 626.29H42.1M42.1 626.03V626.89M42.1 626.03H43.57M43.57 625.79V626.38M43.57 625.79H45.16M45.16 625.79H56M43.57 626.38H45.44M45.44 626.38H56M42.1 626.89H43.83M43.83 626.89H56M41.35 627.58H42.11M42.11 627.58H56M40 631.55V641.55M40 631.55H42.35M42.35 629.26V632.81M42.35 629.26H42.93M42.93 628.77V630.03M42.93 628.77H44.33M44.33 628.54V629.31M44.33 628.54H45.31M45.31 628.31V628.85M45.31 628.31H46.33M46.33 628.31H56M45.31 628.85H47.25M47.25 628.85H56M44.33 629.31H45.11M45.11 629.31H56M42.93 630.03H43.4M43.4 629.79V630.28M43.4 629.79H45.94M45.94 629.79H56M43.4 630.28H44.02M44.02 630.28H56M42.35 632.81H44.51M44.51 631.56V633.85M44.51 631.56H45.89M45.89 631.11V632.15M45.89 631.11H46.78M46.78 630.8V631.39M46.78 630.8H47.94M47.94 630.8H56M46.78 631.39H47.69M47.69 631.39H56M45.89 632.15H47.2M47.2 631.85V632.3M47.2 631.85H48.86M48.86 631.85H56M47.2 632.3H48.8M48.8 632.3H56M44.51 633.85H46.22M46.22 633.12V634.37M46.22 633.12H46.68M46.68 632.83V633.35M46.68 632.83H48.33M48.33 632.83H56M46.68 633.35H47.67M47.67 633.35H56M46.22 634.37H48.3M48.3 634.03V634.76M48.3 634.03H50.32M50.32 634.03H56M48.3 634.76H49.85M49.85 634.76H56M40 641.55H41.34M41.34 637.83V644.28M41.34 637.83H43.49M43.49 636.46V639.19M43.49 636.46H45.92M45.92 635.82V637.19M45.92 635.82H47.29M47.29 635.35V636.08M47.29 635.35H48.06M48.06 635.35H56M47.29 636.08H48.5M48.5 635.94V636.41M48.5 635.94H49.99M49.99 635.94H56M48.5 636.41H49.95M49.95 636.41H56M45.92 637.19H46.87M46.87 636.98V637.62M46.87 636.98H47.3M47.3 636.98H56M46.87 637.62H48.31M48.31 637.62H56M43.49 639.19H43.9M43.9 638.62V639.99M43.9 638.62H46.29M46.29 638.08V638.88M46.29 638.08H47.36M47.36 638.08H56M46.29 638.88H47.73M47.73 638.56V639.11M47.73 638.56H48.42M48.42 638.56H56M47.73 639.11H49.51M49.51 639.11H56M43.9 639.99H44.49M44.49 639.81V640.38M44.49 639.81H47.01M47.01 639.81H56M44.49 640.38H45.31M45.31 640.38H56M41.34 644.28H41.92M41.92 642.78V646.5M41.92 642.78H44.01M44.01 641.68V643.9M44.01 641.68H44.6M44.6 641.2V642.32M44.6 641.2H47.11M47.11 640.75V641.39M47.11 640.75H49M49 640.75H56M47.11 641.39H49.55M49.55 641.39H56M44.6 642.32H45.92M45.92 642.12V642.6M45.92 642.12H47.18M47.18 642.12H56M45.92 642.6H47.35M47.35 642.6H56M44.01 643.9H45.74M45.74 643.14V644.25M45.74 643.14H47.76M47.76 643.14H56M45.74 644.25H46.71M46.71 643.86V644.62M46.71 643.86H47.89M47.89 643.86H56M46.71 644.62H48.54M48.54 644.62H56M41.92 646.5H43.96M43.96 646.03V647.53M43.96 646.03H44.8M44.8 645.45V646.47M44.8 645.45H45.73M45.73 645.45H56M44.8 646.47H46.49M46.49 646.21V646.79M46.49 646.21H47.29M47.29 646.21H56M46.49 646.79H47.11M47.11 646.79H56M43.96 647.53H44.75M44.75 647.29V647.76M44.75 647.29H47.1M47.1 647.29H56M44.75 647.76H46.39M46.39 647.76H56" stroke="#4a4a4a" stroke-width="0.55" fill="none"/>
<rect x="48.5" y="427" width="7.5" height="221.5" fill="#b4b4b4"/>
<path d="M49.3 427.2H56V438H49.3ZM49.3 445.2H56V452.4H49.3ZM49.3 456H56V460.4H49.3ZM49.3 471.2H56V475.7H49.3ZM49.3 494.6H56V500H49.3ZM49.3 509.9H56V517.1H49.3ZM49.3 520.7H56V526H49.3ZM49.3 532H56V542.2H49.3ZM49.3 560.2H56V568.3H49.3ZM49.3 577.2H56V582.6H49.3ZM49.3 586.2H56V590.7H49.3ZM49.3 601.5H56V610.5H49.3ZM49.3 624.9H56V632.1H49.3ZM49.3 641H56V644.7H49.3Z" fill="#4c4c4c"/>
<rect x="57" y="650" width="47" height="4" fill="#1414e6"/>
<rect x="104" y="650" width="149.6" height="4" fill="#f00000"/>
<text x="51.8" y="664.3" font-size="9.8" fill="#111">CD34<tspan font-size="5.5" dy="-2.5">+</tspan><tspan dy="2.5"> NBM</tspan></text>
<text x="156.3" y="664.3" font-size="9.6" fill="#111"><tspan font-style="italic">EVI1</tspan> AMLs</text>
</g>
<g id="D">
<text x="280" y="355.8" font-size="13.5" font-weight="bold" text-anchor="start" fill="#000">D</text>
<text x="311.6" y="388.5" font-size="11.7" font-weight="bold" text-anchor="start" fill="#000">CG Clusters</text>
<text x="425.8" y="388.5" font-size="11.7" font-weight="bold" text-anchor="start" fill="#000">CpG Islands</text>
<text x="308.2" y="403.5" font-size="9.56" text-anchor="start" fill="#111">p-value &lt; 0.0001</text>
<text x="427.2" y="403.5" font-size="9.56" text-anchor="start" fill="#111">p-value &lt; 0.0003</text>
<path d="M306 418.5V416C306 410 309 408 316 408H375.7C382.7 408 385.7 410 385.7 416V418.5" stroke="#111" stroke-width="1.1" fill="none"/>
<path d="M423 418.5V416C423 410 426 408 433 408H491.5C498.5 408 501.5 410 501.5 416V418.5" stroke="#111" stroke-width="1.1" fill="none"/>
<rect x="299.2" y="424.2" width="40.8" height="69.38" fill="#c4c4c4"/>
<rect x="299.2" y="493.58" width="40.8" height="95.82" fill="#9ed200"/>
<text x="319.6" y="462.39" font-size="10" text-anchor="middle" fill="#111">42</text>
<text x="319.6" y="544.99" font-size="10" text-anchor="middle" fill="#111">58</text>
<rect x="347.4" y="424.2" width="40.1" height="46.26" fill="#c4c4c4"/>
<rect x="347.4" y="470.46" width="40.1" height="118.94" fill="#9ed200"/>
<text x="367.45" y="450.83" font-size="10" text-anchor="middle" fill="#111">28</text>
<text x="367.45" y="533.43" font-size="10" text-anchor="middle" fill="#111">72</text>
<rect x="416.6" y="424.2" width="40.6" height="100.77" fill="#c4c4c4"/>
<rect x="416.6" y="524.97" width="40.6" height="64.43" fill="#9ed200"/>
<text x="436.9" y="478.09" font-size="10" text-anchor="middle" fill="#111">61</text>
<text x="436.9" y="560.69" font-size="10" text-anchor="middle" fill="#111">39</text>
<rect x="465.8" y="424.2" width="39.9" height="82.6" fill="#c4c4c4"/>
<rect x="465.8" y="506.8" width="39.9" height="82.6" fill="#9ed200"/>
<text x="485.75" y="469" font-size="10" text-anchor="middle" fill="#111">50</text>
<text x="485.75" y="551.6" font-size="10" text-anchor="middle" fill="#111">50</text>
<path d="M295.7 414V590M292.2 589.4H295.7M292.2 548.1H295.7M292.2 506.8H295.7M292.2 465.5H295.7M292.2 424.2H295.7" stroke="#9a9a9a" stroke-width="0.8" fill="none"/>
<text x="290.2" y="592.4" font-size="8.5" text-anchor="end" fill="#111">0</text>
<text x="290.2" y="551.1" font-size="8.5" text-anchor="end" fill="#111">25</text>
<text x="290.2" y="509.8" font-size="8.5" text-anchor="end" fill="#111">50</text>
<text x="290.2" y="468.5" font-size="8.5" text-anchor="end" fill="#111">75</text>
<text x="290.2" y="427.2" font-size="8.5" text-anchor="end" fill="#111">100</text>
<path d="M413.6 414V590M410.1 589.4H413.6M410.1 548.1H413.6M410.1 506.8H413.6M410.1 465.5H413.6M410.1 424.2H413.6" stroke="#9a9a9a" stroke-width="0.8" fill="none"/>
<text x="408.1" y="592.4" font-size="8.5" text-anchor="end" fill="#111">0</text>
<text x="408.1" y="551.1" font-size="8.5" text-anchor="end" fill="#111">25</text>
<text x="408.1" y="509.8" font-size="8.5" text-anchor="end" fill="#111">50</text>
<text x="408.1" y="468.5" font-size="8.5" text-anchor="end" fill="#111">75</text>
<text x="408.1" y="427.2" font-size="8.5" text-anchor="end" fill="#111">100</text>
<text transform="translate(276.2 507) rotate(-90)" font-size="9.8" text-anchor="middle" fill="#111">Percent (%)</text>
<text x="316" y="602.2" font-size="10" text-anchor="middle" fill="#111">Whole</text>
<text x="316" y="613.3" font-size="10" text-anchor="middle" fill="#111">array</text>
<text x="371.05" y="602.2" font-size="10.1" text-anchor="middle" fill="#111">Differentially</text>
<text x="371.05" y="613.3" font-size="10.1" text-anchor="middle" fill="#111">Methylated</text>
<text x="433.3" y="602.2" font-size="10" text-anchor="middle" fill="#111">Whole</text>
<text x="433.3" y="613.3" font-size="10" text-anchor="middle" fill="#111">array</text>
<text x="489.35" y="602.2" font-size="10.1" text-anchor="middle" fill="#111">Differentially</text>
<text x="489.35" y="613.3" font-size="10.1" text-anchor="middle" fill="#111">Methylated</text>
<rect x="289.2" y="632" width="226.2" height="16.4" fill="#fff" stroke="#555" stroke-width="0.8"/>
<rect x="296.2" y="635.7" width="9.2" height="9.3" fill="#9ed200"/>
<rect x="448.9" y="635.7" width="9.3" height="9.3" fill="#c4c4c4"/>
<text x="308.6" y="643.8" font-size="9.6" text-anchor="start" fill="#111">Overlap CG cluster/CpG islands</text>
<text x="461.8" y="643.8" font-size="9.5" text-anchor="start" fill="#111">No overlap</text>
</g>
</svg></body></html>
